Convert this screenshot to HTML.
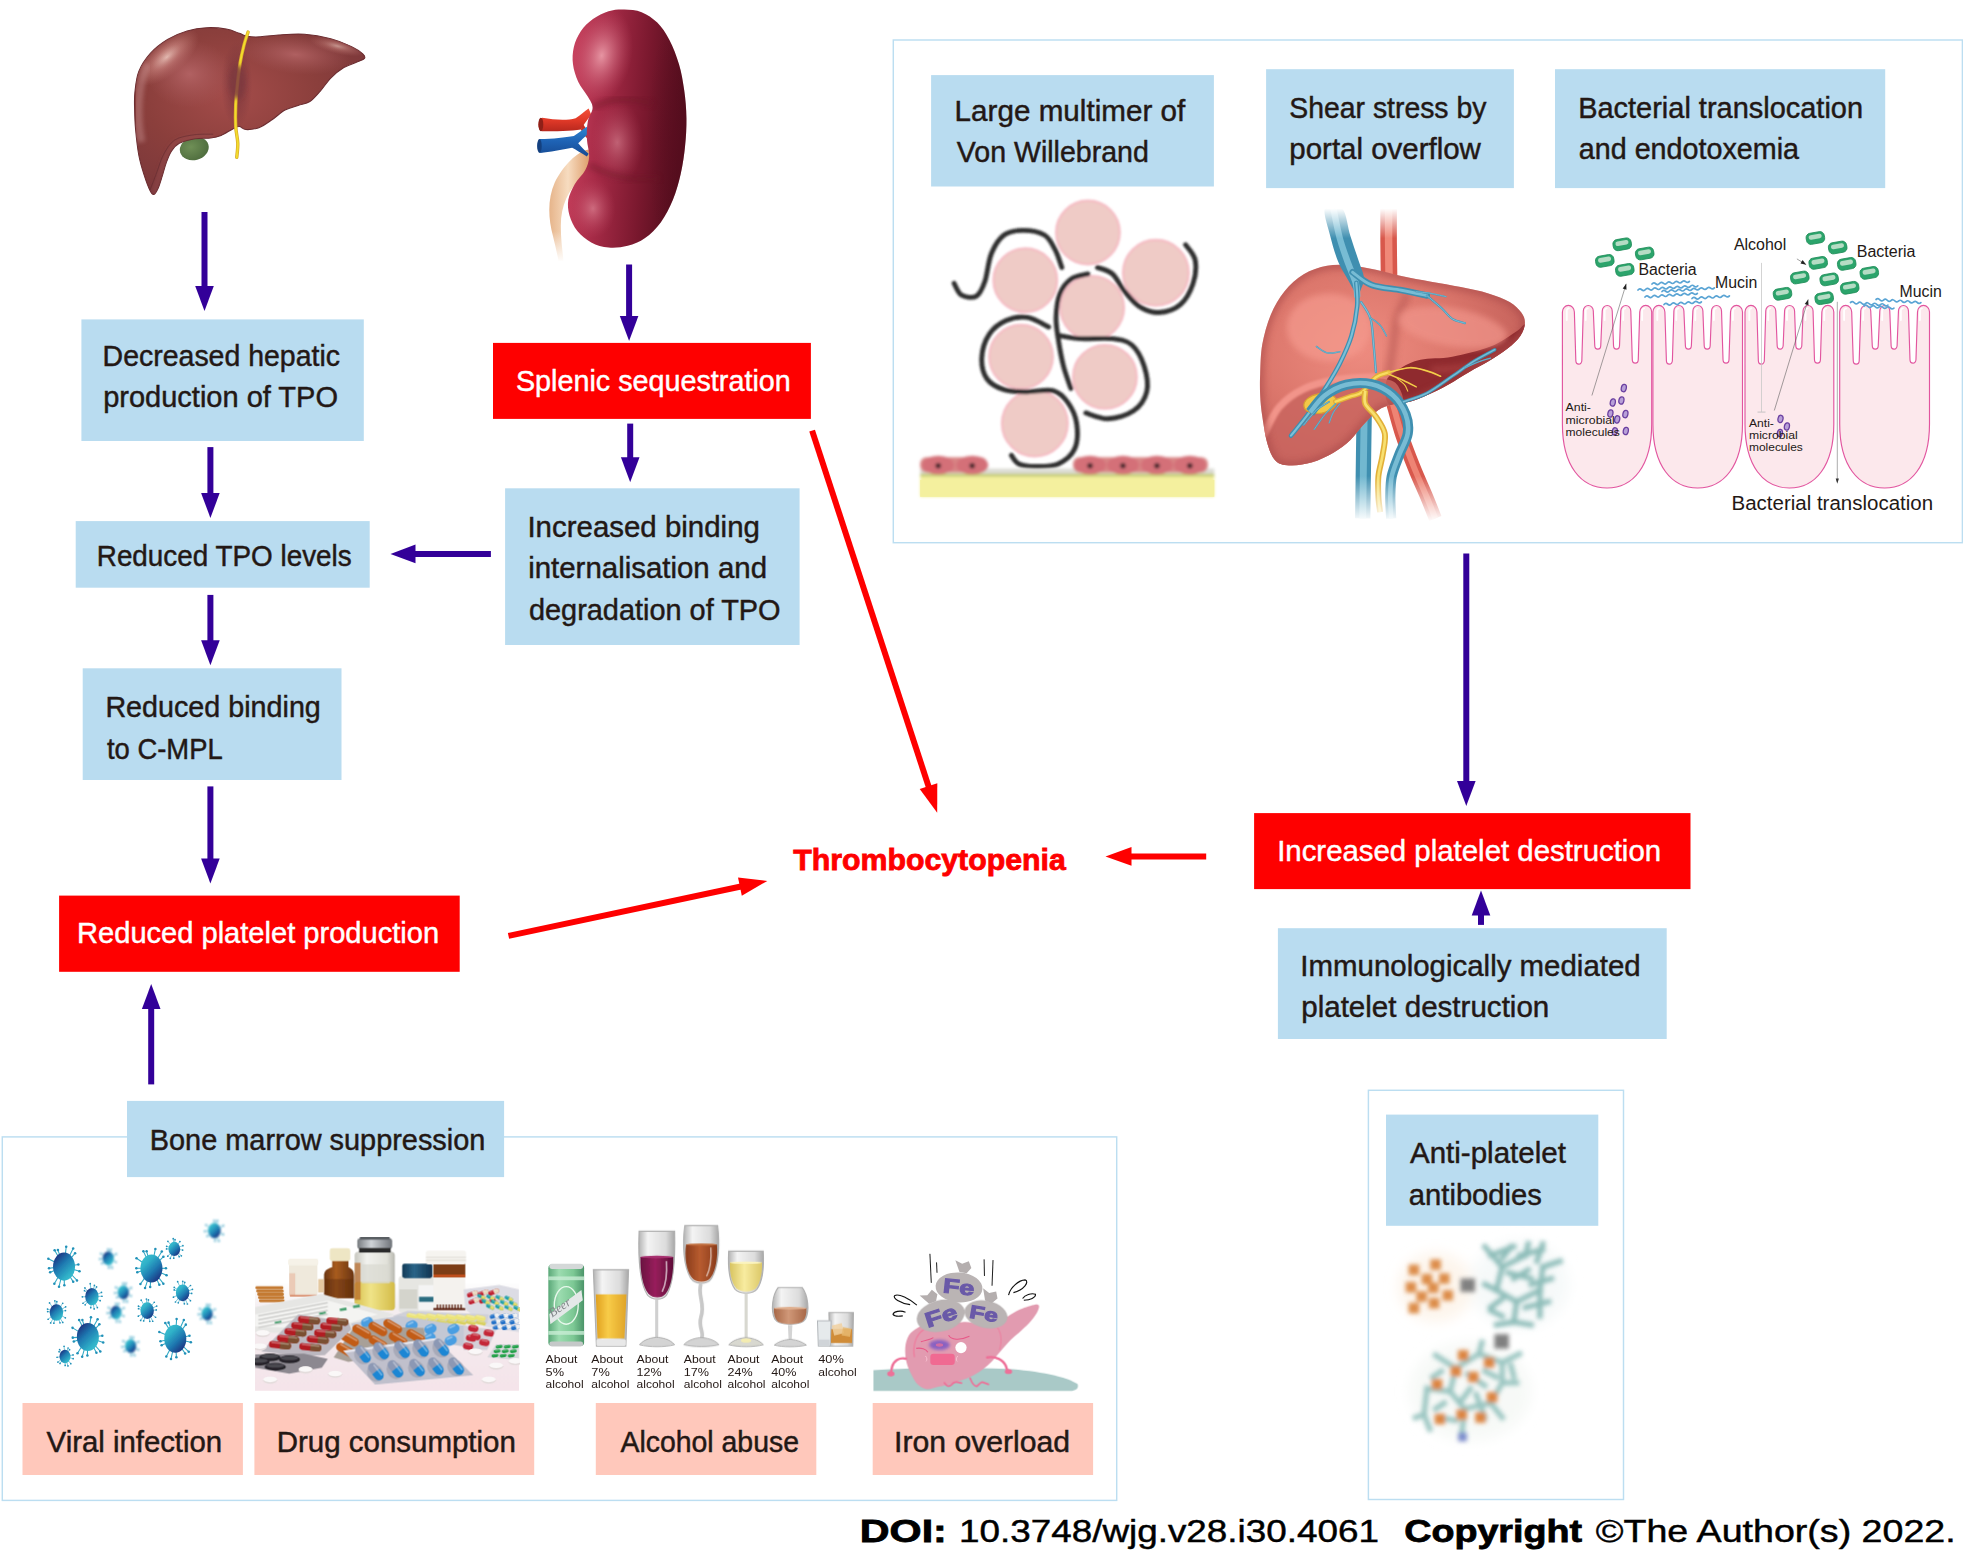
<!DOCTYPE html>
<html><head><meta charset="utf-8"><title>Thrombocytopenia mechanisms</title>
<style>
html,body{margin:0;padding:0;background:#fff;}
body{width:1963px;height:1554px;overflow:hidden;font-family:"Liberation Sans",sans-serif;}
svg{display:block;font-family:"Liberation Sans",sans-serif;}
</style></head><body>
<svg width="1963" height="1554" viewBox="0 0 1963 1554">
<rect width="1963" height="1554" fill="#fff"/>
<rect x="893.3" y="40.0" width="1069.1" height="502.7" fill="none" stroke="#bcdef1" stroke-width="1.45"/>
<rect x="2.3" y="1136.9" width="1114.4" height="363.5" fill="none" stroke="#bcdef1" stroke-width="1.45"/>
<rect x="1368.4" y="1090.3" width="255.1" height="409.2" fill="none" stroke="#bcdef1" stroke-width="1.45"/>
<rect x="81.4" y="319.4" width="282.4" height="121.6" fill="#b9dcf0"/>
<rect x="75.7" y="521.1" width="294.0" height="66.6" fill="#b9dcf0"/>
<rect x="82.7" y="668.3" width="258.8" height="111.7" fill="#b9dcf0"/>
<rect x="59.1" y="895.6" width="400.6" height="76.2" fill="#fe0000"/>
<rect x="127.0" y="1100.9" width="377.1" height="76.2" fill="#b9dcf0"/>
<rect x="493.0" y="342.9" width="317.9" height="76.0" fill="#fe0000"/>
<rect x="505.1" y="488.3" width="294.5" height="156.7" fill="#b9dcf0"/>
<rect x="931.1" y="75.1" width="282.8" height="111.4" fill="#b9dcf0"/>
<rect x="1266.1" y="69.2" width="247.8" height="118.9" fill="#b9dcf0"/>
<rect x="1555.0" y="69.2" width="330.2" height="118.9" fill="#b9dcf0"/>
<rect x="1254.1" y="813.1" width="436.4" height="76.0" fill="#fe0000"/>
<rect x="1277.9" y="928.2" width="388.8" height="110.8" fill="#b9dcf0"/>
<rect x="1386.0" y="1114.6" width="212.3" height="111.2" fill="#b9dcf0"/>
<rect x="22.5" y="1403.0" width="220.4" height="72.0" fill="#ffc8bb"/>
<rect x="254.4" y="1403.0" width="279.8" height="72.0" fill="#ffc8bb"/>
<rect x="595.8" y="1403.0" width="220.5" height="72.0" fill="#ffc8bb"/>
<rect x="872.7" y="1403.0" width="220.4" height="72.0" fill="#ffc8bb"/>
<text x="102.62" y="365.6" textLength="237.39" lengthAdjust="spacingAndGlyphs" font-size="28.6" font-weight="normal" fill="#231815" stroke="#231815" stroke-width="0.45">Decreased hepatic</text>
<text x="103.16" y="407.4" textLength="234.82" lengthAdjust="spacingAndGlyphs" font-size="28.6" font-weight="normal" fill="#231815" stroke="#231815" stroke-width="0.45">production of TPO</text>
<text x="96.78" y="566.4" textLength="254.90" lengthAdjust="spacingAndGlyphs" font-size="28.6" font-weight="normal" fill="#231815" stroke="#231815" stroke-width="0.45">Reduced TPO levels</text>
<text x="105.40" y="717.2" textLength="215.45" lengthAdjust="spacingAndGlyphs" font-size="28.6" font-weight="normal" fill="#231815" stroke="#231815" stroke-width="0.45">Reduced binding</text>
<text x="106.99" y="758.6" textLength="115.66" lengthAdjust="spacingAndGlyphs" font-size="28.6" font-weight="normal" fill="#231815" stroke="#231815" stroke-width="0.45">to C-MPL</text>
<text x="77.07" y="943.2" textLength="362.00" lengthAdjust="spacingAndGlyphs" font-size="28.6" font-weight="normal" fill="#fff" stroke="#fff" stroke-width="0.45">Reduced platelet production</text>
<text x="149.79" y="1149.7" textLength="335.58" lengthAdjust="spacingAndGlyphs" font-size="28.6" font-weight="normal" fill="#231815" stroke="#231815" stroke-width="0.45">Bone marrow suppression</text>
<text x="515.91" y="391.2" textLength="274.85" lengthAdjust="spacingAndGlyphs" font-size="28.6" font-weight="normal" fill="#fff" stroke="#fff" stroke-width="0.45">Splenic sequestration</text>
<text x="527.45" y="536.9" textLength="232.45" lengthAdjust="spacingAndGlyphs" font-size="28.6" font-weight="normal" fill="#231815" stroke="#231815" stroke-width="0.45">Increased binding</text>
<text x="528.19" y="578.4" textLength="238.81" lengthAdjust="spacingAndGlyphs" font-size="28.6" font-weight="normal" fill="#231815" stroke="#231815" stroke-width="0.45">internalisation and</text>
<text x="528.95" y="619.6" textLength="251.63" lengthAdjust="spacingAndGlyphs" font-size="28.6" font-weight="normal" fill="#231815" stroke="#231815" stroke-width="0.45">degradation of TPO</text>
<text x="954.63" y="120.8" textLength="230.61" lengthAdjust="spacingAndGlyphs" font-size="28.6" font-weight="normal" fill="#231815" stroke="#231815" stroke-width="0.45">Large multimer of</text>
<text x="956.80" y="161.6" textLength="192.05" lengthAdjust="spacingAndGlyphs" font-size="28.6" font-weight="normal" fill="#231815" stroke="#231815" stroke-width="0.45">Von Willebrand</text>
<text x="1289.32" y="117.8" textLength="197.08" lengthAdjust="spacingAndGlyphs" font-size="28.6" font-weight="normal" fill="#231815" stroke="#231815" stroke-width="0.45">Shear stress by</text>
<text x="1289.33" y="158.8" textLength="191.58" lengthAdjust="spacingAndGlyphs" font-size="28.6" font-weight="normal" fill="#231815" stroke="#231815" stroke-width="0.45">portal overflow</text>
<text x="1578.18" y="117.7" textLength="284.89" lengthAdjust="spacingAndGlyphs" font-size="28.6" font-weight="normal" fill="#231815" stroke="#231815" stroke-width="0.45">Bacterial translocation</text>
<text x="1578.75" y="158.6" textLength="220.34" lengthAdjust="spacingAndGlyphs" font-size="28.6" font-weight="normal" fill="#231815" stroke="#231815" stroke-width="0.45">and endotoxemia</text>
<text x="1277.15" y="861.4" textLength="383.94" lengthAdjust="spacingAndGlyphs" font-size="28.6" font-weight="normal" fill="#fff" stroke="#fff" stroke-width="0.45">Increased platelet destruction</text>
<text x="1300.35" y="975.7" textLength="340.35" lengthAdjust="spacingAndGlyphs" font-size="28.6" font-weight="normal" fill="#231815" stroke="#231815" stroke-width="0.45">Immunologically mediated</text>
<text x="1301.23" y="1017.2" textLength="248.08" lengthAdjust="spacingAndGlyphs" font-size="28.6" font-weight="normal" fill="#231815" stroke="#231815" stroke-width="0.45">platelet destruction</text>
<text x="1410.00" y="1162.7" textLength="155.88" lengthAdjust="spacingAndGlyphs" font-size="28.6" font-weight="normal" fill="#231815" stroke="#231815" stroke-width="0.45">Anti-platelet</text>
<text x="1408.83" y="1204.7" textLength="133.09" lengthAdjust="spacingAndGlyphs" font-size="28.6" font-weight="normal" fill="#231815" stroke="#231815" stroke-width="0.45">antibodies</text>
<text x="46.60" y="1451.9" textLength="175.59" lengthAdjust="spacingAndGlyphs" font-size="28.6" font-weight="normal" fill="#231815" stroke="#231815" stroke-width="0.45">Viral infection</text>
<text x="276.74" y="1451.9" textLength="239.06" lengthAdjust="spacingAndGlyphs" font-size="28.6" font-weight="normal" fill="#231815" stroke="#231815" stroke-width="0.45">Drug consumption</text>
<text x="620.50" y="1451.9" textLength="178.47" lengthAdjust="spacingAndGlyphs" font-size="28.6" font-weight="normal" fill="#231815" stroke="#231815" stroke-width="0.45">Alcohol abuse</text>
<text x="894.09" y="1451.9" textLength="176.06" lengthAdjust="spacingAndGlyphs" font-size="28.6" font-weight="normal" fill="#231815" stroke="#231815" stroke-width="0.45">Iron overload</text>
<text x="793.20" y="869.8" textLength="272.63" lengthAdjust="spacingAndGlyphs" font-size="29" font-weight="bold" fill="#fe0000" stroke="#fe0000" stroke-width="0.8">Thrombocytopenia</text>
<text x="859.82" y="1541.8" textLength="87.01" lengthAdjust="spacingAndGlyphs" font-size="32" font-weight="bold" fill="#000" stroke="#000" stroke-width="0.8">DOI:</text>
<text x="958.94" y="1541.8" textLength="420.07" lengthAdjust="spacingAndGlyphs" font-size="32" font-weight="normal" fill="#000" stroke="#000" stroke-width="0.45">10.3748/wjg.v28.i30.4061</text>
<text x="1404.19" y="1541.8" textLength="177.81" lengthAdjust="spacingAndGlyphs" font-size="32" font-weight="bold" fill="#000" stroke="#000" stroke-width="0.8">Copyright</text>
<text x="1595.74" y="1541.8" textLength="359.94" lengthAdjust="spacingAndGlyphs" font-size="32" font-weight="normal" fill="#000" stroke="#000" stroke-width="0.45">©The Author(s) 2022.</text>
<line x1="204.5" y1="212.0" x2="204.5" y2="287.0" stroke="#330099" stroke-width="6.0"/>
<polygon points="204.5,311.0 195.2,286.0 213.8,286.0" fill="#330099"/>
<line x1="629.1" y1="264.5" x2="629.1" y2="317.0" stroke="#330099" stroke-width="6.0"/>
<polygon points="629.1,341.0 619.8,316.0 638.4,316.0" fill="#330099"/>
<line x1="630.2" y1="423.6" x2="630.2" y2="458.2" stroke="#330099" stroke-width="6.0"/>
<polygon points="630.2,482.2 620.9,457.2 639.5,457.2" fill="#330099"/>
<line x1="210.4" y1="447.1" x2="210.4" y2="494.0" stroke="#330099" stroke-width="6.0"/>
<polygon points="210.4,518.0 201.1,493.0 219.7,493.0" fill="#330099"/>
<line x1="210.4" y1="594.9" x2="210.4" y2="641.2" stroke="#330099" stroke-width="6.0"/>
<polygon points="210.4,665.2 201.1,640.2 219.7,640.2" fill="#330099"/>
<line x1="210.4" y1="786.4" x2="210.4" y2="859.5" stroke="#330099" stroke-width="6.0"/>
<polygon points="210.4,883.5 201.1,858.5 219.7,858.5" fill="#330099"/>
<line x1="490.9" y1="553.9" x2="414.5" y2="553.9" stroke="#330099" stroke-width="6.0"/>
<polygon points="390.5,553.9 415.5,544.6 415.5,563.2" fill="#330099"/>
<line x1="151.2" y1="1084.4" x2="151.2" y2="1008.0" stroke="#330099" stroke-width="6.0"/>
<polygon points="151.2,984.0 160.5,1009.0 141.9,1009.0" fill="#330099"/>
<line x1="1466.3" y1="553.4" x2="1466.3" y2="782.1" stroke="#330099" stroke-width="6.0"/>
<polygon points="1466.3,806.1 1457.0,781.1 1475.6,781.1" fill="#330099"/>
<line x1="1481.0" y1="924.9" x2="1481.0" y2="914.4" stroke="#330099" stroke-width="6.0"/>
<polygon points="1481.0,890.4 1490.3,915.4 1471.7,915.4" fill="#330099"/>
<line x1="812.1" y1="430.6" x2="928.8" y2="787.1" stroke="#fe0000" stroke-width="6.0"/>
<polygon points="937.2,812.8 919.7,789.1 937.3,783.3" fill="#fe0000"/>
<line x1="508.5" y1="935.9" x2="740.9" y2="886.5" stroke="#fe0000" stroke-width="6.0"/>
<polygon points="767.3,880.9 741.8,895.8 738.0,877.6" fill="#fe0000"/>
<line x1="1206.2" y1="856.4" x2="1130.5" y2="856.4" stroke="#fe0000" stroke-width="6.0"/>
<polygon points="1105.5,856.4 1131.5,847.1 1131.5,865.7" fill="#fe0000"/>
<g transform="translate(120,10) scale(0.132450)" ><g transform="translate(980 760) scale(0.986) translate(-980 -760)"><defs>
<radialGradient id="lv1a" cx="0.42" cy="0.40" r="0.75"><stop offset="0" stop-color="#a44c4a"/><stop offset="0.5" stop-color="#8b3f3c"/><stop offset="1" stop-color="#77363a"/></radialGradient>
<radialGradient id="lv1b" cx="0.5" cy="0.5" r="0.5"><stop offset="0" stop-color="#f6d8cc" stop-opacity="0.95"/><stop offset="0.45" stop-color="#d8958e" stop-opacity="0.55"/><stop offset="1" stop-color="#c07570" stop-opacity="0"/></radialGradient>
<radialGradient id="lv1c" cx="0.5" cy="0.5" r="0.5"><stop offset="0" stop-color="#b8686a" stop-opacity="0.8"/><stop offset="1" stop-color="#a85a5c" stop-opacity="0"/></radialGradient>
<radialGradient id="lv1d" cx="0.5" cy="0.5" r="0.5"><stop offset="0" stop-color="#6d3038" stop-opacity="0.75"/><stop offset="1" stop-color="#6d3038" stop-opacity="0"/></radialGradient>
<radialGradient id="gb1" cx="0.4" cy="0.4" r="0.7"><stop offset="0" stop-color="#6f8f56"/><stop offset="1" stop-color="#4c6a3c"/></radialGradient>
<clipPath id="lv1clip"><path d="M100.0,620.0C105.3,571.7 110.0,510.0 130.0,460.0C150.0,410.0 183.3,360.8 220.0,320.0C256.7,279.2 303.3,243.3 350.0,215.0C396.7,186.7 450.0,165.0 500.0,150.0C550.0,135.0 600.0,127.5 650.0,125.0C700.0,122.5 758.3,127.8 800.0,135.0C841.7,142.2 873.3,158.8 900.0,168.0C926.7,177.2 935.0,185.5 960.0,190.0C985.0,194.5 1010.0,196.7 1050.0,195.0C1090.0,193.3 1141.7,183.3 1200.0,180.0C1258.3,176.7 1333.3,170.0 1400.0,175.0C1466.7,180.0 1540.0,194.2 1600.0,210.0C1660.0,225.8 1719.2,250.8 1760.0,270.0C1800.8,289.2 1828.7,310.0 1845.0,325.0C1861.3,340.0 1865.5,349.5 1858.0,360.0C1850.5,370.5 1826.3,376.3 1800.0,388.0C1773.7,399.7 1733.3,409.7 1700.0,430.0C1666.7,450.3 1630.0,480.0 1600.0,510.0C1570.0,540.0 1546.7,580.0 1520.0,610.0C1493.3,640.0 1468.3,671.7 1440.0,690.0C1411.7,708.3 1381.7,709.2 1350.0,720.0C1318.3,730.8 1283.3,736.7 1250.0,755.0C1216.7,773.3 1183.3,807.5 1150.0,830.0C1116.7,852.5 1083.3,877.5 1050.0,890.0C1016.7,902.5 975.0,906.3 950.0,905.0C925.0,903.7 916.7,882.8 900.0,882.0C883.3,881.2 873.3,888.7 850.0,900.0C826.7,911.3 788.3,938.3 760.0,950.0C731.7,961.7 713.3,965.8 680.0,970.0C646.7,974.2 600.0,968.3 560.0,975.0C520.0,981.7 470.0,994.2 440.0,1010.0C410.0,1025.8 396.7,1045.0 380.0,1070.0C363.3,1095.0 351.7,1128.3 340.0,1160.0C328.3,1191.7 320.0,1228.3 310.0,1260.0C300.0,1291.7 290.8,1326.3 280.0,1350.0C269.2,1373.7 255.8,1398.7 245.0,1402.0C234.2,1405.3 227.5,1395.3 215.0,1370.0C202.5,1344.7 184.2,1295.0 170.0,1250.0C155.8,1205.0 140.8,1158.3 130.0,1100.0C119.2,1041.7 110.3,958.3 105.0,900.0C99.7,841.7 98.8,796.7 98.0,750.0C97.2,703.3 94.7,668.3 100.0,620.0Z"/></clipPath>
<filter id="lvblur" x="-20%" y="-20%" width="140%" height="140%"><feGaussianBlur stdDeviation="18"/></filter>
</defs><ellipse cx="555" cy="1050" rx="112" ry="88" fill="url(#gb1)" transform="rotate(-15 555 1050)"/><path d="M100.0,620.0C105.3,571.7 110.0,510.0 130.0,460.0C150.0,410.0 183.3,360.8 220.0,320.0C256.7,279.2 303.3,243.3 350.0,215.0C396.7,186.7 450.0,165.0 500.0,150.0C550.0,135.0 600.0,127.5 650.0,125.0C700.0,122.5 758.3,127.8 800.0,135.0C841.7,142.2 873.3,158.8 900.0,168.0C926.7,177.2 935.0,185.5 960.0,190.0C985.0,194.5 1010.0,196.7 1050.0,195.0C1090.0,193.3 1141.7,183.3 1200.0,180.0C1258.3,176.7 1333.3,170.0 1400.0,175.0C1466.7,180.0 1540.0,194.2 1600.0,210.0C1660.0,225.8 1719.2,250.8 1760.0,270.0C1800.8,289.2 1828.7,310.0 1845.0,325.0C1861.3,340.0 1865.5,349.5 1858.0,360.0C1850.5,370.5 1826.3,376.3 1800.0,388.0C1773.7,399.7 1733.3,409.7 1700.0,430.0C1666.7,450.3 1630.0,480.0 1600.0,510.0C1570.0,540.0 1546.7,580.0 1520.0,610.0C1493.3,640.0 1468.3,671.7 1440.0,690.0C1411.7,708.3 1381.7,709.2 1350.0,720.0C1318.3,730.8 1283.3,736.7 1250.0,755.0C1216.7,773.3 1183.3,807.5 1150.0,830.0C1116.7,852.5 1083.3,877.5 1050.0,890.0C1016.7,902.5 975.0,906.3 950.0,905.0C925.0,903.7 916.7,882.8 900.0,882.0C883.3,881.2 873.3,888.7 850.0,900.0C826.7,911.3 788.3,938.3 760.0,950.0C731.7,961.7 713.3,965.8 680.0,970.0C646.7,974.2 600.0,968.3 560.0,975.0C520.0,981.7 470.0,994.2 440.0,1010.0C410.0,1025.8 396.7,1045.0 380.0,1070.0C363.3,1095.0 351.7,1128.3 340.0,1160.0C328.3,1191.7 320.0,1228.3 310.0,1260.0C300.0,1291.7 290.8,1326.3 280.0,1350.0C269.2,1373.7 255.8,1398.7 245.0,1402.0C234.2,1405.3 227.5,1395.3 215.0,1370.0C202.5,1344.7 184.2,1295.0 170.0,1250.0C155.8,1205.0 140.8,1158.3 130.0,1100.0C119.2,1041.7 110.3,958.3 105.0,900.0C99.7,841.7 98.8,796.7 98.0,750.0C97.2,703.3 94.7,668.3 100.0,620.0Z" fill="url(#lv1a)" stroke="#6b2c30" stroke-width="8" stroke-linejoin="round"/><g clip-path="url(#lv1clip)"><ellipse cx="345" cy="350" rx="300" ry="135" fill="url(#lv1b)" transform="rotate(-40 345 350)"/><path d="M150,1000 C110,800 120,560 200,400" fill="none" stroke="#c89090" stroke-width="60" opacity="0.45" filter="url(#lvblur)"/><ellipse cx="520" cy="480" rx="330" ry="260" fill="url(#lv1c)"/><ellipse cx="1330" cy="330" rx="420" ry="150" fill="url(#lv1c)" transform="rotate(6 1330 330)"/><ellipse cx="1650" cy="265" rx="220" ry="60" fill="url(#lv1b)" opacity="0.6" transform="rotate(14 1650 265)"/><ellipse cx="880" cy="560" rx="120" ry="330" fill="url(#lv1d)"/><path d="M245.0,1400.0C252.5,1375.0 274.2,1298.3 290.0,1250.0C305.8,1201.7 318.3,1151.7 340.0,1110.0C361.7,1068.3 383.3,1025.0 420.0,1000.0C456.7,975.0 513.3,967.5 560.0,960.0C606.7,952.5 676.7,955.8 700.0,955.0" fill="none" stroke="#9b5356" stroke-width="26" opacity="0.55" filter="url(#lvblur)"/><path d="M215.0,1370.0C223.3,1348.3 247.5,1285.8 265.0,1240.0C282.5,1194.2 296.7,1137.5 320.0,1095.0C343.3,1052.5 366.7,1010.0 405.0,985.0C443.3,960.0 500.8,952.5 550.0,945.0C599.2,937.5 675.0,940.8 700.0,940.0" fill="none" stroke="#5e282d" stroke-width="7" opacity="0.6"/></g><path d="M967.0,158.0C961.7,175.0 945.3,219.7 935.0,260.0C924.7,300.3 913.3,350.0 905.0,400.0C896.7,450.0 890.5,506.7 885.0,560.0C879.5,613.3 874.2,666.7 872.0,720.0C869.8,773.3 869.3,831.7 872.0,880.0C874.7,928.3 886.7,970.3 888.0,1010.0C889.3,1049.7 881.3,1100.0 880.0,1118.0" fill="none" stroke="#d7a92a" stroke-width="26" stroke-linecap="round"/><path d="M967.0,158.0C961.7,175.0 945.3,219.7 935.0,260.0C924.7,300.3 913.3,350.0 905.0,400.0C896.7,450.0 890.5,506.7 885.0,560.0C879.5,613.3 874.2,666.7 872.0,720.0C869.8,773.3 869.3,831.7 872.0,880.0C874.7,928.3 886.7,970.3 888.0,1010.0C889.3,1049.7 881.3,1100.0 880.0,1118.0" fill="none" stroke="#f3dc2c" stroke-width="15" stroke-linecap="round"/><ellipse cx="885" cy="540" rx="60" ry="130" fill="#7f3a40" opacity="0.85" filter="url(#lvblur)"/></g></g>
<g transform="translate(520,0) scale(0.173762)" ><defs>
<linearGradient id="kd1" x1="0" y1="0" x2="1" y2="0.15"><stop offset="0" stop-color="#cf4562"/><stop offset="0.35" stop-color="#a52a46"/><stop offset="0.7" stop-color="#7a182e"/><stop offset="1" stop-color="#520d1c"/></linearGradient>
<radialGradient id="kdh" cx="0.5" cy="0.5" r="0.5"><stop offset="0" stop-color="#eda0ac" stop-opacity="0.9"/><stop offset="1" stop-color="#c8506a" stop-opacity="0"/></radialGradient>
<radialGradient id="kdd" cx="0.5" cy="0.5" r="0.5"><stop offset="0" stop-color="#5a0d20" stop-opacity="0.55"/><stop offset="1" stop-color="#5a0d20" stop-opacity="0"/></radialGradient>
<linearGradient id="kart" x1="0" y1="0" x2="0" y2="1"><stop offset="0" stop-color="#f0503a"/><stop offset="0.5" stop-color="#e23a28"/><stop offset="1" stop-color="#b8281e"/></linearGradient>
<linearGradient id="kvein" x1="0" y1="0" x2="0" y2="1"><stop offset="0" stop-color="#2f86d0"/><stop offset="0.5" stop-color="#1e62b4"/><stop offset="1" stop-color="#164a92"/></linearGradient>
<linearGradient id="kur" x1="0" y1="0" x2="1" y2="0"><stop offset="0" stop-color="#e6b48a"/><stop offset="0.45" stop-color="#f7dcc0"/><stop offset="1" stop-color="#dc9a66"/></linearGradient>
<linearGradient id="kurfade" x1="0" y1="0" x2="0" y2="1"><stop offset="0" stop-color="#fff" stop-opacity="0"/><stop offset="1" stop-color="#fff" stop-opacity="1"/></linearGradient>
<clipPath id="kdclip"><path d="M600.0,55.0C631.7,55.8 668.3,57.5 700.0,70.0C731.7,82.5 763.3,103.3 790.0,130.0C816.7,156.7 839.2,190.0 860.0,230.0C880.8,270.0 900.8,321.7 915.0,370.0C929.2,418.3 937.8,468.3 945.0,520.0C952.2,571.7 957.2,626.7 958.0,680.0C958.8,733.3 955.5,786.7 950.0,840.0C944.5,893.3 936.7,948.3 925.0,1000.0C913.3,1051.7 899.2,1103.3 880.0,1150.0C860.8,1196.7 836.7,1243.3 810.0,1280.0C783.3,1316.7 751.7,1347.5 720.0,1370.0C688.3,1392.5 655.0,1405.8 620.0,1415.0C585.0,1424.2 545.0,1428.3 510.0,1425.0C475.0,1421.7 440.0,1410.8 410.0,1395.0C380.0,1379.2 350.8,1355.8 330.0,1330.0C309.2,1304.2 293.7,1270.0 285.0,1240.0C276.3,1210.0 273.0,1180.0 278.0,1150.0C283.0,1120.0 298.8,1088.3 315.0,1060.0C331.2,1031.7 361.2,1006.7 375.0,980.0C388.8,953.3 396.3,930.0 398.0,900.0C399.7,870.0 386.3,833.3 385.0,800.0C383.7,766.7 384.5,730.0 390.0,700.0C395.5,670.0 418.0,644.2 418.0,620.0C418.0,595.8 403.8,580.0 390.0,555.0C376.2,530.0 349.2,500.8 335.0,470.0C320.8,439.2 309.2,403.3 305.0,370.0C300.8,336.7 302.5,301.7 310.0,270.0C317.5,238.3 331.7,206.7 350.0,180.0C368.3,153.3 393.3,129.2 420.0,110.0C446.7,90.8 480.0,74.2 510.0,65.0C540.0,55.8 568.3,54.2 600.0,55.0Z"/></clipPath>
<filter id="kdblur" x="-30%" y="-30%" width="160%" height="160%"><feGaussianBlur stdDeviation="14"/></filter>
</defs><path d="M395,860 C330,870 250,950 200,1050 C160,1140 160,1250 190,1360 C205,1420 215,1470 222,1500 L250,1500 C245,1440 235,1380 235,1300 C235,1180 280,1090 350,1030 C400,985 420,930 400,880 Z" fill="url(#kur)"/><rect x="150" y="1330" width="120" height="180" fill="url(#kurfade)"/><path d="M128,678 C200,690 270,695 320,680 C350,665 370,640 395,625 L410,660 C385,690 365,720 350,745 C300,755 200,755 125,755 C100,745 100,690 128,678Z" fill="url(#kart)"/><ellipse cx="120" cy="716" rx="14" ry="39" fill="#8e2018"/><path d="M350,745 C365,770 375,790 395,800 L395,760 C380,740 370,725 362,712Z" fill="#c43024"/><path d="M115,800 C190,800 260,790 310,782 C340,765 360,745 385,730 L395,770 C370,790 350,810 335,825 C355,850 375,870 395,885 L385,900 C350,880 320,860 300,850 C240,860 170,875 118,880 C95,870 95,810 115,800Z" fill="url(#kvein)"/><ellipse cx="112" cy="840" rx="13" ry="40" fill="#14407f"/><path d="M600.0,55.0C631.7,55.8 668.3,57.5 700.0,70.0C731.7,82.5 763.3,103.3 790.0,130.0C816.7,156.7 839.2,190.0 860.0,230.0C880.8,270.0 900.8,321.7 915.0,370.0C929.2,418.3 937.8,468.3 945.0,520.0C952.2,571.7 957.2,626.7 958.0,680.0C958.8,733.3 955.5,786.7 950.0,840.0C944.5,893.3 936.7,948.3 925.0,1000.0C913.3,1051.7 899.2,1103.3 880.0,1150.0C860.8,1196.7 836.7,1243.3 810.0,1280.0C783.3,1316.7 751.7,1347.5 720.0,1370.0C688.3,1392.5 655.0,1405.8 620.0,1415.0C585.0,1424.2 545.0,1428.3 510.0,1425.0C475.0,1421.7 440.0,1410.8 410.0,1395.0C380.0,1379.2 350.8,1355.8 330.0,1330.0C309.2,1304.2 293.7,1270.0 285.0,1240.0C276.3,1210.0 273.0,1180.0 278.0,1150.0C283.0,1120.0 298.8,1088.3 315.0,1060.0C331.2,1031.7 361.2,1006.7 375.0,980.0C388.8,953.3 396.3,930.0 398.0,900.0C399.7,870.0 386.3,833.3 385.0,800.0C383.7,766.7 384.5,730.0 390.0,700.0C395.5,670.0 418.0,644.2 418.0,620.0C418.0,595.8 403.8,580.0 390.0,555.0C376.2,530.0 349.2,500.8 335.0,470.0C320.8,439.2 309.2,403.3 305.0,370.0C300.8,336.7 302.5,301.7 310.0,270.0C317.5,238.3 331.7,206.7 350.0,180.0C368.3,153.3 393.3,129.2 420.0,110.0C446.7,90.8 480.0,74.2 510.0,65.0C540.0,55.8 568.3,54.2 600.0,55.0Z" fill="url(#kd1)"/><g clip-path="url(#kdclip)"><ellipse cx="470" cy="320" rx="175" ry="280" fill="url(#kdh)" transform="rotate(12 470 320)"/><ellipse cx="560" cy="820" rx="150" ry="240" fill="url(#kdh)" opacity="0.55"/><ellipse cx="420" cy="1200" rx="130" ry="170" fill="url(#kdh)" opacity="0.6"/><ellipse cx="900" cy="800" rx="170" ry="700" fill="url(#kdd)"/><path d="M420,620 C520,560 650,560 760,600" fill="none" stroke="#6a1428" stroke-width="40" opacity="0.35" filter="url(#kdblur)"/><path d="M400,950 C500,1010 640,1040 800,1030" fill="none" stroke="#6a1428" stroke-width="40" opacity="0.35" filter="url(#kdblur)"/></g></g>
<g transform="translate(900,190) scale(0.212359)" ><defs><filter id="vwblur" x="-5%" y="-5%" width="110%" height="110%"><feGaussianBlur stdDeviation="5"/></filter><filter id="vwblur2" x="-5%" y="-20%" width="110%" height="140%"><feGaussianBlur stdDeviation="7"/></filter></defs><g filter="url(#vwblur)"><circle cx="885" cy="200" r="150" fill="#efcbc6" stroke="#f5bcc4" stroke-width="10"/><circle cx="590" cy="425" r="150" fill="#efcbc6" stroke="#f5bcc4" stroke-width="10"/><circle cx="1205" cy="390" r="155" fill="#efcbc6" stroke="#f5bcc4" stroke-width="10"/><circle cx="905" cy="555" r="150" fill="#efcbc6" stroke="#f5bcc4" stroke-width="10"/><circle cx="570" cy="785" r="150" fill="#efcbc6" stroke="#f5bcc4" stroke-width="10"/><circle cx="965" cy="880" r="150" fill="#efcbc6" stroke="#f5bcc4" stroke-width="10"/><circle cx="635" cy="1100" r="155" fill="#efcbc6" stroke="#f5bcc4" stroke-width="10"/><path d="M255.0,440.0C260.8,449.2 272.5,485.0 290.0,495.0C307.5,505.0 341.7,510.8 360.0,500.0C378.3,489.2 388.3,463.3 400.0,430.0C411.7,396.7 415.0,336.3 430.0,300.0C445.0,263.7 465.0,230.3 490.0,212.0C515.0,193.7 548.3,190.0 580.0,190.0C611.7,190.0 655.0,197.0 680.0,212.0C705.0,227.0 716.3,254.5 730.0,280.0C743.7,305.5 756.7,350.8 762.0,365.0" fill="none" stroke="#2e2e2e" stroke-width="23" stroke-linecap="round"/><path d="M930.0,365.0C941.7,370.0 978.3,375.8 1000.0,395.0C1021.7,414.2 1038.3,454.2 1060.0,480.0C1081.7,505.8 1103.3,533.8 1130.0,550.0C1156.7,566.2 1188.3,578.7 1220.0,577.0C1251.7,575.3 1293.3,562.8 1320.0,540.0C1346.7,517.2 1368.3,475.0 1380.0,440.0C1391.7,405.0 1395.8,360.3 1390.0,330.0C1384.2,299.7 1352.5,270.0 1345.0,258.0" fill="none" stroke="#2e2e2e" stroke-width="23" stroke-linecap="round"/><path d="M885.0,395.0C871.7,399.2 827.2,404.2 805.0,420.0C782.8,435.8 763.7,460.0 752.0,490.0C740.3,520.0 736.2,565.0 735.0,600.0C733.8,635.0 739.2,661.7 745.0,700.0C750.8,738.3 760.0,790.8 770.0,830.0C780.0,869.2 799.2,917.5 805.0,935.0" fill="none" stroke="#2e2e2e" stroke-width="23" stroke-linecap="round"/><path d="M700.0,645.0C683.3,637.5 633.3,605.0 600.0,600.0C566.7,595.0 530.0,601.7 500.0,615.0C470.0,628.3 439.2,650.8 420.0,680.0C400.8,709.2 386.7,755.0 385.0,790.0C383.3,825.0 392.5,865.0 410.0,890.0C427.5,915.0 458.3,930.0 490.0,940.0C521.7,950.0 561.7,949.2 600.0,950.0C638.3,950.8 688.3,936.7 720.0,945.0C751.7,953.3 771.3,974.2 790.0,1000.0C808.7,1025.8 826.7,1063.3 832.0,1100.0C837.3,1136.7 836.5,1188.3 822.0,1220.0C807.5,1251.7 775.3,1276.3 745.0,1290.0C714.7,1303.7 670.8,1302.0 640.0,1302.0C609.2,1302.0 579.2,1298.7 560.0,1290.0C540.8,1281.3 530.8,1256.7 525.0,1250.0" fill="none" stroke="#2e2e2e" stroke-width="23" stroke-linecap="round"/><path d="M745.0,685.0C762.5,687.5 807.5,697.5 850.0,700.0C892.5,702.5 959.7,695.0 1000.0,700.0C1040.3,705.0 1067.0,708.3 1092.0,730.0C1117.0,751.7 1138.3,793.3 1150.0,830.0C1161.7,866.7 1170.3,915.0 1162.0,950.0C1153.7,985.0 1130.3,1018.8 1100.0,1040.0C1069.7,1061.2 1017.5,1075.3 980.0,1077.0C942.5,1078.7 892.5,1054.5 875.0,1050.0" fill="none" stroke="#2e2e2e" stroke-width="23" stroke-linecap="round"/></g><g filter="url(#vwblur2)"><rect x="95" y="1312" width="1385" height="26" fill="#dcdcd4"/><rect x="95" y="1336" width="1385" height="16" fill="#c4cc78"/><rect x="95" y="1350" width="1385" height="95" fill="#f4f09e"/><rect x="95" y="1258" width="315" height="72" rx="30" fill="#d88484"/><rect x="815" y="1258" width="635" height="72" rx="30" fill="#d88484"/><ellipse cx="180" cy="1296" rx="75" ry="44" fill="#d47078"/><circle cx="180" cy="1298" r="13" fill="#3a2428"/><ellipse cx="340" cy="1296" rx="75" ry="44" fill="#d47078"/><circle cx="340" cy="1298" r="13" fill="#3a2428"/><ellipse cx="895" cy="1296" rx="75" ry="44" fill="#d47078"/><circle cx="895" cy="1298" r="13" fill="#3a2428"/><ellipse cx="1050" cy="1296" rx="75" ry="44" fill="#d47078"/><circle cx="1050" cy="1298" r="13" fill="#3a2428"/><ellipse cx="1210" cy="1296" rx="75" ry="44" fill="#d47078"/><circle cx="1210" cy="1298" r="13" fill="#3a2428"/><ellipse cx="1365" cy="1296" rx="75" ry="44" fill="#d47078"/><circle cx="1365" cy="1298" r="13" fill="#3a2428"/></g><rect x="95" y="1365" width="1385" height="80" fill="#f4f09e"/></g>
<g transform="translate(1240,200) scale(0.212314)" ><defs>
<radialGradient id="l2a" cx="0.38" cy="0.42" r="0.75"><stop offset="0" stop-color="#ee8c80"/><stop offset="0.5" stop-color="#dc776c"/><stop offset="1" stop-color="#bd5a55"/></radialGradient>
<linearGradient id="l2fadeT" x1="0" y1="0" x2="0" y2="1"><stop offset="0" stop-color="#fff" stop-opacity="1"/><stop offset="0.3" stop-color="#fff" stop-opacity="1"/><stop offset="1" stop-color="#fff" stop-opacity="0"/></linearGradient>
<linearGradient id="l2fadeB" x1="0" y1="0" x2="0" y2="1"><stop offset="0" stop-color="#fff" stop-opacity="0"/><stop offset="1" stop-color="#fff" stop-opacity="1"/></linearGradient>
<clipPath id="l2clip"><path d="M95.0,820.0C96.7,780.0 96.7,726.7 105.0,680.0C113.3,633.3 127.5,581.7 145.0,540.0C162.5,498.3 184.2,461.7 210.0,430.0C235.8,398.3 266.7,370.0 300.0,350.0C333.3,330.0 373.3,317.0 410.0,310.0C446.7,303.0 481.7,305.0 520.0,308.0C558.3,311.0 600.0,319.7 640.0,328.0C680.0,336.3 716.7,348.5 760.0,358.0C803.3,367.5 853.3,376.3 900.0,385.0C946.7,393.7 995.0,400.8 1040.0,410.0C1085.0,419.2 1131.7,428.3 1170.0,440.0C1208.3,451.7 1244.2,465.0 1270.0,480.0C1295.8,495.0 1313.0,513.3 1325.0,530.0C1337.0,546.7 1342.8,561.7 1342.0,580.0C1341.2,598.3 1333.7,620.0 1320.0,640.0C1306.3,660.0 1285.0,680.0 1260.0,700.0C1235.0,720.0 1200.0,741.7 1170.0,760.0C1140.0,778.3 1111.7,791.7 1080.0,810.0C1048.3,828.3 1013.3,851.7 980.0,870.0C946.7,888.3 910.0,906.7 880.0,920.0C850.0,933.3 826.7,943.0 800.0,950.0C773.3,957.0 745.0,955.3 720.0,962.0C695.0,968.7 673.3,973.7 650.0,990.0C626.7,1006.3 601.7,1036.7 580.0,1060.0C558.3,1083.3 543.3,1108.3 520.0,1130.0C496.7,1151.7 470.0,1172.5 440.0,1190.0C410.0,1207.5 373.3,1225.0 340.0,1235.0C306.7,1245.0 268.3,1250.8 240.0,1250.0C211.7,1249.2 188.3,1246.7 170.0,1230.0C151.7,1213.3 140.8,1185.0 130.0,1150.0C119.2,1115.0 110.8,1058.3 105.0,1020.0C99.2,981.7 96.7,953.3 95.0,920.0C93.3,886.7 93.3,860.0 95.0,820.0Z"/></clipPath>
<filter id="l2blur" x="-30%" y="-30%" width="160%" height="160%"><feGaussianBlur stdDeviation="16"/></filter>
<filter id="l2blur2" x="-30%" y="-30%" width="160%" height="160%"><feGaussianBlur stdDeviation="6"/></filter>
</defs><path d="M700.0,40.0C700.0,66.7 699.7,146.7 700.0,200.0C700.3,253.3 701.7,333.3 702.0,360.0" fill="none" stroke="#d8584c" stroke-width="78" stroke-linecap="butt" /><path d="M700.0,40.0C700.0,66.7 699.7,146.7 700.0,200.0C700.3,253.3 701.7,333.3 702.0,360.0" fill="none" stroke="#f08878" stroke-width="35.1" stroke-linecap="butt" /><path d="M720.0,960.0C726.7,983.3 743.3,1050.0 760.0,1100.0C776.7,1150.0 800.0,1210.0 820.0,1260.0C840.0,1310.0 863.3,1360.0 880.0,1400.0C896.7,1440.0 913.3,1483.3 920.0,1500.0" fill="none" stroke="#d8584c" stroke-width="62" stroke-linecap="butt" /><path d="M720.0,960.0C726.7,983.3 743.3,1050.0 760.0,1100.0C776.7,1150.0 800.0,1210.0 820.0,1260.0C840.0,1310.0 863.3,1360.0 880.0,1400.0C896.7,1440.0 913.3,1483.3 920.0,1500.0" fill="none" stroke="#ee8474" stroke-width="27.9" stroke-linecap="butt" /><path d="M585.0,1000.0C584.5,1033.3 583.2,1116.7 582.0,1200.0C580.8,1283.3 578.7,1450.0 578.0,1500.0" fill="none" stroke="#3f8fb0" stroke-width="72" stroke-linecap="butt" /><path d="M585.0,1000.0C584.5,1033.3 583.2,1116.7 582.0,1200.0C580.8,1283.3 578.7,1450.0 578.0,1500.0" fill="none" stroke="#72b8d0" stroke-width="32.4" stroke-linecap="butt" /><path d="M95.0,820.0C96.7,780.0 96.7,726.7 105.0,680.0C113.3,633.3 127.5,581.7 145.0,540.0C162.5,498.3 184.2,461.7 210.0,430.0C235.8,398.3 266.7,370.0 300.0,350.0C333.3,330.0 373.3,317.0 410.0,310.0C446.7,303.0 481.7,305.0 520.0,308.0C558.3,311.0 600.0,319.7 640.0,328.0C680.0,336.3 716.7,348.5 760.0,358.0C803.3,367.5 853.3,376.3 900.0,385.0C946.7,393.7 995.0,400.8 1040.0,410.0C1085.0,419.2 1131.7,428.3 1170.0,440.0C1208.3,451.7 1244.2,465.0 1270.0,480.0C1295.8,495.0 1313.0,513.3 1325.0,530.0C1337.0,546.7 1342.8,561.7 1342.0,580.0C1341.2,598.3 1333.7,620.0 1320.0,640.0C1306.3,660.0 1285.0,680.0 1260.0,700.0C1235.0,720.0 1200.0,741.7 1170.0,760.0C1140.0,778.3 1111.7,791.7 1080.0,810.0C1048.3,828.3 1013.3,851.7 980.0,870.0C946.7,888.3 910.0,906.7 880.0,920.0C850.0,933.3 826.7,943.0 800.0,950.0C773.3,957.0 745.0,955.3 720.0,962.0C695.0,968.7 673.3,973.7 650.0,990.0C626.7,1006.3 601.7,1036.7 580.0,1060.0C558.3,1083.3 543.3,1108.3 520.0,1130.0C496.7,1151.7 470.0,1172.5 440.0,1190.0C410.0,1207.5 373.3,1225.0 340.0,1235.0C306.7,1245.0 268.3,1250.8 240.0,1250.0C211.7,1249.2 188.3,1246.7 170.0,1230.0C151.7,1213.3 140.8,1185.0 130.0,1150.0C119.2,1115.0 110.8,1058.3 105.0,1020.0C99.2,981.7 96.7,953.3 95.0,920.0C93.3,886.7 93.3,860.0 95.0,820.0Z" fill="url(#l2a)"/><g clip-path="url(#l2clip)"><path d="M690.0,850.0C700.0,821.7 733.3,806.3 760.0,790.0C786.7,773.7 810.0,760.7 850.0,752.0C890.0,743.3 945.0,748.3 1000.0,738.0C1055.0,727.7 1130.0,709.7 1180.0,690.0C1230.0,670.3 1272.5,637.5 1300.0,620.0C1327.5,602.5 1333.3,581.7 1345.0,585.0C1356.7,588.3 1377.5,614.2 1370.0,640.0C1362.5,665.8 1328.3,713.3 1300.0,740.0C1271.7,766.7 1250.0,773.3 1200.0,800.0C1150.0,826.7 1066.7,870.0 1000.0,900.0C933.3,930.0 850.0,970.0 800.0,980.0C750.0,990.0 718.3,981.7 700.0,960.0C681.7,938.3 680.0,878.3 690.0,850.0Z" fill="#8f2a2e"/><path d="M900.0,800.0C925.0,798.3 1000.0,800.0 1050.0,790.0C1100.0,780.0 1153.3,763.3 1200.0,740.0C1246.7,716.7 1308.3,665.0 1330.0,650.0" fill="none" stroke="#b04444" stroke-width="30" opacity="0.7" filter="url(#l2blur)"/><path d="M790.0,440.0C781.7,460.0 751.7,516.7 740.0,560.0C728.3,603.3 726.7,655.0 720.0,700.0C713.3,745.0 703.3,808.3 700.0,830.0" fill="none" stroke="#c0605a" stroke-width="40" opacity="0.7" filter="url(#l2blur)"/><ellipse cx="1000" cy="600" rx="260" ry="90" fill="#f0948a" opacity="0.7" filter="url(#l2blur)" transform="rotate(10 1000 600)"/><ellipse cx="420" cy="600" rx="200" ry="160" fill="#f49a8e" opacity="0.7" filter="url(#l2blur)"/><path d="M110.0,1120.0C120.0,1075.0 148.3,1017.5 180.0,980.0C211.7,942.5 253.3,916.7 300.0,895.0C346.7,873.3 403.3,859.2 460.0,850.0C516.7,840.8 593.3,836.7 640.0,840.0C686.7,843.3 720.0,845.0 740.0,870.0C760.0,895.0 783.3,953.3 760.0,990.0C736.7,1026.7 651.7,1051.7 600.0,1090.0C548.3,1128.3 510.0,1190.0 450.0,1220.0C390.0,1250.0 295.0,1265.0 240.0,1270.0C185.0,1275.0 141.7,1275.0 120.0,1250.0C98.3,1225.0 100.0,1165.0 110.0,1120.0Z" fill="#c9655f" opacity="0.85"/><path d="M110.0,1110.0C122.5,1087.5 153.3,1011.7 185.0,975.0C216.7,938.3 254.2,911.7 300.0,890.0C345.8,868.3 403.3,854.7 460.0,845.0C516.7,835.3 610.0,834.2 640.0,832.0" fill="none" stroke="#f2948a" stroke-width="34" filter="url(#l2blur2)"/><path d="M95.0,820.0C96.7,780.0 96.7,726.7 105.0,680.0C113.3,633.3 127.5,581.7 145.0,540.0C162.5,498.3 184.2,461.7 210.0,430.0C235.8,398.3 266.7,370.0 300.0,350.0C333.3,330.0 373.3,317.0 410.0,310.0C446.7,303.0 481.7,305.0 520.0,308.0C558.3,311.0 600.0,319.7 640.0,328.0C680.0,336.3 716.7,348.5 760.0,358.0C803.3,367.5 853.3,376.3 900.0,385.0C946.7,393.7 995.0,400.8 1040.0,410.0C1085.0,419.2 1131.7,428.3 1170.0,440.0C1208.3,451.7 1244.2,465.0 1270.0,480.0C1295.8,495.0 1313.0,513.3 1325.0,530.0C1337.0,546.7 1342.8,561.7 1342.0,580.0C1341.2,598.3 1333.7,620.0 1320.0,640.0C1306.3,660.0 1285.0,680.0 1260.0,700.0C1235.0,720.0 1200.0,741.7 1170.0,760.0C1140.0,778.3 1111.7,791.7 1080.0,810.0C1048.3,828.3 1013.3,851.7 980.0,870.0C946.7,888.3 910.0,906.7 880.0,920.0C850.0,933.3 826.7,943.0 800.0,950.0C773.3,957.0 745.0,955.3 720.0,962.0C695.0,968.7 673.3,973.7 650.0,990.0C626.7,1006.3 601.7,1036.7 580.0,1060.0C558.3,1083.3 543.3,1108.3 520.0,1130.0C496.7,1151.7 470.0,1172.5 440.0,1190.0C410.0,1207.5 373.3,1225.0 340.0,1235.0C306.7,1245.0 268.3,1250.8 240.0,1250.0C211.7,1249.2 188.3,1246.7 170.0,1230.0C151.7,1213.3 140.8,1185.0 130.0,1150.0C119.2,1115.0 110.8,1058.3 105.0,1020.0C99.2,981.7 96.7,953.3 95.0,920.0C93.3,886.7 93.3,860.0 95.0,820.0Z" fill="none" stroke="#a84a48" stroke-width="40" opacity="0.55" filter="url(#l2blur)"/></g><path d="M400.0,40.0C390.5,61.7 414.7,128.3 425.0,170.0C435.3,211.7 448.7,256.7 462.0,290.0C475.3,323.3 492.3,346.7 505.0,370.0C517.7,393.3 530.2,413.3 538.0,430.0C545.8,446.7 547.3,470.0 552.0,470.0C556.7,470.0 560.7,446.7 566.0,430.0C571.3,413.3 585.0,393.3 584.0,370.0C583.0,346.7 570.7,323.3 560.0,290.0C549.3,256.7 533.0,211.7 520.0,170.0C507.0,128.3 502.0,61.7 482.0,40.0C462.0,18.3 409.5,18.3 400.0,40.0Z" fill="#3f8fb0"/><path d="M440.0,40.0C445.0,63.3 458.3,136.7 470.0,180.0C481.7,223.3 497.5,265.0 510.0,300.0C522.5,335.0 538.0,365.0 545.0,390.0C552.0,415.0 550.8,440.0 552.0,450.0" fill="none" stroke="#78bcd4" stroke-width="30" stroke-linecap="round"/><path d="M548.0,390.0C548.7,408.3 555.8,458.3 552.0,500.0C548.2,541.7 538.7,595.0 525.0,640.0C511.3,685.0 490.8,728.3 470.0,770.0C449.2,811.7 425.0,850.0 400.0,890.0C375.0,930.0 346.7,973.3 320.0,1010.0C293.3,1046.7 253.3,1093.3 240.0,1110.0" fill="none" stroke="#3f8fb0" stroke-width="22" stroke-linecap="round" /><path d="M548.0,390.0C548.7,408.3 555.8,458.3 552.0,500.0C548.2,541.7 538.7,595.0 525.0,640.0C511.3,685.0 490.8,728.3 470.0,770.0C449.2,811.7 425.0,850.0 400.0,890.0C375.0,930.0 346.7,973.3 320.0,1010.0C293.3,1046.7 253.3,1093.3 240.0,1110.0" fill="none" stroke="#7cc0d8" stroke-width="9.9" stroke-linecap="round" /><path d="M530.0,340.0C545.0,350.0 581.7,385.8 620.0,400.0C658.3,414.2 716.7,416.7 760.0,425.0C803.3,433.3 860.0,445.8 880.0,450.0" fill="none" stroke="#3f8fb0" stroke-width="30" stroke-linecap="round" /><path d="M530.0,340.0C545.0,350.0 581.7,385.8 620.0,400.0C658.3,414.2 716.7,416.7 760.0,425.0C803.3,433.3 860.0,445.8 880.0,450.0" fill="none" stroke="#78bcd4" stroke-width="13.5" stroke-linecap="round" /><path d="M880.0,450.0C891.7,460.0 930.0,491.7 950.0,510.0C970.0,528.3 981.7,548.3 1000.0,560.0C1018.3,571.7 1050.0,576.7 1060.0,580.0" fill="none" stroke="#4a98b8" stroke-width="10" stroke-linecap="round" /><path d="M880.0,450.0C891.7,460.0 930.0,491.7 950.0,510.0C970.0,528.3 981.7,548.3 1000.0,560.0C1018.3,571.7 1050.0,576.7 1060.0,580.0" fill="none" stroke="#7cc0d8" stroke-width="4.5" stroke-linecap="round" /><path d="M830.0,432.0C841.7,433.3 876.7,436.2 900.0,440.0C923.3,443.8 958.3,452.5 970.0,455.0" fill="none" stroke="#4a98b8" stroke-width="7" stroke-linecap="round" /><path d="M830.0,432.0C841.7,433.3 876.7,436.2 900.0,440.0C923.3,443.8 958.3,452.5 970.0,455.0" fill="none" stroke="#7cc0d8" stroke-width="3.1" stroke-linecap="round" /><path d="M570.0,480.0C577.5,493.3 605.0,525.0 615.0,560.0C625.0,595.0 625.8,648.3 630.0,690.0C634.2,731.7 638.3,790.0 640.0,810.0" fill="none" stroke="#4a98b8" stroke-width="11" stroke-linecap="round" /><path d="M570.0,480.0C577.5,493.3 605.0,525.0 615.0,560.0C625.0,595.0 625.8,648.3 630.0,690.0C634.2,731.7 638.3,790.0 640.0,810.0" fill="none" stroke="#7cc0d8" stroke-width="5.0" stroke-linecap="round" /><path d="M615.0,555.0C622.5,560.8 647.5,575.8 660.0,590.0C672.5,604.2 685.0,631.7 690.0,640.0" fill="none" stroke="#4a98b8" stroke-width="7" stroke-linecap="round" /><path d="M615.0,555.0C622.5,560.8 647.5,575.8 660.0,590.0C672.5,604.2 685.0,631.7 690.0,640.0" fill="none" stroke="#7cc0d8" stroke-width="3.1" stroke-linecap="round" /><path d="M360.0,690.0C368.3,695.0 391.7,715.8 410.0,720.0C428.3,724.2 460.0,715.8 470.0,715.0" fill="none" stroke="#4a98b8" stroke-width="7" stroke-linecap="round" /><path d="M360.0,690.0C368.3,695.0 391.7,715.8 410.0,720.0C428.3,724.2 460.0,715.8 470.0,715.0" fill="none" stroke="#7cc0d8" stroke-width="3.1" stroke-linecap="round" /><ellipse cx="378" cy="958" rx="78" ry="46" fill="#f2c848" stroke="#d8a030" stroke-width="6" transform="rotate(-10 378 958)"/><path d="M450.0,950.0C461.7,945.8 499.2,932.5 520.0,925.0C540.8,917.5 555.0,920.0 575.0,905.0C595.0,890.0 619.2,850.5 640.0,835.0C660.8,819.5 690.0,815.8 700.0,812.0" fill="none" stroke="#e2b038" stroke-width="24" stroke-linecap="round" /><path d="M450.0,950.0C461.7,945.8 499.2,932.5 520.0,925.0C540.8,917.5 555.0,920.0 575.0,905.0C595.0,890.0 619.2,850.5 640.0,835.0C660.8,819.5 690.0,815.8 700.0,812.0" fill="none" stroke="#f8dc60" stroke-width="10.8" stroke-linecap="round" /><path d="M700.0,812.0C716.7,808.3 770.0,791.2 800.0,790.0C830.0,788.8 855.8,798.3 880.0,805.0C904.2,811.7 934.2,825.8 945.0,830.0" fill="none" stroke="#e8b838" stroke-width="8" stroke-linecap="round" /><path d="M700.0,812.0C716.7,808.3 770.0,791.2 800.0,790.0C830.0,788.8 855.8,798.3 880.0,805.0C904.2,811.7 934.2,825.8 945.0,830.0" fill="none" stroke="#f8dc60" stroke-width="3.6" stroke-linecap="round" /><path d="M700.0,820.0C711.7,825.0 748.3,840.0 770.0,850.0C791.7,860.0 820.0,875.0 830.0,880.0" fill="none" stroke="#e8b838" stroke-width="7" stroke-linecap="round" /><path d="M700.0,820.0C711.7,825.0 748.3,840.0 770.0,850.0C791.7,860.0 820.0,875.0 830.0,880.0" fill="none" stroke="#f8dc60" stroke-width="3.1" stroke-linecap="round" /><path d="M740.0,840.0C745.8,845.0 766.7,860.0 775.0,870.0C783.3,880.0 787.5,895.0 790.0,900.0" fill="none" stroke="#e8b838" stroke-width="5" stroke-linecap="round" /><path d="M740.0,840.0C745.8,845.0 766.7,860.0 775.0,870.0C783.3,880.0 787.5,895.0 790.0,900.0" fill="none" stroke="#f8dc60" stroke-width="2.2" stroke-linecap="round" /><path d="M590.0,900.0C590.0,910.0 581.7,940.0 590.0,960.0C598.3,980.0 624.7,996.7 640.0,1020.0C655.3,1043.3 676.7,1070.0 682.0,1100.0C687.3,1130.0 677.0,1166.7 672.0,1200.0C667.0,1233.3 655.3,1266.7 652.0,1300.0C648.7,1333.3 650.7,1371.7 652.0,1400.0C653.3,1428.3 658.7,1458.3 660.0,1470.0" fill="none" stroke="#e2b038" stroke-width="28" stroke-linecap="butt" /><path d="M590.0,900.0C590.0,910.0 581.7,940.0 590.0,960.0C598.3,980.0 624.7,996.7 640.0,1020.0C655.3,1043.3 676.7,1070.0 682.0,1100.0C687.3,1130.0 677.0,1166.7 672.0,1200.0C667.0,1233.3 655.3,1266.7 652.0,1300.0C648.7,1333.3 650.7,1371.7 652.0,1400.0C653.3,1428.3 658.7,1458.3 660.0,1470.0" fill="none" stroke="#f8e070" stroke-width="12.6" stroke-linecap="butt" /><path d="M330.0,1000.0C341.7,986.7 371.7,941.7 400.0,920.0C428.3,898.3 463.3,878.7 500.0,870.0C536.7,861.3 583.3,859.7 620.0,868.0C656.7,876.3 693.3,896.3 720.0,920.0C746.7,943.7 768.3,980.0 780.0,1010.0C791.7,1040.0 795.0,1068.3 790.0,1100.0C785.0,1131.7 762.5,1166.7 750.0,1200.0C737.5,1233.3 722.0,1266.7 715.0,1300.0C708.0,1333.3 708.5,1366.7 708.0,1400.0C707.5,1433.3 711.3,1483.3 712.0,1500.0" fill="none" stroke="#3f8fb0" stroke-width="48" stroke-linecap="butt" /><path d="M330.0,1000.0C341.7,986.7 371.7,941.7 400.0,920.0C428.3,898.3 463.3,878.7 500.0,870.0C536.7,861.3 583.3,859.7 620.0,868.0C656.7,876.3 693.3,896.3 720.0,920.0C746.7,943.7 768.3,980.0 780.0,1010.0C791.7,1040.0 795.0,1068.3 790.0,1100.0C785.0,1131.7 762.5,1166.7 750.0,1200.0C737.5,1233.3 722.0,1266.7 715.0,1300.0C708.0,1333.3 708.5,1366.7 708.0,1400.0C707.5,1433.3 711.3,1483.3 712.0,1500.0" fill="none" stroke="#78bcd4" stroke-width="21.6" stroke-linecap="butt" /><path d="M770.0,950.0C788.3,943.3 841.7,930.0 880.0,910.0C918.3,890.0 963.3,855.0 1000.0,830.0C1036.7,805.0 1066.7,780.8 1100.0,760.0C1133.3,739.2 1183.3,714.2 1200.0,705.0" fill="none" stroke="#3f8fb0" stroke-width="16" stroke-linecap="round" /><path d="M770.0,950.0C788.3,943.3 841.7,930.0 880.0,910.0C918.3,890.0 963.3,855.0 1000.0,830.0C1036.7,805.0 1066.7,780.8 1100.0,760.0C1133.3,739.2 1183.3,714.2 1200.0,705.0" fill="none" stroke="#78bcd4" stroke-width="7.2" stroke-linecap="round" /><path d="M1060.0,790.0C1071.7,785.0 1110.0,767.5 1130.0,760.0C1150.0,752.5 1171.7,747.5 1180.0,745.0" fill="none" stroke="#4a98b8" stroke-width="6" stroke-linecap="round" /><path d="M1060.0,790.0C1071.7,785.0 1110.0,767.5 1130.0,760.0C1150.0,752.5 1171.7,747.5 1180.0,745.0" fill="none" stroke="#7cc0d8" stroke-width="2.7" stroke-linecap="round" /><path d="M300.0,1060.0C310.0,1048.3 340.0,1008.3 360.0,990.0C380.0,971.7 410.0,956.7 420.0,950.0" fill="none" stroke="#4a98b8" stroke-width="8" stroke-linecap="round" /><path d="M300.0,1060.0C310.0,1048.3 340.0,1008.3 360.0,990.0C380.0,971.7 410.0,956.7 420.0,950.0" fill="none" stroke="#7cc0d8" stroke-width="3.6" stroke-linecap="round" /><path d="M350.0,1080.0C358.3,1068.3 383.3,1030.0 400.0,1010.0C416.7,990.0 441.7,968.3 450.0,960.0" fill="none" stroke="#4a98b8" stroke-width="7" stroke-linecap="round" /><path d="M350.0,1080.0C358.3,1068.3 383.3,1030.0 400.0,1010.0C416.7,990.0 441.7,968.3 450.0,960.0" fill="none" stroke="#7cc0d8" stroke-width="3.1" stroke-linecap="round" /><path d="M420.0,1050.0C423.3,1041.7 431.7,1015.0 440.0,1000.0C448.3,985.0 465.0,966.7 470.0,960.0" fill="none" stroke="#4a98b8" stroke-width="6" stroke-linecap="round" /><path d="M420.0,1050.0C423.3,1041.7 431.7,1015.0 440.0,1000.0C448.3,985.0 465.0,966.7 470.0,960.0" fill="none" stroke="#7cc0d8" stroke-width="2.7" stroke-linecap="round" /><rect x="360" y="-20" width="460" height="200" fill="url(#l2fadeT)"/><rect x="520" y="1300" width="460" height="215" fill="url(#l2fadeB)"/></g>
<g font-family="Liberation Sans, sans-serif"><path d="M1562.40,424.00 L1562.40,311.98 A5.98,6.58 0 0 1 1574.37,311.98 L1575.83,360.50 A3.00,3.60 0 0 0 1581.83,360.50 L1583.30,311.00 A5.00,5.50 0 0 1 1593.30,311.00 L1594.76,345.50 A3.00,3.60 0 0 0 1600.76,345.50 L1602.23,311.00 A5.00,5.50 0 0 1 1612.23,311.00 L1613.52,345.50 A3.00,3.60 0 0 0 1619.52,345.50 L1620.80,311.00 A5.00,5.50 0 0 1 1630.80,311.00 L1632.27,359.50 A3.00,3.60 0 0 0 1638.27,359.50 L1639.73,311.98 A5.98,6.58 0 0 1 1651.70,311.98 L1651.70,424.00 C1651.70,466.00 1633.05,488.00 1607.05,488.00 C1581.05,488.00 1562.40,466.00 1562.40,424.00Z" fill="#fce8ec" stroke="#e2559f" stroke-width="1.15" stroke-linejoin="round"/><path d="M1566.77,320.00 L1566.77,310.00 A2.60,2.60 0 0 1 1568.77,308.40" fill="none" stroke="#fff" stroke-width="1.9" stroke-linecap="round" opacity="0.95"/><path d="M1585.70,320.00 L1585.70,310.00 A2.60,2.60 0 0 1 1587.70,308.40" fill="none" stroke="#fff" stroke-width="1.9" stroke-linecap="round" opacity="0.95"/><path d="M1604.63,320.00 L1604.63,310.00 A2.60,2.60 0 0 1 1606.63,308.40" fill="none" stroke="#fff" stroke-width="1.9" stroke-linecap="round" opacity="0.95"/><path d="M1623.20,320.00 L1623.20,310.00 A2.60,2.60 0 0 1 1625.20,308.40" fill="none" stroke="#fff" stroke-width="1.9" stroke-linecap="round" opacity="0.95"/><path d="M1642.13,320.00 L1642.13,310.00 A2.60,2.60 0 0 1 1644.13,308.40" fill="none" stroke="#fff" stroke-width="1.9" stroke-linecap="round" opacity="0.95"/><path d="M1652.90,424.00 L1652.90,311.99 A5.99,6.59 0 0 1 1664.89,311.99 L1666.39,360.50 A3.00,3.60 0 0 0 1672.39,360.50 L1673.88,311.00 A5.00,5.50 0 0 1 1683.88,311.00 L1685.38,345.50 A3.00,3.60 0 0 0 1691.38,345.50 L1692.88,311.00 A5.00,5.50 0 0 1 1702.88,311.00 L1704.20,345.50 A3.00,3.60 0 0 0 1710.20,345.50 L1711.52,311.00 A5.00,5.50 0 0 1 1721.52,311.00 L1723.01,359.50 A3.00,3.60 0 0 0 1729.01,359.50 L1730.51,311.99 A5.99,6.59 0 0 1 1742.50,311.99 L1742.50,424.00 C1742.50,466.00 1723.70,488.00 1697.70,488.00 C1671.70,488.00 1652.90,466.00 1652.90,424.00Z" fill="#fce8ec" stroke="#e2559f" stroke-width="1.15" stroke-linejoin="round"/><path d="M1657.29,320.00 L1657.29,310.00 A2.60,2.60 0 0 1 1659.29,308.40" fill="none" stroke="#fff" stroke-width="1.9" stroke-linecap="round" opacity="0.95"/><path d="M1676.28,320.00 L1676.28,310.00 A2.60,2.60 0 0 1 1678.28,308.40" fill="none" stroke="#fff" stroke-width="1.9" stroke-linecap="round" opacity="0.95"/><path d="M1695.28,320.00 L1695.28,310.00 A2.60,2.60 0 0 1 1697.28,308.40" fill="none" stroke="#fff" stroke-width="1.9" stroke-linecap="round" opacity="0.95"/><path d="M1713.92,320.00 L1713.92,310.00 A2.60,2.60 0 0 1 1715.92,308.40" fill="none" stroke="#fff" stroke-width="1.9" stroke-linecap="round" opacity="0.95"/><path d="M1732.91,320.00 L1732.91,310.00 A2.60,2.60 0 0 1 1734.91,308.40" fill="none" stroke="#fff" stroke-width="1.9" stroke-linecap="round" opacity="0.95"/><path d="M1745.00,424.00 L1745.00,311.96 A5.96,6.56 0 0 1 1756.93,311.96 L1758.34,360.50 A3.00,3.60 0 0 0 1764.34,360.50 L1765.75,311.00 A5.00,5.50 0 0 1 1775.75,311.00 L1777.16,345.50 A3.00,3.60 0 0 0 1783.16,345.50 L1784.58,311.00 A5.00,5.50 0 0 1 1794.58,311.00 L1795.81,345.50 A3.00,3.60 0 0 0 1801.81,345.50 L1803.05,311.00 A5.00,5.50 0 0 1 1813.05,311.00 L1814.46,359.50 A3.00,3.60 0 0 0 1820.46,359.50 L1821.87,311.96 A5.96,6.56 0 0 1 1833.80,311.96 L1833.80,424.00 C1833.80,466.00 1815.40,488.00 1789.40,488.00 C1763.40,488.00 1745.00,466.00 1745.00,424.00Z" fill="#fce8ec" stroke="#e2559f" stroke-width="1.15" stroke-linejoin="round"/><path d="M1749.33,320.00 L1749.33,310.00 A2.60,2.60 0 0 1 1751.33,308.40" fill="none" stroke="#fff" stroke-width="1.9" stroke-linecap="round" opacity="0.95"/><path d="M1768.15,320.00 L1768.15,310.00 A2.60,2.60 0 0 1 1770.15,308.40" fill="none" stroke="#fff" stroke-width="1.9" stroke-linecap="round" opacity="0.95"/><path d="M1786.98,320.00 L1786.98,310.00 A2.60,2.60 0 0 1 1788.98,308.40" fill="none" stroke="#fff" stroke-width="1.9" stroke-linecap="round" opacity="0.95"/><path d="M1805.45,320.00 L1805.45,310.00 A2.60,2.60 0 0 1 1807.45,308.40" fill="none" stroke="#fff" stroke-width="1.9" stroke-linecap="round" opacity="0.95"/><path d="M1824.27,320.00 L1824.27,310.00 A2.60,2.60 0 0 1 1826.27,308.40" fill="none" stroke="#fff" stroke-width="1.9" stroke-linecap="round" opacity="0.95"/><path d="M1839.70,424.00 L1839.70,312.00 A6.00,6.60 0 0 1 1851.70,312.00 L1853.22,360.50 A3.00,3.60 0 0 0 1859.22,360.50 L1860.74,311.00 A5.00,5.50 0 0 1 1870.74,311.00 L1872.26,345.50 A3.00,3.60 0 0 0 1878.26,345.50 L1879.78,311.00 A5.00,5.50 0 0 1 1889.78,311.00 L1891.12,345.50 A3.00,3.60 0 0 0 1897.12,345.50 L1898.46,311.00 A5.00,5.50 0 0 1 1908.46,311.00 L1909.98,359.50 A3.00,3.60 0 0 0 1915.98,359.50 L1917.50,312.00 A6.00,6.60 0 0 1 1929.50,312.00 L1929.50,424.00 C1929.50,466.00 1910.60,488.00 1884.60,488.00 C1858.60,488.00 1839.70,466.00 1839.70,424.00Z" fill="#fce8ec" stroke="#e2559f" stroke-width="1.15" stroke-linejoin="round"/><path d="M1844.10,320.00 L1844.10,310.00 A2.60,2.60 0 0 1 1846.10,308.40" fill="none" stroke="#fff" stroke-width="1.9" stroke-linecap="round" opacity="0.95"/><path d="M1863.14,320.00 L1863.14,310.00 A2.60,2.60 0 0 1 1865.14,308.40" fill="none" stroke="#fff" stroke-width="1.9" stroke-linecap="round" opacity="0.95"/><path d="M1882.18,320.00 L1882.18,310.00 A2.60,2.60 0 0 1 1884.18,308.40" fill="none" stroke="#fff" stroke-width="1.9" stroke-linecap="round" opacity="0.95"/><path d="M1900.86,320.00 L1900.86,310.00 A2.60,2.60 0 0 1 1902.86,308.40" fill="none" stroke="#fff" stroke-width="1.9" stroke-linecap="round" opacity="0.95"/><path d="M1919.90,320.00 L1919.90,310.00 A2.60,2.60 0 0 1 1921.90,308.40" fill="none" stroke="#fff" stroke-width="1.9" stroke-linecap="round" opacity="0.95"/><g transform="translate(1622.2,244.3) rotate(-10)"><rect x="-9.2" y="-5.6" width="18.4" height="11.2" rx="4.4" fill="#2ba46b" stroke="#1e8c58" stroke-width="0.8"/><rect x="-6.6" y="-3.6" width="13.2" height="4.6" rx="2.3" fill="#b5dcc4"/></g><g transform="translate(1644.7,253.5) rotate(-10)"><rect x="-9.2" y="-5.6" width="18.4" height="11.2" rx="4.4" fill="#2ba46b" stroke="#1e8c58" stroke-width="0.8"/><rect x="-6.6" y="-3.6" width="13.2" height="4.6" rx="2.3" fill="#b5dcc4"/></g><g transform="translate(1604.8,260.9) rotate(-10)"><rect x="-9.2" y="-5.6" width="18.4" height="11.2" rx="4.4" fill="#2ba46b" stroke="#1e8c58" stroke-width="0.8"/><rect x="-6.6" y="-3.6" width="13.2" height="4.6" rx="2.3" fill="#b5dcc4"/></g><g transform="translate(1624.8,269.9) rotate(-10)"><rect x="-9.2" y="-5.6" width="18.4" height="11.2" rx="4.4" fill="#2ba46b" stroke="#1e8c58" stroke-width="0.8"/><rect x="-6.6" y="-3.6" width="13.2" height="4.6" rx="2.3" fill="#b5dcc4"/></g><g transform="translate(1815.4,238.0) rotate(-10)"><rect x="-9.2" y="-5.6" width="18.4" height="11.2" rx="4.4" fill="#2ba46b" stroke="#1e8c58" stroke-width="0.8"/><rect x="-6.6" y="-3.6" width="13.2" height="4.6" rx="2.3" fill="#b5dcc4"/></g><g transform="translate(1837.7,247.5) rotate(-10)"><rect x="-9.2" y="-5.6" width="18.4" height="11.2" rx="4.4" fill="#2ba46b" stroke="#1e8c58" stroke-width="0.8"/><rect x="-6.6" y="-3.6" width="13.2" height="4.6" rx="2.3" fill="#b5dcc4"/></g><g transform="translate(1818.2,262.9) rotate(-10)"><rect x="-9.2" y="-5.6" width="18.4" height="11.2" rx="4.4" fill="#2ba46b" stroke="#1e8c58" stroke-width="0.8"/><rect x="-6.6" y="-3.6" width="13.2" height="4.6" rx="2.3" fill="#b5dcc4"/></g><g transform="translate(1846.7,263.9) rotate(-10)"><rect x="-9.2" y="-5.6" width="18.4" height="11.2" rx="4.4" fill="#2ba46b" stroke="#1e8c58" stroke-width="0.8"/><rect x="-6.6" y="-3.6" width="13.2" height="4.6" rx="2.3" fill="#b5dcc4"/></g><g transform="translate(1869.3,272.9) rotate(-10)"><rect x="-9.2" y="-5.6" width="18.4" height="11.2" rx="4.4" fill="#2ba46b" stroke="#1e8c58" stroke-width="0.8"/><rect x="-6.6" y="-3.6" width="13.2" height="4.6" rx="2.3" fill="#b5dcc4"/></g><g transform="translate(1799.8,277.5) rotate(-10)"><rect x="-9.2" y="-5.6" width="18.4" height="11.2" rx="4.4" fill="#2ba46b" stroke="#1e8c58" stroke-width="0.8"/><rect x="-6.6" y="-3.6" width="13.2" height="4.6" rx="2.3" fill="#b5dcc4"/></g><g transform="translate(1829.2,279.4) rotate(-10)"><rect x="-9.2" y="-5.6" width="18.4" height="11.2" rx="4.4" fill="#2ba46b" stroke="#1e8c58" stroke-width="0.8"/><rect x="-6.6" y="-3.6" width="13.2" height="4.6" rx="2.3" fill="#b5dcc4"/></g><g transform="translate(1849.7,287.8) rotate(-10)"><rect x="-9.2" y="-5.6" width="18.4" height="11.2" rx="4.4" fill="#2ba46b" stroke="#1e8c58" stroke-width="0.8"/><rect x="-6.6" y="-3.6" width="13.2" height="4.6" rx="2.3" fill="#b5dcc4"/></g><g transform="translate(1782.5,293.8) rotate(-10)"><rect x="-9.2" y="-5.6" width="18.4" height="11.2" rx="4.4" fill="#2ba46b" stroke="#1e8c58" stroke-width="0.8"/><rect x="-6.6" y="-3.6" width="13.2" height="4.6" rx="2.3" fill="#b5dcc4"/></g><g transform="translate(1824.2,298.2) rotate(-10)"><rect x="-9.2" y="-5.6" width="18.4" height="11.2" rx="4.4" fill="#2ba46b" stroke="#1e8c58" stroke-width="0.8"/><rect x="-6.6" y="-3.6" width="13.2" height="4.6" rx="2.3" fill="#b5dcc4"/></g><path d="M0,0 q1.88,-1.90 3.75,0 t3.75,0 q1.88,-1.90 3.75,0 t3.75,0 q1.88,-1.90 3.75,0 t3.75,0 q1.88,-1.90 3.75,0 t3.75,0 q1.88,-1.90 3.75,0 t3.75,0 " transform="translate(1652.0,284.0) rotate(-4)" fill="none" stroke="#5aa4d4" stroke-width="1.7" stroke-linecap="round"/><path d="M0,0 q1.88,-1.90 3.75,0 t3.75,0 q1.88,-1.90 3.75,0 t3.75,0 q1.88,-1.90 3.75,0 t3.75,0 q1.88,-1.90 3.75,0 t3.75,0 q1.88,-1.90 3.75,0 t3.75,0 q1.88,-1.90 3.75,0 t3.75,0 q1.88,-1.90 3.75,0 t3.75,0 q1.88,-1.90 3.75,0 t3.75,0 " transform="translate(1638.0,290.0) rotate(-4)" fill="none" stroke="#5aa4d4" stroke-width="1.7" stroke-linecap="round"/><path d="M0,0 q1.88,-1.90 3.75,0 t3.75,0 q1.88,-1.90 3.75,0 t3.75,0 q1.88,-1.90 3.75,0 t3.75,0 q1.88,-1.90 3.75,0 t3.75,0 q1.88,-1.90 3.75,0 t3.75,0 q1.88,-1.90 3.75,0 t3.75,0 q1.88,-1.90 3.75,0 t3.75,0 " transform="translate(1662.0,291.5) rotate(-4)" fill="none" stroke="#5aa4d4" stroke-width="1.7" stroke-linecap="round"/><path d="M0,0 q1.88,-1.90 3.75,0 t3.75,0 q1.88,-1.90 3.75,0 t3.75,0 q1.88,-1.90 3.75,0 t3.75,0 q1.88,-1.90 3.75,0 t3.75,0 q1.88,-1.90 3.75,0 t3.75,0 q1.88,-1.90 3.75,0 t3.75,0 q1.88,-1.90 3.75,0 t3.75,0 " transform="translate(1645.0,297.0) rotate(-4)" fill="none" stroke="#5aa4d4" stroke-width="1.7" stroke-linecap="round"/><path d="M0,0 q1.88,-1.90 3.75,0 t3.75,0 q1.88,-1.90 3.75,0 t3.75,0 q1.88,-1.90 3.75,0 t3.75,0 q1.88,-1.90 3.75,0 t3.75,0 q1.88,-1.90 3.75,0 t3.75,0 " transform="translate(1692.0,298.5) rotate(-4)" fill="none" stroke="#5aa4d4" stroke-width="1.7" stroke-linecap="round"/><path d="M0,0 q1.88,-1.90 3.75,0 t3.75,0 q1.88,-1.90 3.75,0 t3.75,0 q1.88,-1.90 3.75,0 t3.75,0 q1.88,-1.90 3.75,0 t3.75,0 q1.88,-1.90 3.75,0 t3.75,0 " transform="translate(1664.0,304.5) rotate(-4)" fill="none" stroke="#5aa4d4" stroke-width="1.7" stroke-linecap="round"/><path d="M0,0 q1.88,-1.90 3.75,0 t3.75,0 q1.88,-1.90 3.75,0 t3.75,0 q1.88,-1.90 3.75,0 t3.75,0 q1.88,-1.90 3.75,0 t3.75,0 q1.88,-1.90 3.75,0 t3.75,0 " transform="translate(1850.5,302.5) rotate(4)" fill="none" stroke="#5aa4d4" stroke-width="1.7" stroke-linecap="round"/><path d="M0,0 q1.88,-1.90 3.75,0 t3.75,0 q1.88,-1.90 3.75,0 t3.75,0 q1.88,-1.90 3.75,0 t3.75,0 q1.88,-1.90 3.75,0 t3.75,0 q1.88,-1.90 3.75,0 t3.75,0 q1.88,-1.90 3.75,0 t3.75,0 " transform="translate(1876.0,299.5) rotate(4)" fill="none" stroke="#5aa4d4" stroke-width="1.7" stroke-linecap="round"/><path d="M0,0 q1.88,-1.90 3.75,0 t3.75,0 q1.88,-1.90 3.75,0 t3.75,0 q1.88,-1.90 3.75,0 t3.75,0 q1.88,-1.90 3.75,0 t3.75,0 " transform="translate(1864.0,306.0) rotate(4)" fill="none" stroke="#5aa4d4" stroke-width="1.7" stroke-linecap="round"/><ellipse cx="1623.8" cy="388.1" rx="2.5" ry="3.7" fill="#b8a0d8" stroke="#6a3fa0" stroke-width="1.3" transform="rotate(12 1623.8 388.1)"/><ellipse cx="1621.4" cy="400.5" rx="2.5" ry="3.7" fill="#b8a0d8" stroke="#6a3fa0" stroke-width="1.3" transform="rotate(12 1621.4 400.5)"/><ellipse cx="1612.8" cy="402.5" rx="2.5" ry="3.7" fill="#b8a0d8" stroke="#6a3fa0" stroke-width="1.3" transform="rotate(12 1612.8 402.5)"/><ellipse cx="1625.4" cy="414.1" rx="2.5" ry="3.7" fill="#b8a0d8" stroke="#6a3fa0" stroke-width="1.3" transform="rotate(12 1625.4 414.1)"/><ellipse cx="1610.4" cy="413.5" rx="2.5" ry="3.7" fill="#b8a0d8" stroke="#6a3fa0" stroke-width="1.3" transform="rotate(12 1610.4 413.5)"/><ellipse cx="1617.2" cy="419.4" rx="2.5" ry="3.7" fill="#b8a0d8" stroke="#6a3fa0" stroke-width="1.3" transform="rotate(12 1617.2 419.4)"/><ellipse cx="1625.8" cy="431.0" rx="2.5" ry="3.7" fill="#b8a0d8" stroke="#6a3fa0" stroke-width="1.3" transform="rotate(12 1625.8 431.0)"/><ellipse cx="1614.8" cy="431.4" rx="2.5" ry="3.7" fill="#b8a0d8" stroke="#6a3fa0" stroke-width="1.3" transform="rotate(12 1614.8 431.4)"/><ellipse cx="1780.5" cy="418.9" rx="2.5" ry="3.7" fill="#b8a0d8" stroke="#6a3fa0" stroke-width="1.3" transform="rotate(12 1780.5 418.9)"/><ellipse cx="1786.9" cy="426.5" rx="2.5" ry="3.7" fill="#b8a0d8" stroke="#6a3fa0" stroke-width="1.3" transform="rotate(12 1786.9 426.5)"/><ellipse cx="1779.9" cy="433.0" rx="2.5" ry="3.7" fill="#b8a0d8" stroke="#6a3fa0" stroke-width="1.3" transform="rotate(12 1779.9 433.0)"/><line x1="1591.9" y1="395.5" x2="1626.2" y2="283.8" stroke="#555" stroke-width="0.55"/><polygon points="1626.2,283.8 1626.5,289.7 1622.7,288.5" fill="#222"/><line x1="1774.3" y1="410.5" x2="1808.2" y2="299.4" stroke="#555" stroke-width="0.55"/><polygon points="1808.2,299.4 1808.5,305.2 1804.7,304.1" fill="#222"/><line x1="1796.9" y1="258.9" x2="1806.2" y2="264.7" stroke="#555" stroke-width="0.55"/><polygon points="1806.2,264.7 1800.5,263.5 1802.6,260.1" fill="#222"/><line x1="1761.5" y1="262.9" x2="1761.5" y2="411.9" stroke="#c8c8c8" stroke-width="0.8"/><line x1="1757.5" y1="412.1" x2="1765.5" y2="412.1" stroke="#c0c0c0" stroke-width="0.9"/><line x1="1837.3" y1="301.8" x2="1837.3" y2="481.7" stroke="#888" stroke-width="0.7"/><polygon points="1837.3,483.7 1835.7,478.5 1838.9,478.5" fill="#333"/><text x="1638.4" y="275.4" textLength="58.2" lengthAdjust="spacingAndGlyphs" font-size="15.6" fill="#231815">Bacteria</text><text x="1715.1" y="287.8" textLength="42.3" lengthAdjust="spacingAndGlyphs" font-size="15.6" fill="#231815">Mucin</text><text x="1733.9" y="249.9" textLength="52.4" lengthAdjust="spacingAndGlyphs" font-size="15.6" fill="#231815">Alcohol</text><text x="1856.7" y="256.9" textLength="58.8" lengthAdjust="spacingAndGlyphs" font-size="15.6" fill="#231815">Bacteria</text><text x="1899.6" y="296.8" textLength="42.3" lengthAdjust="spacingAndGlyphs" font-size="15.6" fill="#231815">Mucin</text><text x="1731.5" y="510.2" textLength="201.6" lengthAdjust="spacingAndGlyphs" font-size="19.5" fill="#231815">Bacterial translocation</text><text x="1565.6" y="411.1" textLength="25.3" lengthAdjust="spacingAndGlyphs" font-size="11.2" fill="#231815">Anti-</text><text x="1565.6" y="423.8" textLength="49.2" lengthAdjust="spacingAndGlyphs" font-size="11.2" fill="#231815">microbial</text><text x="1565.6" y="436.0" textLength="54.2" lengthAdjust="spacingAndGlyphs" font-size="11.2" fill="#231815">molecules</text><text x="1749.0" y="427.1" textLength="24.9" lengthAdjust="spacingAndGlyphs" font-size="11.2" fill="#231815">Anti-</text><text x="1749.0" y="439.4" textLength="48.8" lengthAdjust="spacingAndGlyphs" font-size="11.2" fill="#231815">microbial</text><text x="1749.0" y="451.4" textLength="53.8" lengthAdjust="spacingAndGlyphs" font-size="11.2" fill="#231815">molecules</text></g>
<g transform="translate(20,1200) scale(0.122279)" ><defs>
<linearGradient id="vgA" x1="0.15" y1="0.05" x2="0.85" y2="0.95"><stop offset="0" stop-color="#1d2c7c"/><stop offset="0.4" stop-color="#1f78b0"/><stop offset="0.8" stop-color="#2fb0c8"/><stop offset="1" stop-color="#3cc0d0"/></linearGradient>
<linearGradient id="vgB" x1="0.15" y1="0.05" x2="0.85" y2="0.95"><stop offset="0" stop-color="#3cc0d0"/><stop offset="0.25" stop-color="#2fb0c8"/><stop offset="0.6" stop-color="#1f78b0"/><stop offset="1" stop-color="#1d2c7c"/></linearGradient>
<filter id="vblur" x="-40%" y="-40%" width="180%" height="180%"><feGaussianBlur stdDeviation="9"/></filter>
<filter id="vblur0" x="-40%" y="-40%" width="180%" height="180%"><feGaussianBlur stdDeviation="2.2"/></filter>
</defs><g filter="url(#vblur0)"><line x1="439.0" y1="568.1" x2="486.7" y2="582.0" stroke="#2fa8c4" stroke-width="8.6"/><circle cx="486.7" cy="582.0" r="10.3" fill="#2090b8"/><line x1="422.3" y1="611.2" x2="466.1" y2="657.8" stroke="#2fa8c4" stroke-width="8.6"/><circle cx="466.1" cy="657.8" r="10.3" fill="#2090b8"/><line x1="409.5" y1="626.9" x2="435.3" y2="669.4" stroke="#2fa8c4" stroke-width="8.6"/><circle cx="435.3" cy="669.4" r="10.3" fill="#2090b8"/><line x1="361.8" y1="648.5" x2="362.7" y2="696.8" stroke="#2fa8c4" stroke-width="8.6"/><circle cx="362.7" cy="696.8" r="10.3" fill="#2090b8"/><line x1="335.5" y1="643.6" x2="319.1" y2="709.3" stroke="#2fa8c4" stroke-width="8.6"/><circle cx="319.1" cy="709.3" r="10.3" fill="#2090b8"/><line x1="312.4" y1="628.8" x2="280.7" y2="684.6" stroke="#2fa8c4" stroke-width="8.6"/><circle cx="280.7" cy="684.6" r="10.3" fill="#2090b8"/><line x1="282.7" y1="576.0" x2="246.6" y2="590.4" stroke="#2fa8c4" stroke-width="8.6"/><circle cx="246.6" cy="590.4" r="10.3" fill="#2090b8"/><line x1="279.3" y1="553.2" x2="237.4" y2="557.5" stroke="#2fa8c4" stroke-width="8.6"/><circle cx="237.4" cy="557.5" r="10.3" fill="#2090b8"/><line x1="284.7" y1="506.8" x2="231.8" y2="479.9" stroke="#2fa8c4" stroke-width="8.6"/><circle cx="231.8" cy="479.9" r="10.3" fill="#2090b8"/><line x1="312.2" y1="461.4" x2="283.3" y2="410.8" stroke="#2fa8c4" stroke-width="8.6"/><circle cx="283.3" cy="410.8" r="10.3" fill="#2090b8"/><line x1="325.4" y1="451.4" x2="310.0" y2="409.8" stroke="#2fa8c4" stroke-width="8.6"/><circle cx="310.0" cy="409.8" r="10.3" fill="#2090b8"/><line x1="371.3" y1="442.5" x2="378.0" y2="382.6" stroke="#2fa8c4" stroke-width="8.6"/><circle cx="378.0" cy="382.6" r="10.3" fill="#2090b8"/><line x1="403.8" y1="458.0" x2="434.9" y2="396.2" stroke="#2fa8c4" stroke-width="8.6"/><circle cx="434.9" cy="396.2" r="10.3" fill="#2090b8"/><line x1="418.7" y1="473.7" x2="450.3" y2="435.5" stroke="#2fa8c4" stroke-width="8.6"/><circle cx="450.3" cy="435.5" r="10.3" fill="#2090b8"/><line x1="440.5" y1="533.2" x2="477.3" y2="527.8" stroke="#2fa8c4" stroke-width="8.6"/><circle cx="477.3" cy="527.8" r="10.3" fill="#2090b8"/><ellipse cx="360" cy="545" rx="90" ry="115" fill="url(#vgA)"/></g><g filter="url(#vblur0)"><line x1="614.5" y1="843.2" x2="632.6" y2="879.5" stroke="#2fa8c4" stroke-width="5.2"/><circle cx="632.6" cy="879.5" r="7.0" fill="#2090b8"/><line x1="599.3" y1="851.3" x2="606.6" y2="891.0" stroke="#2fa8c4" stroke-width="5.2"/><circle cx="606.6" cy="891.0" r="7.0" fill="#2090b8"/><line x1="581.5" y1="852.5" x2="578.5" y2="880.9" stroke="#2fa8c4" stroke-width="5.2"/><circle cx="578.5" cy="880.9" r="7.0" fill="#2090b8"/><line x1="552.1" y1="833.4" x2="532.8" y2="856.9" stroke="#2fa8c4" stroke-width="5.2"/><circle cx="532.8" cy="856.9" r="7.0" fill="#2090b8"/><line x1="545.3" y1="821.9" x2="515.0" y2="844.5" stroke="#2fa8c4" stroke-width="5.2"/><circle cx="515.0" cy="844.5" r="7.0" fill="#2090b8"/><line x1="538.5" y1="791.3" x2="509.8" y2="792.0" stroke="#2fa8c4" stroke-width="5.2"/><circle cx="509.8" cy="792.0" r="7.0" fill="#2090b8"/><line x1="546.2" y1="756.3" x2="527.6" y2="741.2" stroke="#2fa8c4" stroke-width="5.2"/><circle cx="527.6" cy="741.2" r="7.0" fill="#2090b8"/><line x1="552.5" y1="746.1" x2="530.9" y2="719.4" stroke="#2fa8c4" stroke-width="5.2"/><circle cx="530.9" cy="719.4" r="7.0" fill="#2090b8"/><line x1="579.9" y1="727.8" x2="574.3" y2="684.2" stroke="#2fa8c4" stroke-width="5.2"/><circle cx="574.3" cy="684.2" r="7.0" fill="#2090b8"/><line x1="601.6" y1="729.4" x2="608.6" y2="698.2" stroke="#2fa8c4" stroke-width="5.2"/><circle cx="608.6" cy="698.2" r="7.0" fill="#2090b8"/><line x1="613.8" y1="736.2" x2="625.9" y2="711.0" stroke="#2fa8c4" stroke-width="5.2"/><circle cx="625.9" cy="711.0" r="7.0" fill="#2090b8"/><line x1="634.9" y1="769.7" x2="666.2" y2="756.1" stroke="#2fa8c4" stroke-width="5.2"/><circle cx="666.2" cy="756.1" r="7.0" fill="#2090b8"/><line x1="637.5" y1="788.3" x2="670.3" y2="787.1" stroke="#2fa8c4" stroke-width="5.2"/><circle cx="670.3" cy="787.1" r="7.0" fill="#2090b8"/><line x1="634.1" y1="813.0" x2="655.5" y2="823.7" stroke="#2fa8c4" stroke-width="5.2"/><circle cx="655.5" cy="823.7" r="7.0" fill="#2090b8"/><ellipse cx="588" cy="790" rx="55" ry="70" fill="url(#vgA)"/></g><g filter="url(#vblur0)"><line x1="342.5" y1="946.8" x2="370.6" y2="963.6" stroke="#2fa8c4" stroke-width="5.2"/><circle cx="370.6" cy="963.6" r="7.0" fill="#2090b8"/><line x1="328.5" y1="968.2" x2="349.7" y2="1001.6" stroke="#2fa8c4" stroke-width="5.2"/><circle cx="349.7" cy="1001.6" r="7.0" fill="#2090b8"/><line x1="317.4" y1="976.3" x2="327.0" y2="1004.3" stroke="#2fa8c4" stroke-width="5.2"/><circle cx="327.0" cy="1004.3" r="7.0" fill="#2090b8"/><line x1="283.8" y1="978.6" x2="277.0" y2="1007.0" stroke="#2fa8c4" stroke-width="5.2"/><circle cx="277.0" cy="1007.0" r="7.0" fill="#2090b8"/><line x1="270.0" y1="970.5" x2="250.9" y2="1005.0" stroke="#2fa8c4" stroke-width="5.2"/><circle cx="250.9" cy="1005.0" r="7.0" fill="#2090b8"/><line x1="256.6" y1="953.6" x2="229.9" y2="975.2" stroke="#2fa8c4" stroke-width="5.2"/><circle cx="229.9" cy="975.2" r="7.0" fill="#2090b8"/><line x1="248.7" y1="914.8" x2="226.3" y2="912.4" stroke="#2fa8c4" stroke-width="5.2"/><circle cx="226.3" cy="912.4" r="7.0" fill="#2090b8"/><line x1="250.8" y1="901.7" x2="225.1" y2="891.7" stroke="#2fa8c4" stroke-width="5.2"/><circle cx="225.1" cy="891.7" r="7.0" fill="#2090b8"/><line x1="265.0" y1="874.3" x2="241.6" y2="841.9" stroke="#2fa8c4" stroke-width="5.2"/><circle cx="241.6" cy="841.9" r="7.0" fill="#2090b8"/><line x1="289.7" y1="859.7" x2="284.9" y2="824.7" stroke="#2fa8c4" stroke-width="5.2"/><circle cx="284.9" cy="824.7" r="7.0" fill="#2090b8"/><line x1="300.1" y1="858.9" x2="301.1" y2="831.6" stroke="#2fa8c4" stroke-width="5.2"/><circle cx="301.1" cy="831.6" r="7.0" fill="#2090b8"/><line x1="329.8" y1="873.1" x2="349.2" y2="844.4" stroke="#2fa8c4" stroke-width="5.2"/><circle cx="349.2" cy="844.4" r="7.0" fill="#2090b8"/><line x1="342.3" y1="892.8" x2="373.4" y2="873.7" stroke="#2fa8c4" stroke-width="5.2"/><circle cx="373.4" cy="873.7" r="7.0" fill="#2090b8"/><line x1="346.8" y1="909.7" x2="371.8" y2="904.4" stroke="#2fa8c4" stroke-width="5.2"/><circle cx="371.8" cy="904.4" r="7.0" fill="#2090b8"/><ellipse cx="298" cy="920" rx="55" ry="68" fill="url(#vgA)"/></g><g filter="url(#vblur0)"><line x1="632.8" y1="1148.7" x2="680.4" y2="1166.2" stroke="#2fa8c4" stroke-width="8.6"/><circle cx="680.4" cy="1166.2" r="10.3" fill="#2090b8"/><line x1="614.9" y1="1189.7" x2="656.9" y2="1238.6" stroke="#2fa8c4" stroke-width="8.6"/><circle cx="656.9" cy="1238.6" r="10.3" fill="#2090b8"/><line x1="601.2" y1="1205.0" x2="625.0" y2="1248.6" stroke="#2fa8c4" stroke-width="8.6"/><circle cx="625.0" cy="1248.6" r="10.3" fill="#2090b8"/><line x1="552.4" y1="1223.4" x2="551.2" y2="1272.1" stroke="#2fa8c4" stroke-width="8.6"/><circle cx="551.2" cy="1272.1" r="10.3" fill="#2090b8"/><line x1="527.1" y1="1217.2" x2="508.4" y2="1282.3" stroke="#2fa8c4" stroke-width="8.6"/><circle cx="508.4" cy="1282.3" r="10.3" fill="#2090b8"/><line x1="503.9" y1="1200.3" x2="470.2" y2="1253.5" stroke="#2fa8c4" stroke-width="8.6"/><circle cx="470.2" cy="1253.5" r="10.3" fill="#2090b8"/><line x1="476.6" y1="1145.9" x2="440.2" y2="1157.9" stroke="#2fa8c4" stroke-width="8.6"/><circle cx="440.2" cy="1157.9" r="10.3" fill="#2090b8"/><line x1="474.0" y1="1123.6" x2="431.6" y2="1125.5" stroke="#2fa8c4" stroke-width="8.6"/><circle cx="431.6" cy="1125.5" r="10.3" fill="#2090b8"/><line x1="481.5" y1="1076.4" x2="429.7" y2="1045.7" stroke="#2fa8c4" stroke-width="8.6"/><circle cx="429.7" cy="1045.7" r="10.3" fill="#2090b8"/><line x1="510.3" y1="1033.7" x2="483.6" y2="982.0" stroke="#2fa8c4" stroke-width="8.6"/><circle cx="483.6" cy="982.0" r="10.3" fill="#2090b8"/><line x1="524.0" y1="1024.4" x2="510.2" y2="981.9" stroke="#2fa8c4" stroke-width="8.6"/><circle cx="510.2" cy="981.9" r="10.3" fill="#2090b8"/><line x1="570.8" y1="1018.5" x2="580.1" y2="958.5" stroke="#2fa8c4" stroke-width="8.6"/><circle cx="580.1" cy="958.5" r="10.3" fill="#2090b8"/><line x1="601.8" y1="1035.5" x2="634.9" y2="975.7" stroke="#2fa8c4" stroke-width="8.6"/><circle cx="634.9" cy="975.7" r="10.3" fill="#2090b8"/><line x1="616.6" y1="1052.7" x2="649.2" y2="1017.0" stroke="#2fa8c4" stroke-width="8.6"/><circle cx="649.2" cy="1017.0" r="10.3" fill="#2090b8"/><line x1="635.8" y1="1113.7" x2="673.0" y2="1110.8" stroke="#2fa8c4" stroke-width="8.6"/><circle cx="673.0" cy="1110.8" r="10.3" fill="#2090b8"/><ellipse cx="555" cy="1120" rx="90" ry="115" fill="url(#vgA)"/></g><g filter="url(#vblur0)"><line x1="396.4" y1="1315.3" x2="415.3" y2="1338.7" stroke="#2fa8c4" stroke-width="5.0"/><circle cx="415.3" cy="1338.7" r="7.0" fill="#2090b8"/><line x1="382.5" y1="1326.2" x2="392.2" y2="1357.1" stroke="#2fa8c4" stroke-width="5.0"/><circle cx="392.2" cy="1357.1" r="7.0" fill="#2090b8"/><line x1="369.0" y1="1329.5" x2="369.5" y2="1352.7" stroke="#2fa8c4" stroke-width="5.0"/><circle cx="369.5" cy="1352.7" r="7.0" fill="#2090b8"/><line x1="341.3" y1="1317.2" x2="327.5" y2="1336.4" stroke="#2fa8c4" stroke-width="5.0"/><circle cx="327.5" cy="1336.4" r="7.0" fill="#2090b8"/><line x1="334.0" y1="1306.9" x2="310.1" y2="1325.8" stroke="#2fa8c4" stroke-width="5.0"/><circle cx="310.1" cy="1325.8" r="7.0" fill="#2090b8"/><line x1="327.6" y1="1283.8" x2="303.1" y2="1286.1" stroke="#2fa8c4" stroke-width="5.0"/><circle cx="303.1" cy="1286.1" r="7.0" fill="#2090b8"/><line x1="334.4" y1="1252.3" x2="319.5" y2="1240.0" stroke="#2fa8c4" stroke-width="5.0"/><circle cx="319.5" cy="1240.0" r="7.0" fill="#2090b8"/><line x1="340.2" y1="1244.0" x2="324.0" y2="1223.1" stroke="#2fa8c4" stroke-width="5.0"/><circle cx="324.0" cy="1223.1" r="7.0" fill="#2090b8"/><line x1="363.6" y1="1230.8" x2="360.4" y2="1195.9" stroke="#2fa8c4" stroke-width="5.0"/><circle cx="360.4" cy="1195.9" r="7.0" fill="#2090b8"/><line x1="384.5" y1="1234.8" x2="393.3" y2="1210.4" stroke="#2fa8c4" stroke-width="5.0"/><circle cx="393.3" cy="1210.4" r="7.0" fill="#2090b8"/><line x1="393.4" y1="1241.4" x2="405.0" y2="1223.8" stroke="#2fa8c4" stroke-width="5.0"/><circle cx="405.0" cy="1223.8" r="7.0" fill="#2090b8"/><line x1="408.0" y1="1272.3" x2="433.9" y2="1267.3" stroke="#2fa8c4" stroke-width="5.0"/><circle cx="433.9" cy="1267.3" r="7.0" fill="#2090b8"/><line x1="407.6" y1="1290.5" x2="434.6" y2="1297.6" stroke="#2fa8c4" stroke-width="5.0"/><circle cx="434.6" cy="1297.6" r="7.0" fill="#2090b8"/><ellipse cx="368" cy="1280" rx="45" ry="55" fill="url(#vgA)"/></g><g filter="url(#vblur0)"><line x1="1151.4" y1="594.2" x2="1198.6" y2="615.4" stroke="#2fa8c4" stroke-width="8.6"/><circle cx="1198.6" cy="615.4" r="10.3" fill="#2090b8"/><line x1="1132.4" y1="633.1" x2="1172.5" y2="684.1" stroke="#2fa8c4" stroke-width="8.6"/><circle cx="1172.5" cy="684.1" r="10.3" fill="#2090b8"/><line x1="1117.8" y1="647.9" x2="1139.5" y2="692.5" stroke="#2fa8c4" stroke-width="8.6"/><circle cx="1139.5" cy="692.5" r="10.3" fill="#2090b8"/><line x1="1068.1" y1="663.1" x2="1064.8" y2="712.1" stroke="#2fa8c4" stroke-width="8.6"/><circle cx="1064.8" cy="712.1" r="10.3" fill="#2090b8"/><line x1="1043.8" y1="655.5" x2="1022.8" y2="720.0" stroke="#2fa8c4" stroke-width="8.6"/><circle cx="1022.8" cy="720.0" r="10.3" fill="#2090b8"/><line x1="1020.6" y1="636.7" x2="984.9" y2="687.0" stroke="#2fa8c4" stroke-width="8.6"/><circle cx="984.9" cy="687.0" r="10.3" fill="#2090b8"/><line x1="995.7" y1="580.8" x2="959.1" y2="590.4" stroke="#2fa8c4" stroke-width="8.6"/><circle cx="959.1" cy="590.4" r="10.3" fill="#2090b8"/><line x1="994.0" y1="558.9" x2="951.1" y2="558.4" stroke="#2fa8c4" stroke-width="8.6"/><circle cx="951.1" cy="558.4" r="10.3" fill="#2090b8"/><line x1="1003.6" y1="511.2" x2="953.0" y2="476.7" stroke="#2fa8c4" stroke-width="8.6"/><circle cx="953.0" cy="476.7" r="10.3" fill="#2090b8"/><line x1="1033.5" y1="471.1" x2="1009.0" y2="418.4" stroke="#2fa8c4" stroke-width="8.6"/><circle cx="1009.0" cy="418.4" r="10.3" fill="#2090b8"/><line x1="1047.6" y1="462.6" x2="1035.4" y2="419.3" stroke="#2fa8c4" stroke-width="8.6"/><circle cx="1035.4" cy="419.3" r="10.3" fill="#2090b8"/><line x1="1095.2" y1="459.8" x2="1107.3" y2="399.8" stroke="#2fa8c4" stroke-width="8.6"/><circle cx="1107.3" cy="399.8" r="10.3" fill="#2090b8"/><line x1="1124.7" y1="478.2" x2="1159.7" y2="420.5" stroke="#2fa8c4" stroke-width="8.6"/><circle cx="1159.7" cy="420.5" r="10.3" fill="#2090b8"/><line x1="1139.2" y1="496.9" x2="1172.9" y2="463.8" stroke="#2fa8c4" stroke-width="8.6"/><circle cx="1172.9" cy="463.8" r="10.3" fill="#2090b8"/><line x1="1156.0" y1="559.2" x2="1193.5" y2="558.8" stroke="#2fa8c4" stroke-width="8.6"/><circle cx="1193.5" cy="558.8" r="10.3" fill="#2090b8"/><ellipse cx="1075" cy="560" rx="90" ry="115" fill="url(#vgB)"/></g><g filter="url(#vblur0)"><line x1="1304.9" y1="406.0" x2="1330.3" y2="409.5" stroke="#2fa8c4" stroke-width="5.0"/><circle cx="1330.3" cy="409.5" r="7.0" fill="#2090b8"/><line x1="1295.6" y1="432.9" x2="1319.3" y2="456.1" stroke="#2fa8c4" stroke-width="5.0"/><circle cx="1319.3" cy="456.1" r="7.0" fill="#2090b8"/><line x1="1288.1" y1="441.6" x2="1302.0" y2="463.7" stroke="#2fa8c4" stroke-width="5.0"/><circle cx="1302.0" cy="463.7" r="7.0" fill="#2090b8"/><line x1="1258.8" y1="452.1" x2="1257.3" y2="476.0" stroke="#2fa8c4" stroke-width="5.0"/><circle cx="1257.3" cy="476.0" r="7.0" fill="#2090b8"/><line x1="1242.0" y1="446.3" x2="1229.0" y2="476.6" stroke="#2fa8c4" stroke-width="5.0"/><circle cx="1229.0" cy="476.6" r="7.0" fill="#2090b8"/><line x1="1230.2" y1="435.4" x2="1208.8" y2="459.3" stroke="#2fa8c4" stroke-width="5.0"/><circle cx="1208.8" cy="459.3" r="7.0" fill="#2090b8"/><line x1="1218.8" y1="400.0" x2="1198.3" y2="400.1" stroke="#2fa8c4" stroke-width="5.0"/><circle cx="1198.3" cy="400.1" r="7.0" fill="#2090b8"/><line x1="1220.4" y1="385.9" x2="1199.3" y2="378.8" stroke="#2fa8c4" stroke-width="5.0"/><circle cx="1199.3" cy="378.8" r="7.0" fill="#2090b8"/><line x1="1231.1" y1="363.5" x2="1209.6" y2="337.9" stroke="#2fa8c4" stroke-width="5.0"/><circle cx="1209.6" cy="337.9" r="7.0" fill="#2090b8"/><line x1="1256.5" y1="348.2" x2="1253.1" y2="316.2" stroke="#2fa8c4" stroke-width="5.0"/><circle cx="1253.1" cy="316.2" r="7.0" fill="#2090b8"/><line x1="1265.9" y1="348.0" x2="1267.7" y2="324.8" stroke="#2fa8c4" stroke-width="5.0"/><circle cx="1267.7" cy="324.8" r="7.0" fill="#2090b8"/><line x1="1291.2" y1="361.5" x2="1307.9" y2="339.6" stroke="#2fa8c4" stroke-width="5.0"/><circle cx="1307.9" cy="339.6" r="7.0" fill="#2090b8"/><line x1="1303.2" y1="384.3" x2="1332.5" y2="373.2" stroke="#2fa8c4" stroke-width="5.0"/><circle cx="1332.5" cy="373.2" r="7.0" fill="#2090b8"/><ellipse cx="1262" cy="400" rx="48" ry="58" fill="url(#vgB)"/></g><g filter="url(#vblur0)"><line x1="1368.6" y1="798.3" x2="1393.8" y2="823.3" stroke="#2fa8c4" stroke-width="5.2"/><circle cx="1393.8" cy="823.3" r="7.0" fill="#2090b8"/><line x1="1353.3" y1="814.0" x2="1369.1" y2="850.6" stroke="#2fa8c4" stroke-width="5.2"/><circle cx="1369.1" cy="850.6" r="7.0" fill="#2090b8"/><line x1="1339.5" y1="820.1" x2="1344.0" y2="848.7" stroke="#2fa8c4" stroke-width="5.2"/><circle cx="1344.0" cy="848.7" r="7.0" fill="#2090b8"/><line x1="1306.2" y1="813.7" x2="1294.2" y2="840.7" stroke="#2fa8c4" stroke-width="5.2"/><circle cx="1294.2" cy="840.7" r="7.0" fill="#2090b8"/><line x1="1295.4" y1="803.7" x2="1271.2" y2="834.2" stroke="#2fa8c4" stroke-width="5.2"/><circle cx="1271.2" cy="834.2" r="7.0" fill="#2090b8"/><line x1="1283.6" y1="781.5" x2="1254.9" y2="794.8" stroke="#2fa8c4" stroke-width="5.2"/><circle cx="1254.9" cy="794.8" r="7.0" fill="#2090b8"/><line x1="1282.4" y1="743.0" x2="1261.2" y2="735.4" stroke="#2fa8c4" stroke-width="5.2"/><circle cx="1261.2" cy="735.4" r="7.0" fill="#2090b8"/><line x1="1286.3" y1="731.3" x2="1261.4" y2="715.0" stroke="#2fa8c4" stroke-width="5.2"/><circle cx="1261.4" cy="715.0" r="7.0" fill="#2090b8"/><line x1="1306.2" y1="706.3" x2="1289.3" y2="668.2" stroke="#2fa8c4" stroke-width="5.2"/><circle cx="1289.3" cy="668.2" r="7.0" fill="#2090b8"/><line x1="1330.6" y1="698.8" x2="1331.0" y2="665.0" stroke="#2fa8c4" stroke-width="5.2"/><circle cx="1331.0" cy="665.0" r="7.0" fill="#2090b8"/><line x1="1341.8" y1="700.6" x2="1347.1" y2="673.8" stroke="#2fa8c4" stroke-width="5.2"/><circle cx="1347.1" cy="673.8" r="7.0" fill="#2090b8"/><line x1="1369.3" y1="722.8" x2="1394.3" y2="699.2" stroke="#2fa8c4" stroke-width="5.2"/><circle cx="1394.3" cy="699.2" r="7.0" fill="#2090b8"/><line x1="1377.5" y1="742.6" x2="1410.2" y2="730.7" stroke="#2fa8c4" stroke-width="5.2"/><circle cx="1410.2" cy="730.7" r="7.0" fill="#2090b8"/><line x1="1379.5" y1="762.7" x2="1403.7" y2="764.1" stroke="#2fa8c4" stroke-width="5.2"/><circle cx="1403.7" cy="764.1" r="7.0" fill="#2090b8"/><ellipse cx="1330" cy="760" rx="55" ry="68" fill="url(#vgB)"/></g><g filter="url(#vblur0)"><line x1="1081.8" y1="937.7" x2="1108.7" y2="958.8" stroke="#2fa8c4" stroke-width="5.2"/><circle cx="1108.7" cy="958.8" r="7.0" fill="#2090b8"/><line x1="1067.0" y1="956.3" x2="1085.5" y2="991.5" stroke="#2fa8c4" stroke-width="5.2"/><circle cx="1085.5" cy="991.5" r="7.0" fill="#2090b8"/><line x1="1054.5" y1="963.5" x2="1061.6" y2="991.9" stroke="#2fa8c4" stroke-width="5.2"/><circle cx="1061.6" cy="991.9" r="7.0" fill="#2090b8"/><line x1="1020.9" y1="961.4" x2="1011.4" y2="989.3" stroke="#2fa8c4" stroke-width="5.2"/><circle cx="1011.4" cy="989.3" r="7.0" fill="#2090b8"/><line x1="1008.6" y1="952.3" x2="986.9" y2="985.0" stroke="#2fa8c4" stroke-width="5.2"/><circle cx="986.9" cy="985.0" r="7.0" fill="#2090b8"/><line x1="995.9" y1="932.7" x2="967.9" y2="950.2" stroke="#2fa8c4" stroke-width="5.2"/><circle cx="967.9" cy="950.2" r="7.0" fill="#2090b8"/><line x1="991.3" y1="893.8" x2="969.4" y2="888.8" stroke="#2fa8c4" stroke-width="5.2"/><circle cx="969.4" cy="888.8" r="7.0" fill="#2090b8"/><line x1="994.3" y1="881.4" x2="968.9" y2="868.3" stroke="#2fa8c4" stroke-width="5.2"/><circle cx="968.9" cy="868.3" r="7.0" fill="#2090b8"/><line x1="1011.4" y1="855.0" x2="991.1" y2="819.5" stroke="#2fa8c4" stroke-width="5.2"/><circle cx="991.1" cy="819.5" r="7.0" fill="#2090b8"/><line x1="1036.2" y1="844.0" x2="1034.0" y2="809.5" stroke="#2fa8c4" stroke-width="5.2"/><circle cx="1034.0" cy="809.5" r="7.0" fill="#2090b8"/><line x1="1047.0" y1="844.4" x2="1050.1" y2="817.3" stroke="#2fa8c4" stroke-width="5.2"/><circle cx="1050.1" cy="817.3" r="7.0" fill="#2090b8"/><line x1="1075.8" y1="862.7" x2="1098.1" y2="836.3" stroke="#2fa8c4" stroke-width="5.2"/><circle cx="1098.1" cy="836.3" r="7.0" fill="#2090b8"/><line x1="1086.1" y1="882.6" x2="1118.1" y2="867.1" stroke="#2fa8c4" stroke-width="5.2"/><circle cx="1118.1" cy="867.1" r="7.0" fill="#2090b8"/><line x1="1089.4" y1="901.1" x2="1114.2" y2="899.2" stroke="#2fa8c4" stroke-width="5.2"/><circle cx="1114.2" cy="899.2" r="7.0" fill="#2090b8"/><ellipse cx="1040" cy="905" rx="55" ry="68" fill="url(#vgB)"/></g><g filter="url(#vblur0)"><line x1="1349.8" y1="1152.4" x2="1397.6" y2="1162.8" stroke="#2fa8c4" stroke-width="8.6"/><circle cx="1397.6" cy="1162.8" r="10.3" fill="#2090b8"/><line x1="1334.5" y1="1197.6" x2="1380.1" y2="1241.7" stroke="#2fa8c4" stroke-width="8.6"/><circle cx="1380.1" cy="1241.7" r="10.3" fill="#2090b8"/><line x1="1322.7" y1="1213.6" x2="1350.4" y2="1254.8" stroke="#2fa8c4" stroke-width="8.6"/><circle cx="1350.4" cy="1254.8" r="10.3" fill="#2090b8"/><line x1="1276.2" y1="1238.2" x2="1279.1" y2="1286.0" stroke="#2fa8c4" stroke-width="8.6"/><circle cx="1279.1" cy="1286.0" r="10.3" fill="#2090b8"/><line x1="1248.9" y1="1234.9" x2="1234.9" y2="1300.9" stroke="#2fa8c4" stroke-width="8.6"/><circle cx="1234.9" cy="1300.9" r="10.3" fill="#2090b8"/><line x1="1226.0" y1="1221.9" x2="1196.5" y2="1280.2" stroke="#2fa8c4" stroke-width="8.6"/><circle cx="1196.5" cy="1280.2" r="10.3" fill="#2090b8"/><line x1="1194.0" y1="1171.0" x2="1158.3" y2="1187.9" stroke="#2fa8c4" stroke-width="8.6"/><circle cx="1158.3" cy="1187.9" r="10.3" fill="#2090b8"/><line x1="1189.6" y1="1147.8" x2="1148.5" y2="1154.4" stroke="#2fa8c4" stroke-width="8.6"/><circle cx="1148.5" cy="1154.4" r="10.3" fill="#2090b8"/><line x1="1193.2" y1="1102.2" x2="1139.3" y2="1079.2" stroke="#2fa8c4" stroke-width="8.6"/><circle cx="1139.3" cy="1079.2" r="10.3" fill="#2090b8"/><line x1="1219.2" y1="1054.4" x2="1188.1" y2="1005.1" stroke="#2fa8c4" stroke-width="8.6"/><circle cx="1188.1" cy="1005.1" r="10.3" fill="#2090b8"/><line x1="1232.0" y1="1043.6" x2="1215.0" y2="1002.9" stroke="#2fa8c4" stroke-width="8.6"/><circle cx="1215.0" cy="1002.9" r="10.3" fill="#2090b8"/><line x1="1276.8" y1="1031.9" x2="1280.8" y2="972.3" stroke="#2fa8c4" stroke-width="8.6"/><circle cx="1280.8" cy="972.3" r="10.3" fill="#2090b8"/><line x1="1310.7" y1="1045.5" x2="1339.7" y2="982.0" stroke="#2fa8c4" stroke-width="8.6"/><circle cx="1339.7" cy="982.0" r="10.3" fill="#2090b8"/><line x1="1325.8" y1="1060.0" x2="1356.1" y2="1019.2" stroke="#2fa8c4" stroke-width="8.6"/><circle cx="1356.1" cy="1019.2" r="10.3" fill="#2090b8"/><line x1="1349.9" y1="1117.7" x2="1386.1" y2="1109.9" stroke="#2fa8c4" stroke-width="8.6"/><circle cx="1386.1" cy="1109.9" r="10.3" fill="#2090b8"/><ellipse cx="1270" cy="1135" rx="90" ry="115" fill="url(#vgB)"/></g><g filter="url(#vblur)"><line x1="760.7" y1="495.8" x2="784.6" y2="506.9" stroke="#2fa8c4" stroke-width="5.0"/><circle cx="784.6" cy="506.9" r="7.0" fill="#2090b8"/><line x1="740.6" y1="523.1" x2="753.5" y2="554.5" stroke="#2fa8c4" stroke-width="5.0"/><circle cx="753.5" cy="554.5" r="7.0" fill="#2090b8"/><line x1="725.3" y1="528.2" x2="727.0" y2="553.7" stroke="#2fa8c4" stroke-width="5.0"/><circle cx="727.0" cy="553.7" r="7.0" fill="#2090b8"/><line x1="687.4" y1="505.7" x2="671.0" y2="518.8" stroke="#2fa8c4" stroke-width="5.0"/><circle cx="671.0" cy="518.8" r="7.0" fill="#2090b8"/><line x1="680.7" y1="481.3" x2="652.8" y2="483.5" stroke="#2fa8c4" stroke-width="5.0"/><circle cx="652.8" cy="483.5" r="7.0" fill="#2090b8"/><line x1="685.7" y1="453.7" x2="662.0" y2="437.7" stroke="#2fa8c4" stroke-width="5.0"/><circle cx="662.0" cy="437.7" r="7.0" fill="#2090b8"/><line x1="721.4" y1="427.6" x2="721.1" y2="404.4" stroke="#2fa8c4" stroke-width="5.0"/><circle cx="721.1" cy="404.4" r="7.0" fill="#2090b8"/><line x1="735.8" y1="430.5" x2="743.2" y2="405.3" stroke="#2fa8c4" stroke-width="5.0"/><circle cx="743.2" cy="405.3" r="7.0" fill="#2090b8"/><line x1="759.6" y1="457.0" x2="786.3" y2="442.2" stroke="#2fa8c4" stroke-width="5.0"/><circle cx="786.3" cy="442.2" r="7.0" fill="#2090b8"/><ellipse cx="722" cy="478" rx="46" ry="56" fill="url(#vgA)"/></g><g filter="url(#vblur)"><line x1="883.7" y1="772.8" x2="907.6" y2="783.9" stroke="#2fa8c4" stroke-width="5.0"/><circle cx="907.6" cy="783.9" r="7.0" fill="#2090b8"/><line x1="863.6" y1="800.1" x2="876.5" y2="831.5" stroke="#2fa8c4" stroke-width="5.0"/><circle cx="876.5" cy="831.5" r="7.0" fill="#2090b8"/><line x1="848.3" y1="805.2" x2="850.0" y2="830.7" stroke="#2fa8c4" stroke-width="5.0"/><circle cx="850.0" cy="830.7" r="7.0" fill="#2090b8"/><line x1="810.4" y1="782.7" x2="794.0" y2="795.8" stroke="#2fa8c4" stroke-width="5.0"/><circle cx="794.0" cy="795.8" r="7.0" fill="#2090b8"/><line x1="803.7" y1="758.3" x2="775.8" y2="760.5" stroke="#2fa8c4" stroke-width="5.0"/><circle cx="775.8" cy="760.5" r="7.0" fill="#2090b8"/><line x1="808.7" y1="730.7" x2="785.0" y2="714.7" stroke="#2fa8c4" stroke-width="5.0"/><circle cx="785.0" cy="714.7" r="7.0" fill="#2090b8"/><line x1="844.4" y1="704.6" x2="844.1" y2="681.4" stroke="#2fa8c4" stroke-width="5.0"/><circle cx="844.1" cy="681.4" r="7.0" fill="#2090b8"/><line x1="858.8" y1="707.5" x2="866.2" y2="682.3" stroke="#2fa8c4" stroke-width="5.0"/><circle cx="866.2" cy="682.3" r="7.0" fill="#2090b8"/><line x1="882.6" y1="734.0" x2="909.3" y2="719.2" stroke="#2fa8c4" stroke-width="5.0"/><circle cx="909.3" cy="719.2" r="7.0" fill="#2090b8"/><ellipse cx="845" cy="755" rx="46" ry="56" fill="url(#vgB)"/></g><g filter="url(#vblur)"><line x1="823.7" y1="937.8" x2="847.6" y2="948.9" stroke="#2fa8c4" stroke-width="5.0"/><circle cx="847.6" cy="948.9" r="7.0" fill="#2090b8"/><line x1="803.6" y1="965.1" x2="816.5" y2="996.5" stroke="#2fa8c4" stroke-width="5.0"/><circle cx="816.5" cy="996.5" r="7.0" fill="#2090b8"/><line x1="788.3" y1="970.2" x2="790.0" y2="995.7" stroke="#2fa8c4" stroke-width="5.0"/><circle cx="790.0" cy="995.7" r="7.0" fill="#2090b8"/><line x1="750.4" y1="947.7" x2="734.0" y2="960.8" stroke="#2fa8c4" stroke-width="5.0"/><circle cx="734.0" cy="960.8" r="7.0" fill="#2090b8"/><line x1="743.7" y1="923.3" x2="715.8" y2="925.5" stroke="#2fa8c4" stroke-width="5.0"/><circle cx="715.8" cy="925.5" r="7.0" fill="#2090b8"/><line x1="748.7" y1="895.7" x2="725.0" y2="879.7" stroke="#2fa8c4" stroke-width="5.0"/><circle cx="725.0" cy="879.7" r="7.0" fill="#2090b8"/><line x1="784.4" y1="869.6" x2="784.1" y2="846.4" stroke="#2fa8c4" stroke-width="5.0"/><circle cx="784.1" cy="846.4" r="7.0" fill="#2090b8"/><line x1="798.8" y1="872.5" x2="806.2" y2="847.3" stroke="#2fa8c4" stroke-width="5.0"/><circle cx="806.2" cy="847.3" r="7.0" fill="#2090b8"/><line x1="822.6" y1="899.0" x2="849.3" y2="884.2" stroke="#2fa8c4" stroke-width="5.0"/><circle cx="849.3" cy="884.2" r="7.0" fill="#2090b8"/><ellipse cx="785" cy="920" rx="46" ry="56" fill="url(#vgA)"/></g><g filter="url(#vblur)"><line x1="943.7" y1="1212.8" x2="967.6" y2="1223.9" stroke="#2fa8c4" stroke-width="5.0"/><circle cx="967.6" cy="1223.9" r="7.0" fill="#2090b8"/><line x1="923.6" y1="1240.1" x2="936.5" y2="1271.5" stroke="#2fa8c4" stroke-width="5.0"/><circle cx="936.5" cy="1271.5" r="7.0" fill="#2090b8"/><line x1="908.3" y1="1245.2" x2="910.0" y2="1270.7" stroke="#2fa8c4" stroke-width="5.0"/><circle cx="910.0" cy="1270.7" r="7.0" fill="#2090b8"/><line x1="870.4" y1="1222.7" x2="854.0" y2="1235.8" stroke="#2fa8c4" stroke-width="5.0"/><circle cx="854.0" cy="1235.8" r="7.0" fill="#2090b8"/><line x1="863.7" y1="1198.3" x2="835.8" y2="1200.5" stroke="#2fa8c4" stroke-width="5.0"/><circle cx="835.8" cy="1200.5" r="7.0" fill="#2090b8"/><line x1="868.7" y1="1170.7" x2="845.0" y2="1154.7" stroke="#2fa8c4" stroke-width="5.0"/><circle cx="845.0" cy="1154.7" r="7.0" fill="#2090b8"/><line x1="904.4" y1="1144.6" x2="904.1" y2="1121.4" stroke="#2fa8c4" stroke-width="5.0"/><circle cx="904.1" cy="1121.4" r="7.0" fill="#2090b8"/><line x1="918.8" y1="1147.5" x2="926.2" y2="1122.3" stroke="#2fa8c4" stroke-width="5.0"/><circle cx="926.2" cy="1122.3" r="7.0" fill="#2090b8"/><line x1="942.6" y1="1174.0" x2="969.3" y2="1159.2" stroke="#2fa8c4" stroke-width="5.0"/><circle cx="969.3" cy="1159.2" r="7.0" fill="#2090b8"/><ellipse cx="905" cy="1195" rx="46" ry="56" fill="url(#vgB)"/></g><g filter="url(#vblur)"><line x1="1633.8" y1="269.8" x2="1660.8" y2="281.9" stroke="#2fa8c4" stroke-width="5.0"/><circle cx="1660.8" cy="281.9" r="7.0" fill="#2090b8"/><line x1="1611.0" y1="299.9" x2="1625.6" y2="334.8" stroke="#2fa8c4" stroke-width="5.0"/><circle cx="1625.6" cy="334.8" r="7.0" fill="#2090b8"/><line x1="1593.8" y1="305.6" x2="1595.7" y2="333.8" stroke="#2fa8c4" stroke-width="5.0"/><circle cx="1595.7" cy="333.8" r="7.0" fill="#2090b8"/><line x1="1550.9" y1="280.6" x2="1532.3" y2="295.2" stroke="#2fa8c4" stroke-width="5.0"/><circle cx="1532.3" cy="295.2" r="7.0" fill="#2090b8"/><line x1="1543.3" y1="253.6" x2="1511.8" y2="256.1" stroke="#2fa8c4" stroke-width="5.0"/><circle cx="1511.8" cy="256.1" r="7.0" fill="#2090b8"/><line x1="1549.0" y1="223.1" x2="1522.1" y2="205.4" stroke="#2fa8c4" stroke-width="5.0"/><circle cx="1522.1" cy="205.4" r="7.0" fill="#2090b8"/><line x1="1589.3" y1="194.2" x2="1589.0" y2="168.5" stroke="#2fa8c4" stroke-width="5.0"/><circle cx="1589.0" cy="168.5" r="7.0" fill="#2090b8"/><line x1="1605.6" y1="197.4" x2="1613.9" y2="169.5" stroke="#2fa8c4" stroke-width="5.0"/><circle cx="1613.9" cy="169.5" r="7.0" fill="#2090b8"/><line x1="1632.6" y1="226.8" x2="1662.7" y2="210.3" stroke="#2fa8c4" stroke-width="5.0"/><circle cx="1662.7" cy="210.3" r="7.0" fill="#2090b8"/><ellipse cx="1590" cy="250" rx="52" ry="62" fill="url(#vgB)"/></g><g filter="url(#vblur)"><line x1="1568.7" y1="947.8" x2="1592.6" y2="958.9" stroke="#2fa8c4" stroke-width="5.0"/><circle cx="1592.6" cy="958.9" r="7.0" fill="#2090b8"/><line x1="1548.6" y1="975.1" x2="1561.5" y2="1006.5" stroke="#2fa8c4" stroke-width="5.0"/><circle cx="1561.5" cy="1006.5" r="7.0" fill="#2090b8"/><line x1="1533.3" y1="980.2" x2="1535.0" y2="1005.7" stroke="#2fa8c4" stroke-width="5.0"/><circle cx="1535.0" cy="1005.7" r="7.0" fill="#2090b8"/><line x1="1495.4" y1="957.7" x2="1479.0" y2="970.8" stroke="#2fa8c4" stroke-width="5.0"/><circle cx="1479.0" cy="970.8" r="7.0" fill="#2090b8"/><line x1="1488.7" y1="933.3" x2="1460.8" y2="935.5" stroke="#2fa8c4" stroke-width="5.0"/><circle cx="1460.8" cy="935.5" r="7.0" fill="#2090b8"/><line x1="1493.7" y1="905.7" x2="1470.0" y2="889.7" stroke="#2fa8c4" stroke-width="5.0"/><circle cx="1470.0" cy="889.7" r="7.0" fill="#2090b8"/><line x1="1529.4" y1="879.6" x2="1529.1" y2="856.4" stroke="#2fa8c4" stroke-width="5.0"/><circle cx="1529.1" cy="856.4" r="7.0" fill="#2090b8"/><line x1="1543.8" y1="882.5" x2="1551.2" y2="857.3" stroke="#2fa8c4" stroke-width="5.0"/><circle cx="1551.2" cy="857.3" r="7.0" fill="#2090b8"/><line x1="1567.6" y1="909.0" x2="1594.3" y2="894.2" stroke="#2fa8c4" stroke-width="5.0"/><circle cx="1594.3" cy="894.2" r="7.0" fill="#2090b8"/><ellipse cx="1530" cy="930" rx="46" ry="56" fill="url(#vgB)"/></g></g>
<g transform="translate(245,1220) scale(0.147732)" ><defs>
<linearGradient id="dfloor" x1="0" y1="0" x2="0" y2="1"><stop offset="0" stop-color="#ffffff"/><stop offset="0.25" stop-color="#f4eef0"/><stop offset="1" stop-color="#f5e4ea"/></linearGradient>
<linearGradient id="dfadeL" x1="0" y1="0" x2="1" y2="0"><stop offset="0" stop-color="#fff" stop-opacity="0"/><stop offset="1" stop-color="#fff" stop-opacity="1"/></linearGradient>
<linearGradient id="damber" x1="0" y1="0" x2="1" y2="0"><stop offset="0" stop-color="#6a3410"/><stop offset="0.4" stop-color="#a85c20"/><stop offset="1" stop-color="#6a3410"/></linearGradient>
<linearGradient id="dglass" x1="0" y1="0" x2="1" y2="0"><stop offset="0" stop-color="#c8c8c0"/><stop offset="0.3" stop-color="#f2f2ee"/><stop offset="0.8" stop-color="#e2e2da"/><stop offset="1" stop-color="#b8b8b0"/></linearGradient>
<linearGradient id="dyel" x1="0" y1="0" x2="1" y2="0"><stop offset="0" stop-color="#d8c050"/><stop offset="0.4" stop-color="#f0e488"/><stop offset="1" stop-color="#d4bc48"/></linearGradient>
<linearGradient id="dcap" x1="0" y1="0" x2="1" y2="0"><stop offset="0" stop-color="#787c80"/><stop offset="0.4" stop-color="#d0d4d8"/><stop offset="1" stop-color="#70747a"/></linearGradient>
<linearGradient id="dblue" x1="0" y1="0" x2="1" y2="0"><stop offset="0" stop-color="#143c58"/><stop offset="0.4" stop-color="#2a6488"/><stop offset="1" stop-color="#123450"/></linearGradient>
<filter id="dblur" x="-2%" y="-2%" width="104%" height="104%"><feGaussianBlur stdDeviation="3.2"/></filter>
<clipPath id="dclip"><rect x="68" y="100" width="1787" height="1056"/></clipPath>
</defs><g clip-path="url(#dclip)" filter="url(#dblur)"><rect x="68" y="420" width="1787" height="736" fill="url(#dfloor)"/><rect x="70" y="448" width="190" height="20" rx="10" fill="#c47a30"/><rect x="76" y="470" width="186" height="20" rx="10" fill="#c47a30"/><rect x="82" y="492" width="182" height="20" rx="10" fill="#c47a30"/><rect x="88" y="514" width="178" height="20" rx="10" fill="#c47a30"/><rect x="94" y="536" width="174" height="20" rx="10" fill="#c47a30"/><rect x="298" y="290" width="192" height="230" rx="10" fill="#efe9dc"/><rect x="292" y="262" width="204" height="46" rx="14" fill="#f6f2e8"/><rect x="300" y="360" width="40" height="150" fill="#e8b098" opacity="0.55"/><rect x="305" y="505" width="180" height="14" fill="#d06840" opacity="0.6"/><path d="M590,270 L700,270 L700,320 C730,335 738,350 738,380 L738,530 L535,530 L535,380 C535,350 545,335 590,320Z" fill="url(#damber)"/><rect x="574" y="190" width="138" height="88" rx="16" fill="#eee6c4"/><rect x="540" y="400" width="195" height="130" fill="#5e2c0c" opacity="0.45"/><rect x="495" y="400" width="40" height="90" fill="#e4c8a0"/><rect x="742" y="215" width="272" height="395" rx="26" fill="url(#dglass)"/><rect x="742" y="420" width="272" height="190" rx="20" fill="url(#dyel)"/><rect x="742" y="290" width="40" height="250" fill="#b86828" opacity="0.7"/><rect x="790" y="300" width="190" height="130" fill="#d8d8d0" opacity="0.7"/><rect x="760" y="125" width="236" height="70" rx="16" fill="url(#dcap)"/><rect x="772" y="190" width="214" height="30" fill="#2a2a2a"/><rect x="775" y="118" width="206" height="16" rx="8" fill="#5a5e64"/><rect x="1040" y="380" width="242" height="245" rx="20" fill="#e6e6e2"/><rect x="1064" y="295" width="204" height="98" rx="16" fill="url(#dblue)"/><rect x="1175" y="440" width="105" height="170" fill="#f4f4f4"/><rect x="1178" y="520" width="100" height="34" fill="#2a6c80"/><rect x="1045" y="470" width="120" height="130" fill="#d4d4cc"/><rect x="1275" y="290" width="216" height="320" rx="10" fill="#f4f2ee"/><rect x="1275" y="296" width="216" height="92" fill="#7c3c14"/><rect x="1275" y="370" width="216" height="16" fill="#c8501c"/><rect x="1224" y="208" width="272" height="92" rx="14" fill="#f6f4f0"/><rect x="1224" y="250" width="272" height="6" fill="#dcd8d0"/><rect x="1224" y="270" width="272" height="6" fill="#dcd8d0"/><rect x="1298" y="572" width="9" height="34" fill="#5a2010"/><rect x="1318" y="572" width="9" height="34" fill="#5a2010"/><rect x="1338" y="572" width="9" height="34" fill="#5a2010"/><rect x="1358" y="572" width="9" height="34" fill="#5a2010"/><rect x="1378" y="572" width="9" height="34" fill="#5a2010"/><rect x="1398" y="572" width="9" height="34" fill="#5a2010"/><rect x="1418" y="572" width="9" height="34" fill="#5a2010"/><rect x="1438" y="572" width="9" height="34" fill="#5a2010"/><rect x="1458" y="572" width="9" height="34" fill="#5a2010"/><rect x="1275" y="596" width="216" height="14" fill="#5a2010"/><path d="M68,590 L520,500 L1010,640 L700,780 L68,760Z" fill="#e6e6e4"/><path d="M68,640 L560,545 L900,640 L560,740 L68,720Z" fill="#f4f4f2"/><rect x="200" y="690" width="46" height="18" fill="#48a070" transform="rotate(-10 200 690)"/><rect x="360" y="655" width="46" height="18" fill="#48a070" transform="rotate(-10 360 655)"/><rect x="500" y="625" width="46" height="18" fill="#48a070" transform="rotate(-10 500 625)"/><rect x="640" y="600" width="46" height="18" fill="#48a070" transform="rotate(-10 640 600)"/><rect x="730" y="580" width="46" height="18" fill="#48a070" transform="rotate(-10 730 580)"/><path d="M90,650 L560,560" stroke="#cfcfcd" stroke-width="10"/><path d="M90,676 L560,586" stroke="#cfcfcd" stroke-width="10"/><path d="M90,702 L560,612" stroke="#cfcfcd" stroke-width="10"/><path d="M90,728 L560,638" stroke="#cfcfcd" stroke-width="10"/><path d="M1480,470 L1720,440 L1855,470 L1855,760 L1620,720 L1490,600Z" fill="#dcdce4"/><g transform="translate(1540,500) rotate(-20)"><rect x="-39.0" y="-15.0" width="78" height="30" rx="15.0" fill="#c02030"/><path d="M0,-15.0 L24.0,-15.0 A15.0,15.0 0 0 1 24.0,15.0 L0,15.0Z" fill="#e8d8c0"/><rect x="-30.0" y="-11.4" width="60.0" height="6.0" rx="3.0" fill="#fff" opacity="0.35"/></g><g transform="translate(1550,548) rotate(-20)"><rect x="-39.0" y="-15.0" width="78" height="30" rx="15.0" fill="#c02030"/><path d="M0,-15.0 L24.0,-15.0 A15.0,15.0 0 0 1 24.0,15.0 L0,15.0Z" fill="#e8d8c0"/><rect x="-30.0" y="-11.4" width="60.0" height="6.0" rx="3.0" fill="#fff" opacity="0.35"/></g><g transform="translate(1612,494) rotate(-20)"><rect x="-39.0" y="-15.0" width="78" height="30" rx="15.0" fill="#c02030"/><path d="M0,-15.0 L24.0,-15.0 A15.0,15.0 0 0 1 24.0,15.0 L0,15.0Z" fill="#e8d8c0"/><rect x="-30.0" y="-11.4" width="60.0" height="6.0" rx="3.0" fill="#fff" opacity="0.35"/></g><g transform="translate(1622,542) rotate(-20)"><rect x="-39.0" y="-15.0" width="78" height="30" rx="15.0" fill="#c02030"/><path d="M0,-15.0 L24.0,-15.0 A15.0,15.0 0 0 1 24.0,15.0 L0,15.0Z" fill="#e8d8c0"/><rect x="-30.0" y="-11.4" width="60.0" height="6.0" rx="3.0" fill="#fff" opacity="0.35"/></g><g transform="translate(1684,488) rotate(-20)"><rect x="-39.0" y="-15.0" width="78" height="30" rx="15.0" fill="#c02030"/><path d="M0,-15.0 L24.0,-15.0 A15.0,15.0 0 0 1 24.0,15.0 L0,15.0Z" fill="#e8d8c0"/><rect x="-30.0" y="-11.4" width="60.0" height="6.0" rx="3.0" fill="#fff" opacity="0.35"/></g><g transform="translate(1694,536) rotate(-20)"><rect x="-39.0" y="-15.0" width="78" height="30" rx="15.0" fill="#c02030"/><path d="M0,-15.0 L24.0,-15.0 A15.0,15.0 0 0 1 24.0,15.0 L0,15.0Z" fill="#e8d8c0"/><rect x="-30.0" y="-11.4" width="60.0" height="6.0" rx="3.0" fill="#fff" opacity="0.35"/></g><g transform="translate(1600,520) rotate(25)"><rect x="-30.0" y="-12.0" width="60" height="24" rx="12.0" fill="#20a0a8"/><path d="M0,-12.0 L18.0,-12.0 A12.0,12.0 0 0 1 18.0,12.0 L0,12.0Z" fill="#e4d860"/><rect x="-22.8" y="-9.120000000000001" width="45.6" height="4.800000000000001" rx="2.4000000000000004" fill="#fff" opacity="0.35"/></g><g transform="translate(1630,554) rotate(25)"><rect x="-30.0" y="-12.0" width="60" height="24" rx="12.0" fill="#20a0a8"/><path d="M0,-12.0 L18.0,-12.0 A12.0,12.0 0 0 1 18.0,12.0 L0,12.0Z" fill="#e4d860"/><rect x="-22.8" y="-9.120000000000001" width="45.6" height="4.800000000000001" rx="2.4000000000000004" fill="#fff" opacity="0.35"/></g><g transform="translate(1660,588) rotate(25)"><rect x="-30.0" y="-12.0" width="60" height="24" rx="12.0" fill="#20a0a8"/><path d="M0,-12.0 L18.0,-12.0 A12.0,12.0 0 0 1 18.0,12.0 L0,12.0Z" fill="#e4d860"/><rect x="-22.8" y="-9.120000000000001" width="45.6" height="4.800000000000001" rx="2.4000000000000004" fill="#fff" opacity="0.35"/></g><g transform="translate(1662,524) rotate(25)"><rect x="-30.0" y="-12.0" width="60" height="24" rx="12.0" fill="#20a0a8"/><path d="M0,-12.0 L18.0,-12.0 A12.0,12.0 0 0 1 18.0,12.0 L0,12.0Z" fill="#e4d860"/><rect x="-22.8" y="-9.120000000000001" width="45.6" height="4.800000000000001" rx="2.4000000000000004" fill="#fff" opacity="0.35"/></g><g transform="translate(1692,558) rotate(25)"><rect x="-30.0" y="-12.0" width="60" height="24" rx="12.0" fill="#20a0a8"/><path d="M0,-12.0 L18.0,-12.0 A12.0,12.0 0 0 1 18.0,12.0 L0,12.0Z" fill="#e4d860"/><rect x="-22.8" y="-9.120000000000001" width="45.6" height="4.800000000000001" rx="2.4000000000000004" fill="#fff" opacity="0.35"/></g><g transform="translate(1722,592) rotate(25)"><rect x="-30.0" y="-12.0" width="60" height="24" rx="12.0" fill="#20a0a8"/><path d="M0,-12.0 L18.0,-12.0 A12.0,12.0 0 0 1 18.0,12.0 L0,12.0Z" fill="#e4d860"/><rect x="-22.8" y="-9.120000000000001" width="45.6" height="4.800000000000001" rx="2.4000000000000004" fill="#fff" opacity="0.35"/></g><g transform="translate(1724,528) rotate(25)"><rect x="-30.0" y="-12.0" width="60" height="24" rx="12.0" fill="#20a0a8"/><path d="M0,-12.0 L18.0,-12.0 A12.0,12.0 0 0 1 18.0,12.0 L0,12.0Z" fill="#e4d860"/><rect x="-22.8" y="-9.120000000000001" width="45.6" height="4.800000000000001" rx="2.4000000000000004" fill="#fff" opacity="0.35"/></g><g transform="translate(1754,562) rotate(25)"><rect x="-30.0" y="-12.0" width="60" height="24" rx="12.0" fill="#20a0a8"/><path d="M0,-12.0 L18.0,-12.0 A12.0,12.0 0 0 1 18.0,12.0 L0,12.0Z" fill="#e4d860"/><rect x="-22.8" y="-9.120000000000001" width="45.6" height="4.800000000000001" rx="2.4000000000000004" fill="#fff" opacity="0.35"/></g><g transform="translate(1784,596) rotate(25)"><rect x="-30.0" y="-12.0" width="60" height="24" rx="12.0" fill="#20a0a8"/><path d="M0,-12.0 L18.0,-12.0 A12.0,12.0 0 0 1 18.0,12.0 L0,12.0Z" fill="#e4d860"/><rect x="-22.8" y="-9.120000000000001" width="45.6" height="4.800000000000001" rx="2.4000000000000004" fill="#fff" opacity="0.35"/></g><g transform="translate(1786,532) rotate(25)"><rect x="-30.0" y="-12.0" width="60" height="24" rx="12.0" fill="#20a0a8"/><path d="M0,-12.0 L18.0,-12.0 A12.0,12.0 0 0 1 18.0,12.0 L0,12.0Z" fill="#e4d860"/><rect x="-22.8" y="-9.120000000000001" width="45.6" height="4.800000000000001" rx="2.4000000000000004" fill="#fff" opacity="0.35"/></g><g transform="translate(1816,566) rotate(25)"><rect x="-30.0" y="-12.0" width="60" height="24" rx="12.0" fill="#20a0a8"/><path d="M0,-12.0 L18.0,-12.0 A12.0,12.0 0 0 1 18.0,12.0 L0,12.0Z" fill="#e4d860"/><rect x="-22.8" y="-9.120000000000001" width="45.6" height="4.800000000000001" rx="2.4000000000000004" fill="#fff" opacity="0.35"/></g><g transform="translate(1846,600) rotate(25)"><rect x="-30.0" y="-12.0" width="60" height="24" rx="12.0" fill="#20a0a8"/><path d="M0,-12.0 L18.0,-12.0 A12.0,12.0 0 0 1 18.0,12.0 L0,12.0Z" fill="#e4d860"/><rect x="-22.8" y="-9.120000000000001" width="45.6" height="4.800000000000001" rx="2.4000000000000004" fill="#fff" opacity="0.35"/></g><g transform="translate(1690,650) rotate(-15)"><rect x="-34.0" y="-14.0" width="68" height="28" rx="14.0" fill="#2070c8"/><path d="M0,-14.0 L20.0,-14.0 A14.0,14.0 0 0 1 20.0,14.0 L0,14.0Z" fill="#f0f0f0"/><rect x="-25.6" y="-10.64" width="51.2" height="5.6000000000000005" rx="2.8000000000000003" fill="#fff" opacity="0.35"/></g><g transform="translate(1700,688) rotate(-15)"><rect x="-34.0" y="-14.0" width="68" height="28" rx="14.0" fill="#2070c8"/><path d="M0,-14.0 L20.0,-14.0 A14.0,14.0 0 0 1 20.0,14.0 L0,14.0Z" fill="#f0f0f0"/><rect x="-25.6" y="-10.64" width="51.2" height="5.6000000000000005" rx="2.8000000000000003" fill="#fff" opacity="0.35"/></g><g transform="translate(1710,726) rotate(-15)"><rect x="-34.0" y="-14.0" width="68" height="28" rx="14.0" fill="#2070c8"/><path d="M0,-14.0 L20.0,-14.0 A14.0,14.0 0 0 1 20.0,14.0 L0,14.0Z" fill="#f0f0f0"/><rect x="-25.6" y="-10.64" width="51.2" height="5.6000000000000005" rx="2.8000000000000003" fill="#fff" opacity="0.35"/></g><g transform="translate(1752,650) rotate(-15)"><rect x="-34.0" y="-14.0" width="68" height="28" rx="14.0" fill="#2070c8"/><path d="M0,-14.0 L20.0,-14.0 A14.0,14.0 0 0 1 20.0,14.0 L0,14.0Z" fill="#f0f0f0"/><rect x="-25.6" y="-10.64" width="51.2" height="5.6000000000000005" rx="2.8000000000000003" fill="#fff" opacity="0.35"/></g><g transform="translate(1762,688) rotate(-15)"><rect x="-34.0" y="-14.0" width="68" height="28" rx="14.0" fill="#2070c8"/><path d="M0,-14.0 L20.0,-14.0 A14.0,14.0 0 0 1 20.0,14.0 L0,14.0Z" fill="#f0f0f0"/><rect x="-25.6" y="-10.64" width="51.2" height="5.6000000000000005" rx="2.8000000000000003" fill="#fff" opacity="0.35"/></g><g transform="translate(1772,726) rotate(-15)"><rect x="-34.0" y="-14.0" width="68" height="28" rx="14.0" fill="#2070c8"/><path d="M0,-14.0 L20.0,-14.0 A14.0,14.0 0 0 1 20.0,14.0 L0,14.0Z" fill="#f0f0f0"/><rect x="-25.6" y="-10.64" width="51.2" height="5.6000000000000005" rx="2.8000000000000003" fill="#fff" opacity="0.35"/></g><g transform="translate(1814,650) rotate(-15)"><rect x="-34.0" y="-14.0" width="68" height="28" rx="14.0" fill="#2070c8"/><path d="M0,-14.0 L20.0,-14.0 A14.0,14.0 0 0 1 20.0,14.0 L0,14.0Z" fill="#f0f0f0"/><rect x="-25.6" y="-10.64" width="51.2" height="5.6000000000000005" rx="2.8000000000000003" fill="#fff" opacity="0.35"/></g><g transform="translate(1824,688) rotate(-15)"><rect x="-34.0" y="-14.0" width="68" height="28" rx="14.0" fill="#2070c8"/><path d="M0,-14.0 L20.0,-14.0 A14.0,14.0 0 0 1 20.0,14.0 L0,14.0Z" fill="#f0f0f0"/><rect x="-25.6" y="-10.64" width="51.2" height="5.6000000000000005" rx="2.8000000000000003" fill="#fff" opacity="0.35"/></g><g transform="translate(1834,726) rotate(-15)"><rect x="-34.0" y="-14.0" width="68" height="28" rx="14.0" fill="#2070c8"/><path d="M0,-14.0 L20.0,-14.0 A14.0,14.0 0 0 1 20.0,14.0 L0,14.0Z" fill="#f0f0f0"/><rect x="-25.6" y="-10.64" width="51.2" height="5.6000000000000005" rx="2.8000000000000003" fill="#fff" opacity="0.35"/></g><path d="M1000,650 L1100,615 L1650,640 L1640,700 L1120,700Z" fill="#d0d0d8"/><g transform="translate(1130,650) rotate(12)"><rect x="-37.0" y="-17.0" width="74" height="34" rx="17.0" fill="#ece478"/><rect x="-26.8" y="-12.92" width="53.6" height="6.800000000000001" rx="3.4000000000000004" fill="#fff" opacity="0.35"/></g><g transform="translate(1196,652) rotate(12)"><rect x="-37.0" y="-17.0" width="74" height="34" rx="17.0" fill="#ece478"/><rect x="-26.8" y="-12.92" width="53.6" height="6.800000000000001" rx="3.4000000000000004" fill="#fff" opacity="0.35"/></g><g transform="translate(1262,654) rotate(12)"><rect x="-37.0" y="-17.0" width="74" height="34" rx="17.0" fill="#ece478"/><rect x="-26.8" y="-12.92" width="53.6" height="6.800000000000001" rx="3.4000000000000004" fill="#fff" opacity="0.35"/></g><g transform="translate(1328,656) rotate(12)"><rect x="-37.0" y="-17.0" width="74" height="34" rx="17.0" fill="#ece478"/><rect x="-26.8" y="-12.92" width="53.6" height="6.800000000000001" rx="3.4000000000000004" fill="#fff" opacity="0.35"/></g><g transform="translate(1394,658) rotate(12)"><rect x="-37.0" y="-17.0" width="74" height="34" rx="17.0" fill="#ece478"/><rect x="-26.8" y="-12.92" width="53.6" height="6.800000000000001" rx="3.4000000000000004" fill="#fff" opacity="0.35"/></g><g transform="translate(1460,660) rotate(12)"><rect x="-37.0" y="-17.0" width="74" height="34" rx="17.0" fill="#ece478"/><rect x="-26.8" y="-12.92" width="53.6" height="6.800000000000001" rx="3.4000000000000004" fill="#fff" opacity="0.35"/></g><g transform="translate(1526,662) rotate(12)"><rect x="-37.0" y="-17.0" width="74" height="34" rx="17.0" fill="#ece478"/><rect x="-26.8" y="-12.92" width="53.6" height="6.800000000000001" rx="3.4000000000000004" fill="#fff" opacity="0.35"/></g><g transform="translate(1592,664) rotate(12)"><rect x="-37.0" y="-17.0" width="74" height="34" rx="17.0" fill="#ece478"/><rect x="-26.8" y="-12.92" width="53.6" height="6.800000000000001" rx="3.4000000000000004" fill="#fff" opacity="0.35"/></g><g transform="translate(1200,685) rotate(12)"><rect x="-35.0" y="-13.0" width="70" height="26" rx="13.0" fill="#d8d060"/><rect x="-27.2" y="-9.879999999999999" width="54.4" height="5.2" rx="2.6" fill="#fff" opacity="0.35"/></g><g transform="translate(1266,687) rotate(12)"><rect x="-35.0" y="-13.0" width="70" height="26" rx="13.0" fill="#d8d060"/><rect x="-27.2" y="-9.879999999999999" width="54.4" height="5.2" rx="2.6" fill="#fff" opacity="0.35"/></g><g transform="translate(1332,689) rotate(12)"><rect x="-35.0" y="-13.0" width="70" height="26" rx="13.0" fill="#d8d060"/><rect x="-27.2" y="-9.879999999999999" width="54.4" height="5.2" rx="2.6" fill="#fff" opacity="0.35"/></g><g transform="translate(1398,691) rotate(12)"><rect x="-35.0" y="-13.0" width="70" height="26" rx="13.0" fill="#d8d060"/><rect x="-27.2" y="-9.879999999999999" width="54.4" height="5.2" rx="2.6" fill="#fff" opacity="0.35"/></g><g transform="translate(1464,693) rotate(12)"><rect x="-35.0" y="-13.0" width="70" height="26" rx="13.0" fill="#d8d060"/><rect x="-27.2" y="-9.879999999999999" width="54.4" height="5.2" rx="2.6" fill="#fff" opacity="0.35"/></g><g transform="translate(1530,695) rotate(12)"><rect x="-35.0" y="-13.0" width="70" height="26" rx="13.0" fill="#d8d060"/><rect x="-27.2" y="-9.879999999999999" width="54.4" height="5.2" rx="2.6" fill="#fff" opacity="0.35"/></g><g transform="translate(1596,697) rotate(12)"><rect x="-35.0" y="-13.0" width="70" height="26" rx="13.0" fill="#d8d060"/><rect x="-27.2" y="-9.879999999999999" width="54.4" height="5.2" rx="2.6" fill="#fff" opacity="0.35"/></g><path d="M720,700 L1040,650 L1520,720 L1500,860 L1380,840 L760,860Z" fill="#c4c8d4"/><g transform="translate(826,692) rotate(-25)"><rect x="-42.0" y="-32.0" width="84" height="64" rx="32.0" fill="#4a9ee2"/><rect x="-22.8" y="-24.32" width="45.6" height="12.8" rx="6.4" fill="#fff" opacity="0.35"/></g><g transform="translate(1127.6,715.1) rotate(-25)"><rect x="-42.0" y="-32.0" width="84" height="64" rx="32.0" fill="#4a9ee2"/><rect x="-22.8" y="-24.32" width="45.6" height="12.8" rx="6.4" fill="#fff" opacity="0.35"/></g><g transform="translate(1255.5,738) rotate(-25)"><rect x="-42.0" y="-32.0" width="84" height="64" rx="32.0" fill="#4a9ee2"/><rect x="-22.8" y="-24.32" width="45.6" height="12.8" rx="6.4" fill="#fff" opacity="0.35"/></g><g transform="translate(1410.8,738) rotate(-25)"><rect x="-42.0" y="-32.0" width="84" height="64" rx="32.0" fill="#4a9ee2"/><rect x="-22.8" y="-24.32" width="45.6" height="12.8" rx="6.4" fill="#fff" opacity="0.35"/></g><g transform="translate(1392.6,815.6) rotate(-25)"><rect x="-42.0" y="-32.0" width="84" height="64" rx="32.0" fill="#4a9ee2"/><rect x="-22.8" y="-24.32" width="45.6" height="12.8" rx="6.4" fill="#fff" opacity="0.35"/></g><g transform="translate(1250,800) rotate(-25)"><rect x="-42.0" y="-32.0" width="84" height="64" rx="32.0" fill="#4a9ee2"/><rect x="-22.8" y="-24.32" width="45.6" height="12.8" rx="6.4" fill="#fff" opacity="0.35"/></g><path d="M1480,720 L1700,740 L1640,880 L1480,880Z" fill="#d4d0d8"/><g transform="translate(1545,735) rotate(10)"><rect x="-35.0" y="-22.0" width="70" height="44" rx="22.0" fill="#c42838"/><rect x="-21.8" y="-16.72" width="43.6" height="8.8" rx="4.4" fill="#fff" opacity="0.35"/></g><g transform="translate(1650,765) rotate(10)"><rect x="-35.0" y="-22.0" width="70" height="44" rx="22.0" fill="#c42838"/><rect x="-21.8" y="-16.72" width="43.6" height="8.8" rx="4.4" fill="#fff" opacity="0.35"/></g><g transform="translate(1530,800) rotate(10)"><rect x="-35.0" y="-22.0" width="70" height="44" rx="22.0" fill="#c42838"/><rect x="-21.8" y="-16.72" width="43.6" height="8.8" rx="4.4" fill="#fff" opacity="0.35"/></g><g transform="translate(1620,830) rotate(10)"><rect x="-35.0" y="-22.0" width="70" height="44" rx="22.0" fill="#c42838"/><rect x="-21.8" y="-16.72" width="43.6" height="8.8" rx="4.4" fill="#fff" opacity="0.35"/></g><g transform="translate(1510,855) rotate(10)"><rect x="-35.0" y="-22.0" width="70" height="44" rx="22.0" fill="#c42838"/><rect x="-21.8" y="-16.72" width="43.6" height="8.8" rx="4.4" fill="#fff" opacity="0.35"/></g><g transform="translate(1560,790) rotate(10)"><rect x="-35.0" y="-22.0" width="70" height="44" rx="22.0" fill="#c42838"/><rect x="-21.8" y="-16.72" width="43.6" height="8.8" rx="4.4" fill="#fff" opacity="0.35"/></g><path d="M1640,930 L1700,840 L1855,840 L1855,950Z" fill="#d8d8dc"/><g transform="translate(1720,858) rotate(-8)"><rect x="-23.0" y="-11.0" width="46" height="22" rx="11.0" fill="#22a048"/><rect x="-16.4" y="-8.36" width="32.8" height="4.4" rx="2.2" fill="#fff" opacity="0.35"/></g><g transform="translate(1706,888) rotate(-8)"><rect x="-23.0" y="-11.0" width="46" height="22" rx="11.0" fill="#22a048"/><rect x="-16.4" y="-8.36" width="32.8" height="4.4" rx="2.2" fill="#fff" opacity="0.35"/></g><g transform="translate(1692,918) rotate(-8)"><rect x="-23.0" y="-11.0" width="46" height="22" rx="11.0" fill="#22a048"/><rect x="-16.4" y="-8.36" width="32.8" height="4.4" rx="2.2" fill="#fff" opacity="0.35"/></g><g transform="translate(1775,858) rotate(-8)"><rect x="-23.0" y="-11.0" width="46" height="22" rx="11.0" fill="#22a048"/><rect x="-16.4" y="-8.36" width="32.8" height="4.4" rx="2.2" fill="#fff" opacity="0.35"/></g><g transform="translate(1761,888) rotate(-8)"><rect x="-23.0" y="-11.0" width="46" height="22" rx="11.0" fill="#22a048"/><rect x="-16.4" y="-8.36" width="32.8" height="4.4" rx="2.2" fill="#fff" opacity="0.35"/></g><g transform="translate(1747,918) rotate(-8)"><rect x="-23.0" y="-11.0" width="46" height="22" rx="11.0" fill="#22a048"/><rect x="-16.4" y="-8.36" width="32.8" height="4.4" rx="2.2" fill="#fff" opacity="0.35"/></g><g transform="translate(1830,858) rotate(-8)"><rect x="-23.0" y="-11.0" width="46" height="22" rx="11.0" fill="#22a048"/><rect x="-16.4" y="-8.36" width="32.8" height="4.4" rx="2.2" fill="#fff" opacity="0.35"/></g><g transform="translate(1816,888) rotate(-8)"><rect x="-23.0" y="-11.0" width="46" height="22" rx="11.0" fill="#22a048"/><rect x="-16.4" y="-8.36" width="32.8" height="4.4" rx="2.2" fill="#fff" opacity="0.35"/></g><g transform="translate(1802,918) rotate(-8)"><rect x="-23.0" y="-11.0" width="46" height="22" rx="11.0" fill="#22a048"/><rect x="-16.4" y="-8.36" width="32.8" height="4.4" rx="2.2" fill="#fff" opacity="0.35"/></g><path d="M600,930 L740,720 L1210,730 L1230,860 L700,960Z" fill="#a8a098"/><g transform="translate(789.5,756.2) rotate(30)"><rect x="-69.0" y="-29.0" width="138" height="58" rx="29.0" fill="#c25c18"/><rect x="-51.6" y="-22.04" width="103.2" height="11.600000000000001" rx="5.800000000000001" fill="#fff" opacity="0.35"/></g><g transform="translate(899.2,738) rotate(30)"><rect x="-69.0" y="-29.0" width="138" height="58" rx="29.0" fill="#c25c18"/><rect x="-51.6" y="-22.04" width="103.2" height="11.600000000000001" rx="5.800000000000001" fill="#fff" opacity="0.35"/></g><g transform="translate(999.7,719.7) rotate(30)"><rect x="-69.0" y="-29.0" width="138" height="58" rx="29.0" fill="#c25c18"/><rect x="-51.6" y="-22.04" width="103.2" height="11.600000000000001" rx="5.800000000000001" fill="#fff" opacity="0.35"/></g><g transform="translate(707.3,806.5) rotate(30)"><rect x="-69.0" y="-29.0" width="138" height="58" rx="29.0" fill="#c25c18"/><rect x="-51.6" y="-22.04" width="103.2" height="11.600000000000001" rx="5.800000000000001" fill="#fff" opacity="0.35"/></g><g transform="translate(1036.2,806.5) rotate(30)"><rect x="-69.0" y="-29.0" width="138" height="58" rx="29.0" fill="#c25c18"/><rect x="-51.6" y="-22.04" width="103.2" height="11.600000000000001" rx="5.800000000000001" fill="#fff" opacity="0.35"/></g><g transform="translate(1155,788.2) rotate(30)"><rect x="-69.0" y="-29.0" width="138" height="58" rx="29.0" fill="#c25c18"/><rect x="-51.6" y="-22.04" width="103.2" height="11.600000000000001" rx="5.800000000000001" fill="#fff" opacity="0.35"/></g><g transform="translate(680,880) rotate(30)"><rect x="-69.0" y="-29.0" width="138" height="58" rx="29.0" fill="#c25c18"/><rect x="-51.6" y="-22.04" width="103.2" height="11.600000000000001" rx="5.800000000000001" fill="#fff" opacity="0.35"/></g><g transform="translate(900,830) rotate(30)"><rect x="-69.0" y="-29.0" width="138" height="58" rx="29.0" fill="#c25c18"/><rect x="-51.6" y="-22.04" width="103.2" height="11.600000000000001" rx="5.800000000000001" fill="#fff" opacity="0.35"/></g><path d="M110,890 L360,640 L700,690 L720,740 L540,915 L380,920Z" fill="#bcb8c0"/><g transform="translate(433.2,678.6) rotate(6)"><rect x="-75.0" y="-23.0" width="150" height="46" rx="23.0" fill="#b21c22"/><path d="M0,-23.0 L52.0,-23.0 A23.0,23.0 0 0 1 52.0,23.0 L0,23.0Z" fill="#7a5030"/><rect x="-61.2" y="-17.48" width="122.4" height="9.200000000000001" rx="4.6000000000000005" fill="#fff" opacity="0.35"/></g><g transform="translate(387.5,719.7) rotate(6)"><rect x="-75.0" y="-23.0" width="150" height="46" rx="23.0" fill="#b21c22"/><path d="M0,-23.0 L52.0,-23.0 A23.0,23.0 0 0 1 52.0,23.0 L0,23.0Z" fill="#7a5030"/><rect x="-61.2" y="-17.48" width="122.4" height="9.200000000000001" rx="4.6000000000000005" fill="#fff" opacity="0.35"/></g><g transform="translate(341.8,760.8) rotate(6)"><rect x="-75.0" y="-23.0" width="150" height="46" rx="23.0" fill="#b21c22"/><path d="M0,-23.0 L52.0,-23.0 A23.0,23.0 0 0 1 52.0,23.0 L0,23.0Z" fill="#7a5030"/><rect x="-61.2" y="-17.48" width="122.4" height="9.200000000000001" rx="4.6000000000000005" fill="#fff" opacity="0.35"/></g><g transform="translate(291.5,806.5) rotate(6)"><rect x="-75.0" y="-23.0" width="150" height="46" rx="23.0" fill="#b21c22"/><path d="M0,-23.0 L52.0,-23.0 A23.0,23.0 0 0 1 52.0,23.0 L0,23.0Z" fill="#7a5030"/><rect x="-61.2" y="-17.48" width="122.4" height="9.200000000000001" rx="4.6000000000000005" fill="#fff" opacity="0.35"/></g><g transform="translate(236.7,847.6) rotate(6)"><rect x="-75.0" y="-23.0" width="150" height="46" rx="23.0" fill="#b21c22"/><path d="M0,-23.0 L52.0,-23.0 A23.0,23.0 0 0 1 52.0,23.0 L0,23.0Z" fill="#7a5030"/><rect x="-61.2" y="-17.48" width="122.4" height="9.200000000000001" rx="4.6000000000000005" fill="#fff" opacity="0.35"/></g><g transform="translate(625,687.7) rotate(6)"><rect x="-75.0" y="-23.0" width="150" height="46" rx="23.0" fill="#b21c22"/><path d="M0,-23.0 L52.0,-23.0 A23.0,23.0 0 0 1 52.0,23.0 L0,23.0Z" fill="#7a5030"/><rect x="-61.2" y="-17.48" width="122.4" height="9.200000000000001" rx="4.6000000000000005" fill="#fff" opacity="0.35"/></g><g transform="translate(583.9,724.2) rotate(6)"><rect x="-75.0" y="-23.0" width="150" height="46" rx="23.0" fill="#b21c22"/><path d="M0,-23.0 L52.0,-23.0 A23.0,23.0 0 0 1 52.0,23.0 L0,23.0Z" fill="#7a5030"/><rect x="-61.2" y="-17.48" width="122.4" height="9.200000000000001" rx="4.6000000000000005" fill="#fff" opacity="0.35"/></g><g transform="translate(542.8,769.9) rotate(6)"><rect x="-75.0" y="-23.0" width="150" height="46" rx="23.0" fill="#b21c22"/><path d="M0,-23.0 L52.0,-23.0 A23.0,23.0 0 0 1 52.0,23.0 L0,23.0Z" fill="#7a5030"/><rect x="-61.2" y="-17.48" width="122.4" height="9.200000000000001" rx="4.6000000000000005" fill="#fff" opacity="0.35"/></g><g transform="translate(492.6,811) rotate(6)"><rect x="-75.0" y="-23.0" width="150" height="46" rx="23.0" fill="#b21c22"/><path d="M0,-23.0 L52.0,-23.0 A23.0,23.0 0 0 1 52.0,23.0 L0,23.0Z" fill="#7a5030"/><rect x="-61.2" y="-17.48" width="122.4" height="9.200000000000001" rx="4.6000000000000005" fill="#fff" opacity="0.35"/></g><g transform="translate(442.3,861.3) rotate(6)"><rect x="-75.0" y="-23.0" width="150" height="46" rx="23.0" fill="#b21c22"/><path d="M0,-23.0 L52.0,-23.0 A23.0,23.0 0 0 1 52.0,23.0 L0,23.0Z" fill="#7a5030"/><rect x="-61.2" y="-17.48" width="122.4" height="9.200000000000001" rx="4.6000000000000005" fill="#fff" opacity="0.35"/></g><path d="M68,910 L400,905 L560,940 L520,1000 L300,1040 L68,1000Z" fill="#8c8890"/><ellipse cx="168" cy="930" rx="72" ry="26" fill="#26242a"/><ellipse cx="168" cy="922" rx="60" ry="14" fill="#4a4850"/><ellipse cx="300.7" cy="943.5" rx="72" ry="26" fill="#26242a"/><ellipse cx="300.7" cy="935.5" rx="60" ry="14" fill="#4a4850"/><ellipse cx="204.7" cy="993.8" rx="72" ry="26" fill="#26242a"/><ellipse cx="204.7" cy="985.8" rx="60" ry="14" fill="#4a4850"/><ellipse cx="95" cy="960" rx="72" ry="26" fill="#26242a"/><ellipse cx="95" cy="952" rx="60" ry="14" fill="#4a4850"/><path d="M665,885 L1290,800 L1545,1050 L880,1115Z" fill="#c0c0cc"/><path d="M665,885 L1290,800 L1300,812 L680,898Z" fill="#e8e8f0"/><ellipse cx="804.6" cy="917" rx="62" ry="52" fill="#9498a8" opacity="0.55" transform="rotate(50 798.6 907)"/><g transform="translate(798.6,907) rotate(52)"><rect x="-66.0" y="-31.0" width="132" height="62" rx="31.0" fill="#8c98b4"/><path d="M0,-31.0 L35.0,-31.0 A31.0,31.0 0 0 1 35.0,31.0 L0,31.0Z" fill="#1a86d4"/><rect x="-47.400000000000006" y="-23.560000000000002" width="94.80000000000001" height="12.4" rx="6.2" fill="#fff" opacity="0.35"/></g><ellipse cx="928" cy="894.1" rx="62" ry="52" fill="#9498a8" opacity="0.55" transform="rotate(50 922 884.1)"/><g transform="translate(922,884.1) rotate(52)"><rect x="-66.0" y="-31.0" width="132" height="62" rx="31.0" fill="#8c98b4"/><path d="M0,-31.0 L35.0,-31.0 A31.0,31.0 0 0 1 35.0,31.0 L0,31.0Z" fill="#1a86d4"/><rect x="-47.400000000000006" y="-23.560000000000002" width="94.80000000000001" height="12.4" rx="6.2" fill="#fff" opacity="0.35"/></g><ellipse cx="1069.6" cy="885" rx="62" ry="52" fill="#9498a8" opacity="0.55" transform="rotate(50 1063.6 875)"/><g transform="translate(1063.6,875) rotate(52)"><rect x="-66.0" y="-31.0" width="132" height="62" rx="31.0" fill="#8c98b4"/><path d="M0,-31.0 L35.0,-31.0 A31.0,31.0 0 0 1 35.0,31.0 L0,31.0Z" fill="#1a86d4"/><rect x="-47.400000000000006" y="-23.560000000000002" width="94.80000000000001" height="12.4" rx="6.2" fill="#fff" opacity="0.35"/></g><ellipse cx="1197.5" cy="875.9" rx="62" ry="52" fill="#9498a8" opacity="0.55" transform="rotate(50 1191.5 865.9)"/><g transform="translate(1191.5,865.9) rotate(52)"><rect x="-66.0" y="-31.0" width="132" height="62" rx="31.0" fill="#8c98b4"/><path d="M0,-31.0 L35.0,-31.0 A31.0,31.0 0 0 1 35.0,31.0 L0,31.0Z" fill="#1a86d4"/><rect x="-47.400000000000006" y="-23.560000000000002" width="94.80000000000001" height="12.4" rx="6.2" fill="#fff" opacity="0.35"/></g><ellipse cx="1334.6" cy="871.3" rx="62" ry="52" fill="#9498a8" opacity="0.55" transform="rotate(50 1328.6 861.3)"/><g transform="translate(1328.6,861.3) rotate(52)"><rect x="-66.0" y="-31.0" width="132" height="62" rx="31.0" fill="#8c98b4"/><path d="M0,-31.0 L35.0,-31.0 A31.0,31.0 0 0 1 35.0,31.0 L0,31.0Z" fill="#1a86d4"/><rect x="-47.400000000000006" y="-23.560000000000002" width="94.80000000000001" height="12.4" rx="6.2" fill="#fff" opacity="0.35"/></g><ellipse cx="891.5" cy="1035.8" rx="62" ry="52" fill="#9498a8" opacity="0.55" transform="rotate(50 885.5 1025.8)"/><g transform="translate(885.5,1025.8) rotate(52)"><rect x="-66.0" y="-31.0" width="132" height="62" rx="31.0" fill="#8c98b4"/><path d="M0,-31.0 L35.0,-31.0 A31.0,31.0 0 0 1 35.0,31.0 L0,31.0Z" fill="#1a86d4"/><rect x="-47.400000000000006" y="-23.560000000000002" width="94.80000000000001" height="12.4" rx="6.2" fill="#fff" opacity="0.35"/></g><ellipse cx="1024" cy="1017.5" rx="62" ry="52" fill="#9498a8" opacity="0.55" transform="rotate(50 1018 1007.5)"/><g transform="translate(1018,1007.5) rotate(52)"><rect x="-66.0" y="-31.0" width="132" height="62" rx="31.0" fill="#8c98b4"/><path d="M0,-31.0 L35.0,-31.0 A31.0,31.0 0 0 1 35.0,31.0 L0,31.0Z" fill="#1a86d4"/><rect x="-47.400000000000006" y="-23.560000000000002" width="94.80000000000001" height="12.4" rx="6.2" fill="#fff" opacity="0.35"/></g><ellipse cx="1170.1" cy="1008.4" rx="62" ry="52" fill="#9498a8" opacity="0.55" transform="rotate(50 1164.1 998.4)"/><g transform="translate(1164.1,998.4) rotate(52)"><rect x="-66.0" y="-31.0" width="132" height="62" rx="31.0" fill="#8c98b4"/><path d="M0,-31.0 L35.0,-31.0 A31.0,31.0 0 0 1 35.0,31.0 L0,31.0Z" fill="#1a86d4"/><rect x="-47.400000000000006" y="-23.560000000000002" width="94.80000000000001" height="12.4" rx="6.2" fill="#fff" opacity="0.35"/></g><ellipse cx="1298" cy="999.2" rx="62" ry="52" fill="#9498a8" opacity="0.55" transform="rotate(50 1292 989.2)"/><g transform="translate(1292,989.2) rotate(52)"><rect x="-66.0" y="-31.0" width="132" height="62" rx="31.0" fill="#8c98b4"/><path d="M0,-31.0 L35.0,-31.0 A31.0,31.0 0 0 1 35.0,31.0 L0,31.0Z" fill="#1a86d4"/><rect x="-47.400000000000006" y="-23.560000000000002" width="94.80000000000001" height="12.4" rx="6.2" fill="#fff" opacity="0.35"/></g><ellipse cx="1435.1" cy="999.2" rx="62" ry="52" fill="#9498a8" opacity="0.55" transform="rotate(50 1429.1 989.2)"/><g transform="translate(1429.1,989.2) rotate(52)"><rect x="-66.0" y="-31.0" width="132" height="62" rx="31.0" fill="#8c98b4"/><path d="M0,-31.0 L35.0,-31.0 A31.0,31.0 0 0 1 35.0,31.0 L0,31.0Z" fill="#1a86d4"/><rect x="-47.400000000000006" y="-23.560000000000002" width="94.80000000000001" height="12.4" rx="6.2" fill="#fff" opacity="0.35"/></g><ellipse cx="100" cy="860" rx="48" ry="24" fill="#e4dcdc"/><ellipse cx="100" cy="854" rx="46" ry="19" fill="#faf8f8"/><ellipse cx="170" cy="1085" rx="48" ry="24" fill="#e4dcdc"/><ellipse cx="170" cy="1079" rx="46" ry="19" fill="#faf8f8"/><ellipse cx="410" cy="1015" rx="48" ry="24" fill="#e4dcdc"/><ellipse cx="410" cy="1009" rx="46" ry="19" fill="#faf8f8"/><ellipse cx="610" cy="1045" rx="48" ry="24" fill="#e4dcdc"/><ellipse cx="610" cy="1039" rx="46" ry="19" fill="#faf8f8"/><ellipse cx="1560" cy="895" rx="48" ry="24" fill="#e4dcdc"/><ellipse cx="1560" cy="889" rx="46" ry="19" fill="#faf8f8"/><ellipse cx="1700" cy="990" rx="48" ry="24" fill="#e4dcdc"/><ellipse cx="1700" cy="984" rx="46" ry="19" fill="#faf8f8"/><ellipse cx="1650" cy="1085" rx="48" ry="24" fill="#e4dcdc"/><ellipse cx="1650" cy="1079" rx="46" ry="19" fill="#faf8f8"/><ellipse cx="1830" cy="960" rx="48" ry="24" fill="#e4dcdc"/><ellipse cx="1830" cy="954" rx="46" ry="19" fill="#faf8f8"/><ellipse cx="120" cy="770" rx="48" ry="24" fill="#e4dcdc"/><ellipse cx="120" cy="764" rx="46" ry="19" fill="#faf8f8"/></g></g>
<g transform="translate(535,1215) scale(0.170648)" ><defs>
<linearGradient id="aglass" x1="0" y1="0" x2="1" y2="0"><stop offset="0" stop-color="#b4b4b4"/><stop offset="0.25" stop-color="#f4f4f4"/><stop offset="0.75" stop-color="#dcdcdc"/><stop offset="1" stop-color="#a8a8a8"/></linearGradient>
<linearGradient id="acan" x1="0" y1="0" x2="1" y2="0"><stop offset="0" stop-color="#5aa878"/><stop offset="0.3" stop-color="#9cdcb0"/><stop offset="0.7" stop-color="#7cc894"/><stop offset="1" stop-color="#4a9468"/></linearGradient>
<linearGradient id="abeer" x1="0" y1="0" x2="1" y2="0"><stop offset="0" stop-color="#e0a020"/><stop offset="0.4" stop-color="#f8cc48"/><stop offset="1" stop-color="#e0a428"/></linearGradient>
<linearGradient id="ared" x1="0" y1="0" x2="1" y2="0"><stop offset="0" stop-color="#6a1040"/><stop offset="0.45" stop-color="#98205c"/><stop offset="1" stop-color="#5e0c38"/></linearGradient>
<linearGradient id="abrn" x1="0" y1="0" x2="1" y2="0"><stop offset="0" stop-color="#8a3c1c"/><stop offset="0.45" stop-color="#b85c30"/><stop offset="1" stop-color="#8a3c1c"/></linearGradient>
<linearGradient id="awht" x1="0" y1="0" x2="1" y2="0"><stop offset="0" stop-color="#d8c460"/><stop offset="0.45" stop-color="#f8ecA0"/><stop offset="1" stop-color="#dcc868"/></linearGradient>
<linearGradient id="abdy" x1="0" y1="0" x2="1" y2="0"><stop offset="0" stop-color="#a86848"/><stop offset="0.45" stop-color="#d09878"/><stop offset="1" stop-color="#a86848"/></linearGradient>
<filter id="ablur" x="-2%" y="-2%" width="104%" height="104%"><feGaussianBlur stdDeviation="2.4"/></filter>
</defs><g filter="url(#ablur)"><rect x="78" y="290" width="210" height="478" rx="22" fill="url(#acan)"/><rect x="84" y="286" width="198" height="30" rx="14" fill="#d4d8d8"/><rect x="84" y="742" width="198" height="28" rx="14" fill="#c4c8c8"/><rect x="78" y="360" width="210" height="22" fill="#c8ecd4" opacity="0.8"/><rect x="78" y="680" width="210" height="22" fill="#c8ecd4" opacity="0.8"/><ellipse cx="183" cy="530" rx="70" ry="110" fill="none" stroke="#e8f8ec" stroke-width="8"/><path d="M84,580 L272,440 L280,500 L90,640Z" fill="#e4e8e8"/><text x="100" y="600" font-size="74" font-style="italic" font-family="Liberation Serif, serif" fill="#808488" transform="rotate(-34 100 600)">Beer</text><path d="M342,320 L548,320 L532,768 L360,768Z" fill="url(#aglass)" stroke="#b0b0b0" stroke-width="7"/><path d="M356,465 L536,465 L524,722 L366,722Z" fill="url(#abeer)"/><rect x="360" y="728" width="172" height="38" rx="8" fill="#e8e8e8"/><path d="M610,95 L818,95 C822,250 815,400 770,470 C745,500 690,500 660,470 C612,400 604,250 610,95Z" fill="url(#aglass)" stroke="#b0b0b0" stroke-width="7"/><path d="M618,245 L810,245 C812,330 800,420 765,462 C742,490 692,490 665,462 C630,420 616,330 618,245Z" fill="url(#ared)"/><ellipse cx="714" cy="246" rx="96" ry="8" fill="#a83070"/><rect x="704" y="495" width="18" height="232" fill="#d0d0d0"/><path d="M612,760 C640,725 690,718 713,716 C740,718 790,725 818,760 C760,775 670,775 612,760Z" fill="#d4d4d4" stroke="#a8a8a8" stroke-width="5"/><path d="M770,270 C775,350 765,410 745,450" stroke="#fff" stroke-width="10" fill="none" opacity="0.6"/><path d="M878,62 L1070,62 C1085,180 1075,300 1035,370 C1010,410 940,410 912,370 C872,300 862,180 878,62Z" fill="url(#aglass)" stroke="#b0b0b0" stroke-width="7"/><path d="M885,172 L1066,172 C1072,240 1062,320 1030,366 C1008,400 942,400 918,366 C884,320 876,240 885,172Z" fill="url(#abrn)"/><ellipse cx="975" cy="173" rx="90" ry="7" fill="#c06c3c"/><path d="M972,405 C950,470 1000,520 972,600 C955,660 995,690 975,725" stroke="#c8c8c8" stroke-width="22" fill="none"/><path d="M872,760 C900,728 950,720 974,718 C1000,720 1050,728 1078,760 C1020,775 930,775 872,760Z" fill="#d4d4d4" stroke="#a8a8a8" stroke-width="5"/><path d="M1030,190 C1035,260 1025,320 1005,360" stroke="#fff" stroke-width="9" fill="none" opacity="0.55"/><path d="M1135,212 L1337,212 C1342,300 1335,390 1300,435 C1275,465 1200,465 1172,435 C1138,390 1130,300 1135,212Z" fill="url(#aglass)" stroke="#b0b0b0" stroke-width="7"/><path d="M1142,278 L1330,278 C1332,330 1322,395 1295,428 C1272,455 1202,455 1178,428 C1150,395 1140,330 1142,278Z" fill="url(#awht)"/><ellipse cx="1236" cy="279" rx="94" ry="7" fill="#fbf4c0"/><rect x="1228" y="458" width="18" height="268" fill="#d8d8d0"/><path d="M1135,760 C1165,728 1210,720 1237,718 C1262,720 1310,728 1338,760 C1280,775 1195,775 1135,760Z" fill="#d8d8d0" stroke="#a8a8a8" stroke-width="5"/><ellipse cx="1237" cy="735" rx="30" ry="12" fill="#f4ecb0"/><path d="M1425,425 L1565,425 C1600,470 1610,560 1585,610 C1560,650 1430,650 1405,610 C1380,560 1390,470 1425,425Z" fill="url(#aglass)" stroke="#b0b0b0" stroke-width="7"/><path d="M1400,545 L1590,545 C1592,580 1585,605 1570,622 C1545,645 1445,645 1420,622 C1405,605 1398,580 1400,545Z" fill="url(#abdy)"/><ellipse cx="1495" cy="546" rx="95" ry="8" fill="#e0b090"/><path d="M1482,645 L1508,645 L1504,735 L1486,735Z" fill="#d4d4d4"/><path d="M1402,762 C1430,738 1470,730 1495,728 C1520,730 1560,738 1590,762 C1540,775 1450,775 1402,762Z" fill="#d4d4d4" stroke="#a8a8a8" stroke-width="5"/><path d="M1722,572 L1866,572 L1862,768 L1726,768Z" fill="url(#aglass)" stroke="#b0b0b0" stroke-width="6"/><rect x="1732" y="668" width="126" height="82" fill="#d08c38"/><rect x="1745" y="640" width="60" height="60" fill="#f0d0a0" opacity="0.85" transform="rotate(-14 1775 670)"/><rect x="1800" y="660" width="50" height="50" fill="#e8b870" opacity="0.85" transform="rotate(10 1825 685)"/><path d="M1655,620 L1735,620 L1730,768 L1660,768Z" fill="#e6eaec" stroke="#b4b8bc" stroke-width="6"/><rect x="1664" y="730" width="62" height="34" fill="#d0d4d8"/></g><text x="62" y="870" textLength="187" lengthAdjust="spacingAndGlyphs" font-size="66" fill="#231815" font-family="Liberation Sans, sans-serif">About</text><text x="62" y="945" textLength="108" lengthAdjust="spacingAndGlyphs" font-size="66" fill="#231815" font-family="Liberation Sans, sans-serif">5%</text><text x="62" y="1016" textLength="223" lengthAdjust="spacingAndGlyphs" font-size="66" fill="#231815" font-family="Liberation Sans, sans-serif">alcohol</text><text x="330" y="870" textLength="187" lengthAdjust="spacingAndGlyphs" font-size="66" fill="#231815" font-family="Liberation Sans, sans-serif">About</text><text x="330" y="945" textLength="108" lengthAdjust="spacingAndGlyphs" font-size="66" fill="#231815" font-family="Liberation Sans, sans-serif">7%</text><text x="330" y="1016" textLength="223" lengthAdjust="spacingAndGlyphs" font-size="66" fill="#231815" font-family="Liberation Sans, sans-serif">alcohol</text><text x="595" y="870" textLength="187" lengthAdjust="spacingAndGlyphs" font-size="66" fill="#231815" font-family="Liberation Sans, sans-serif">About</text><text x="595" y="945" textLength="147" lengthAdjust="spacingAndGlyphs" font-size="66" fill="#231815" font-family="Liberation Sans, sans-serif">12%</text><text x="595" y="1016" textLength="223" lengthAdjust="spacingAndGlyphs" font-size="66" fill="#231815" font-family="Liberation Sans, sans-serif">alcohol</text><text x="872" y="870" textLength="187" lengthAdjust="spacingAndGlyphs" font-size="66" fill="#231815" font-family="Liberation Sans, sans-serif">About</text><text x="872" y="945" textLength="148" lengthAdjust="spacingAndGlyphs" font-size="66" fill="#231815" font-family="Liberation Sans, sans-serif">17%</text><text x="872" y="1016" textLength="223" lengthAdjust="spacingAndGlyphs" font-size="66" fill="#231815" font-family="Liberation Sans, sans-serif">alcohol</text><text x="1128" y="870" textLength="187" lengthAdjust="spacingAndGlyphs" font-size="66" fill="#231815" font-family="Liberation Sans, sans-serif">About</text><text x="1128" y="945" textLength="147" lengthAdjust="spacingAndGlyphs" font-size="66" fill="#231815" font-family="Liberation Sans, sans-serif">24%</text><text x="1128" y="1016" textLength="223" lengthAdjust="spacingAndGlyphs" font-size="66" fill="#231815" font-family="Liberation Sans, sans-serif">alcohol</text><text x="1385" y="870" textLength="187" lengthAdjust="spacingAndGlyphs" font-size="66" fill="#231815" font-family="Liberation Sans, sans-serif">About</text><text x="1385" y="945" textLength="147" lengthAdjust="spacingAndGlyphs" font-size="66" fill="#231815" font-family="Liberation Sans, sans-serif">40%</text><text x="1385" y="1016" textLength="223" lengthAdjust="spacingAndGlyphs" font-size="66" fill="#231815" font-family="Liberation Sans, sans-serif">alcohol</text><text x="1660" y="870" textLength="150" lengthAdjust="spacingAndGlyphs" font-size="66" fill="#231815" font-family="Liberation Sans, sans-serif">40%</text><text x="1660" y="945" textLength="225" lengthAdjust="spacingAndGlyphs" font-size="66" fill="#231815" font-family="Liberation Sans, sans-serif">alcohol</text></g>
<g transform="translate(860,1230) scale(0.122264)" ><defs>
<filter id="iblur" x="-2%" y="-2%" width="104%" height="104%"><feGaussianBlur stdDeviation="2.5"/></filter>
<filter id="iblur2" x="-40%" y="-40%" width="180%" height="180%"><feGaussianBlur stdDeviation="14"/></filter>
</defs><g filter="url(#iblur)"><path d="M110,1146 C400,1128 800,1122 1200,1136 C1450,1150 1700,1200 1780,1262 C1790,1290 1770,1312 1735,1316 L110,1316Z" fill="#a9c9c7"/><path d="M370.0,960.0C373.3,923.0 383.3,886.7 400.0,860.0C416.7,833.3 443.3,815.0 470.0,800.0C496.7,785.0 521.7,773.0 560.0,770.0C598.3,767.0 651.7,785.0 700.0,782.0C748.3,779.0 800.0,753.7 850.0,752.0C900.0,750.3 953.3,771.0 1000.0,772.0C1046.7,773.0 1091.7,771.3 1130.0,758.0C1168.3,744.7 1196.7,711.3 1230.0,692.0C1263.3,672.7 1293.0,655.7 1330.0,642.0C1367.0,628.3 1431.2,607.0 1452.0,610.0C1472.8,613.0 1463.7,638.0 1455.0,660.0C1446.3,682.0 1422.5,715.0 1400.0,742.0C1377.5,769.0 1348.3,795.3 1320.0,822.0C1291.7,848.7 1258.3,873.7 1230.0,902.0C1201.7,930.3 1175.0,963.7 1150.0,992.0C1125.0,1020.3 1105.0,1047.0 1080.0,1072.0C1055.0,1097.0 1030.0,1120.3 1000.0,1142.0C970.0,1163.7 940.0,1183.7 900.0,1202.0C860.0,1220.3 803.3,1238.7 760.0,1252.0C716.7,1265.3 675.8,1273.7 640.0,1282.0C604.2,1290.3 573.3,1305.3 545.0,1302.0C516.7,1298.7 490.8,1282.0 470.0,1262.0C449.2,1242.0 435.0,1212.0 420.0,1182.0C405.0,1152.0 388.3,1119.0 380.0,1082.0C371.7,1045.0 366.7,997.0 370.0,960.0Z" fill="#e29bb0"/><path d="M520,815 C450,860 430,960 445,1040" stroke="#f07a9c" stroke-width="9" fill="none"/><path d="M1125,800 C1160,850 1160,920 1140,980" stroke="#f07a9c" stroke-width="7" fill="none"/><path d="M375,1052 C320,1040 275,1070 262,1120 C256,1150 254,1165 250,1172" stroke="#ee7098" stroke-width="20" fill="none" stroke-linecap="round"/><ellipse cx="252" cy="1176" rx="30" ry="22" fill="#ee7098"/><path d="M1040,1042 C1110,1030 1170,1060 1192,1110 C1200,1135 1204,1148 1208,1154" stroke="#ee7098" stroke-width="20" fill="none" stroke-linecap="round"/><ellipse cx="1214" cy="1158" rx="30" ry="20" fill="#ee7098"/><path d="M690,1250 C705,1275 725,1285 745,1268 C760,1250 770,1240 790,1244 L830,1252" stroke="#ee7098" stroke-width="14" fill="none" stroke-linecap="round"/><path d="M900,1212 C915,1250 930,1280 955,1278 C975,1262 985,1245 1000,1244 L1050,1262" stroke="#ee7098" stroke-width="14" fill="none" stroke-linecap="round"/><g transform="rotate(-14 660 702)"><ellipse cx="660" cy="702" rx="200" ry="128" fill="#bab4b4"/></g><g transform="translate(580,555) rotate(-20)"><path d="M-30,40 L-80,-50 L-20,-30 L30,-60 L60,-10 L30,40Z" fill="#b4aeae"/></g><text x="555" y="800" font-size="170" font-weight="bold" font-family="Liberation Sans, sans-serif" fill="#6a5aa8" stroke="#6a5aa8" stroke-width="9" textLength="264" lengthAdjust="spacingAndGlyphs" transform="rotate(-18 555 800)">Fe</text><g transform="rotate(12 1030 690)"><ellipse cx="1030" cy="690" rx="178" ry="112" fill="#bab4b4"/></g><g transform="translate(1065,550) rotate(20)"><path d="M-30,40 L-80,-50 L-20,-30 L30,-60 L60,-10 L30,40Z" fill="#b4aeae"/></g><text x="890" y="715" font-size="150" font-weight="bold" font-family="Liberation Sans, sans-serif" fill="#6a5aa8" stroke="#6a5aa8" stroke-width="9" textLength="232" lengthAdjust="spacingAndGlyphs" transform="rotate(10 890 715)">Fe</text><g transform="rotate(4 810 470)"><ellipse cx="810" cy="470" rx="192" ry="122" fill="#bab4b4"/></g><g transform="translate(850,310) rotate(10)"><path d="M-30,40 L-80,-50 L-20,-30 L30,-60 L60,-10 L30,40Z" fill="#b4aeae"/></g><text x="675" y="510" font-size="165" font-weight="bold" font-family="Liberation Sans, sans-serif" fill="#6a5aa8" stroke="#6a5aa8" stroke-width="9" textLength="256" lengthAdjust="spacingAndGlyphs" transform="rotate(6 675 510)">Fe</text><ellipse cx="650" cy="940" rx="85" ry="42" fill="#7a58c4" opacity="0.85" filter="url(#iblur2)"/><ellipse cx="650" cy="940" rx="30" ry="14" fill="#f07098" opacity="0.7"/><circle cx="826" cy="962" r="46" fill="#fff"/><path d="M725,860 C740,900 820,905 895,870" stroke="#e85888" stroke-width="9" fill="none"/><path d="M498,915 C530,900 570,900 600,880" stroke="#e85888" stroke-width="9" fill="none"/><path d="M460,968 C500,960 540,975 555,1000" stroke="#e85888" stroke-width="9" fill="none"/><rect x="575" y="1012" width="200" height="92" rx="26" fill="#f06a92"/><path d="M535,1030 C550,1045 550,1065 540,1075" stroke="#f8c0d0" stroke-width="8" fill="none"/><path d="M800,1030 C785,1045 785,1065 795,1075" stroke="#f8c0d0" stroke-width="8" fill="none"/><line x1="572" y1="195" x2="583" y2="432" stroke="#1a1a1a" stroke-width="8"/><line x1="626" y1="265" x2="630" y2="350" stroke="#1a1a1a" stroke-width="8"/><line x1="1015" y1="240" x2="1018" y2="376" stroke="#1a1a1a" stroke-width="8"/><line x1="1088" y1="246" x2="1080" y2="456" stroke="#1a1a1a" stroke-width="8"/><path d="M465,615 C400,560 320,520 285,535 C260,555 330,600 410,610" stroke="#111" stroke-width="9" fill="none"/><path d="M372,672 C330,655 275,665 270,690 C285,712 330,705 350,702" stroke="#111" stroke-width="9" fill="none"/><path d="M1215,532 C1230,470 1300,410 1350,408 C1390,420 1340,490 1255,512" stroke="#111" stroke-width="9" fill="none"/><path d="M1330,560 C1350,530 1400,515 1435,525 C1440,555 1390,570 1340,575" stroke="#111" stroke-width="9" fill="none"/></g></g>
<g transform="translate(1340,1070) scale(0.289603)" ><defs>
<filter id="abblur" x="-10%" y="-10%" width="120%" height="120%"><feGaussianBlur stdDeviation="7.5"/></filter>
<filter id="abblur2" x="-20%" y="-20%" width="140%" height="140%"><feGaussianBlur stdDeviation="22"/></filter>
</defs><g filter="url(#abblur2)"><ellipse cx="330" cy="750" rx="130" ry="120" fill="#fbeee0" opacity="0.6"/><ellipse cx="620" cy="740" rx="170" ry="150" fill="#f2f7f6" opacity="0.7"/><ellipse cx="450" cy="1110" rx="210" ry="170" fill="#f4f7f4" opacity="0.7"/></g><g filter="url(#abblur)"><rect x="237" y="672" width="36" height="36" fill="#dc8c48"/><rect x="312" y="654" width="36" height="36" fill="#dc8c48"/><rect x="282" y="704" width="36" height="36" fill="#dc8c48"/><rect x="342" y="702" width="36" height="36" fill="#dc8c48"/><rect x="227" y="732" width="36" height="36" fill="#dc8c48"/><rect x="304" y="734" width="36" height="36" fill="#dc8c48"/><rect x="264" y="764" width="36" height="36" fill="#dc8c48"/><rect x="354" y="760" width="36" height="36" fill="#dc8c48"/><rect x="237" y="804" width="36" height="36" fill="#dc8c48"/><rect x="307" y="787" width="36" height="36" fill="#dc8c48"/><rect x="416" y="720" width="50" height="46" fill="#808080"/><rect x="533" y="912" width="50" height="50" fill="#808080"/><line x1="500" y1="610" x2="560" y2="680" stroke="#8cbcb8" stroke-width="18" stroke-linecap="square"/><line x1="560" y1="680" x2="640" y2="640" stroke="#8cbcb8" stroke-width="18" stroke-linecap="square"/><line x1="560" y1="680" x2="540" y2="760" stroke="#8cbcb8" stroke-width="18" stroke-linecap="square"/><line x1="540" y1="760" x2="610" y2="800" stroke="#8cbcb8" stroke-width="18" stroke-linecap="square"/><line x1="610" y1="800" x2="690" y2="760" stroke="#8cbcb8" stroke-width="18" stroke-linecap="square"/><line x1="690" y1="760" x2="700" y2="680" stroke="#8cbcb8" stroke-width="18" stroke-linecap="square"/><line x1="700" y1="680" x2="760" y2="660" stroke="#8cbcb8" stroke-width="18" stroke-linecap="square"/><line x1="640" y1="640" x2="650" y2="600" stroke="#8cbcb8" stroke-width="18" stroke-linecap="square"/><line x1="610" y1="800" x2="600" y2="870" stroke="#8cbcb8" stroke-width="18" stroke-linecap="square"/><line x1="600" y1="870" x2="540" y2="880" stroke="#8cbcb8" stroke-width="18" stroke-linecap="square"/><line x1="600" y1="870" x2="660" y2="880" stroke="#8cbcb8" stroke-width="18" stroke-linecap="square"/><line x1="690" y1="760" x2="690" y2="850" stroke="#8cbcb8" stroke-width="18" stroke-linecap="square"/><line x1="540" y1="760" x2="500" y2="740" stroke="#8cbcb8" stroke-width="18" stroke-linecap="square"/><line x1="650" y1="690" x2="600" y2="720" stroke="#8cbcb8" stroke-width="18" stroke-linecap="square"/><line x1="520" y1="830" x2="560" y2="850" stroke="#8cbcb8" stroke-width="18" stroke-linecap="square"/><line x1="520" y1="640" x2="600" y2="610" stroke="#8cbcb8" stroke-width="18" stroke-linecap="square"/><line x1="580" y1="700" x2="660" y2="720" stroke="#8cbcb8" stroke-width="18" stroke-linecap="square"/><line x1="620" y1="640" x2="700" y2="620" stroke="#8cbcb8" stroke-width="18" stroke-linecap="square"/><line x1="560" y1="790" x2="520" y2="820" stroke="#8cbcb8" stroke-width="18" stroke-linecap="square"/><line x1="640" y1="820" x2="720" y2="800" stroke="#8cbcb8" stroke-width="18" stroke-linecap="square"/><line x1="660" y1="740" x2="730" y2="720" stroke="#8cbcb8" stroke-width="18" stroke-linecap="square"/><line x1="590" y1="610" x2="560" y2="650" stroke="#8cbcb8" stroke-width="18" stroke-linecap="square"/><line x1="700" y1="600" x2="680" y2="660" stroke="#8cbcb8" stroke-width="18" stroke-linecap="square"/><line x1="330" y1="985" x2="400" y2="1030" stroke="#98c4c0" stroke-width="18" stroke-linecap="square"/><line x1="400" y1="1030" x2="480" y2="980" stroke="#98c4c0" stroke-width="18" stroke-linecap="square"/><line x1="480" y1="980" x2="560" y2="1010" stroke="#98c4c0" stroke-width="18" stroke-linecap="square"/><line x1="560" y1="1010" x2="620" y2="980" stroke="#98c4c0" stroke-width="18" stroke-linecap="square"/><line x1="400" y1="1030" x2="380" y2="1110" stroke="#98c4c0" stroke-width="18" stroke-linecap="square"/><line x1="380" y1="1110" x2="300" y2="1100" stroke="#98c4c0" stroke-width="18" stroke-linecap="square"/><line x1="380" y1="1110" x2="430" y2="1170" stroke="#98c4c0" stroke-width="18" stroke-linecap="square"/><line x1="430" y1="1170" x2="520" y2="1150" stroke="#98c4c0" stroke-width="18" stroke-linecap="square"/><line x1="520" y1="1150" x2="560" y2="1080" stroke="#98c4c0" stroke-width="18" stroke-linecap="square"/><line x1="560" y1="1080" x2="560" y2="1010" stroke="#98c4c0" stroke-width="18" stroke-linecap="square"/><line x1="430" y1="1170" x2="420" y2="1260" stroke="#98c4c0" stroke-width="18" stroke-linecap="square"/><line x1="520" y1="1150" x2="560" y2="1200" stroke="#98c4c0" stroke-width="18" stroke-linecap="square"/><line x1="300" y1="1100" x2="290" y2="1190" stroke="#98c4c0" stroke-width="18" stroke-linecap="square"/><line x1="290" y1="1190" x2="260" y2="1200" stroke="#98c4c0" stroke-width="18" stroke-linecap="square"/><line x1="290" y1="1190" x2="310" y2="1240" stroke="#98c4c0" stroke-width="18" stroke-linecap="square"/><line x1="480" y1="980" x2="490" y2="940" stroke="#98c4c0" stroke-width="18" stroke-linecap="square"/><line x1="560" y1="1080" x2="610" y2="1080" stroke="#98c4c0" stroke-width="18" stroke-linecap="square"/><line x1="340" y1="1200" x2="400" y2="1210" stroke="#98c4c0" stroke-width="18" stroke-linecap="square"/><line x1="440" y1="1050" x2="500" y2="1090" stroke="#98c4c0" stroke-width="18" stroke-linecap="square"/><line x1="450" y1="1100" x2="420" y2="1140" stroke="#98c4c0" stroke-width="18" stroke-linecap="square"/><line x1="350" y1="1040" x2="320" y2="1060" stroke="#98c4c0" stroke-width="18" stroke-linecap="square"/><line x1="470" y1="1120" x2="500" y2="1200" stroke="#98c4c0" stroke-width="18" stroke-linecap="square"/><line x1="360" y1="1150" x2="330" y2="1170" stroke="#98c4c0" stroke-width="18" stroke-linecap="square"/><line x1="590" y1="1020" x2="600" y2="1060" stroke="#98c4c0" stroke-width="18" stroke-linecap="square"/><line x1="500" y1="1040" x2="540" y2="1060" stroke="#98c4c0" stroke-width="18" stroke-linecap="square"/><rect x="407" y="967" width="36" height="36" fill="#dc8440"/><rect x="382" y="1022" width="36" height="36" fill="#dc8440"/><rect x="497" y="992" width="36" height="36" fill="#dc8440"/><rect x="327" y="1187" width="36" height="36" fill="#dc8440"/><rect x="402" y="1172" width="36" height="36" fill="#dc8440"/><rect x="467" y="1182" width="36" height="36" fill="#dc8440"/><rect x="317" y="1067" width="36" height="36" fill="#dc8440"/><rect x="507" y="1112" width="36" height="36" fill="#dc8440"/><rect x="442" y="1042" width="36" height="36" fill="#dc8440"/><rect x="408" y="1252" width="30" height="30" fill="#7c8ccc"/></g></g>
</svg>
</body></html>
